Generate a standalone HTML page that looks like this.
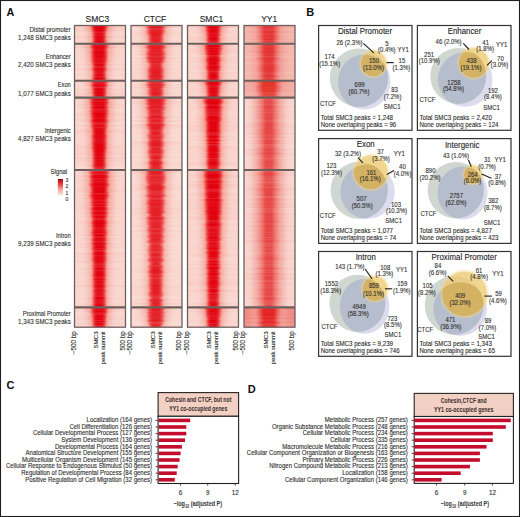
<!DOCTYPE html>
<html><head><meta charset="utf-8"><title>Figure</title>
<style>html,body{margin:0;padding:0;background:#fff;}body{width:520px;height:517px;overflow:hidden;font-family:"Liberation Sans",sans-serif;}svg{display:block;}</style>
</head><body><svg width="520" height="517" viewBox="0 0 520 517" font-family="Liberation Sans, sans-serif"><defs><filter id="bl0" x="-50%" y="-10%" width="200%" height="120%"><feGaussianBlur stdDeviation="0.8 0.2"/></filter><filter id="bl1" x="-50%" y="-10%" width="200%" height="120%"><feGaussianBlur stdDeviation="1.3 0.2"/></filter><filter id="bl2" x="-50%" y="-10%" width="200%" height="120%"><feGaussianBlur stdDeviation="2.2 0.2"/></filter><filter id="bl3" x="-50%" y="-10%" width="200%" height="120%"><feGaussianBlur stdDeviation="3.0 0.2"/></filter><clipPath id="c0_0"><rect x="74.5" y="25.5" width="51.0" height="18.299999999999997"/></clipPath><clipPath id="c0_1"><rect x="74.5" y="43.8" width="51.0" height="37.0"/></clipPath><clipPath id="c0_2"><rect x="74.5" y="80.8" width="51.0" height="16.799999999999997"/></clipPath><clipPath id="c0_3"><rect x="74.5" y="97.6" width="51.0" height="72.4"/></clipPath><clipPath id="c0_4"><rect x="74.5" y="170.0" width="51.0" height="137.39999999999998"/></clipPath><clipPath id="c0_5"><rect x="74.5" y="307.4" width="51.0" height="19.80000000000001"/></clipPath><clipPath id="c1_0"><rect x="131.0" y="25.5" width="51.0" height="18.299999999999997"/></clipPath><clipPath id="c1_1"><rect x="131.0" y="43.8" width="51.0" height="37.0"/></clipPath><clipPath id="c1_2"><rect x="131.0" y="80.8" width="51.0" height="16.799999999999997"/></clipPath><clipPath id="c1_3"><rect x="131.0" y="97.6" width="51.0" height="72.4"/></clipPath><clipPath id="c1_4"><rect x="131.0" y="170.0" width="51.0" height="137.39999999999998"/></clipPath><clipPath id="c1_5"><rect x="131.0" y="307.4" width="51.0" height="19.80000000000001"/></clipPath><clipPath id="c2_0"><rect x="187.5" y="25.5" width="51.0" height="18.299999999999997"/></clipPath><clipPath id="c2_1"><rect x="187.5" y="43.8" width="51.0" height="37.0"/></clipPath><clipPath id="c2_2"><rect x="187.5" y="80.8" width="51.0" height="16.799999999999997"/></clipPath><clipPath id="c2_3"><rect x="187.5" y="97.6" width="51.0" height="72.4"/></clipPath><clipPath id="c2_4"><rect x="187.5" y="170.0" width="51.0" height="137.39999999999998"/></clipPath><clipPath id="c2_5"><rect x="187.5" y="307.4" width="51.0" height="19.80000000000001"/></clipPath><clipPath id="c3_0"><rect x="244.0" y="25.5" width="51.0" height="18.299999999999997"/></clipPath><clipPath id="c3_1"><rect x="244.0" y="43.8" width="51.0" height="37.0"/></clipPath><clipPath id="c3_2"><rect x="244.0" y="80.8" width="51.0" height="16.799999999999997"/></clipPath><clipPath id="c3_3"><rect x="244.0" y="97.6" width="51.0" height="72.4"/></clipPath><clipPath id="c3_4"><rect x="244.0" y="170.0" width="51.0" height="137.39999999999998"/></clipPath><clipPath id="c3_5"><rect x="244.0" y="307.4" width="51.0" height="19.80000000000001"/></clipPath><linearGradient id="sig" x1="0" y1="0" x2="0" y2="1"><stop offset="0" stop-color="#8c0c10"/><stop offset="0.12" stop-color="#c01818"/><stop offset="0.3" stop-color="#ec3a3a"/><stop offset="0.62" stop-color="#f4a49c"/><stop offset="1" stop-color="#fbece8"/></linearGradient><filter id="ysoft" x="-30%" y="-30%" width="160%" height="160%"><feGaussianBlur stdDeviation="0.7"/></filter><clipPath id="cc0"><ellipse cx="359.0" cy="77.8" rx="29.2" ry="29.2"/></clipPath><clipPath id="sc0"><ellipse cx="364.2" cy="82.0" rx="26.3" ry="27.6"/></clipPath><radialGradient id="yg0" cx="373.5" cy="63.6" r="15.6" gradientUnits="userSpaceOnUse"><stop offset="0.744" stop-color="#f0d68e" stop-opacity="0.75"/><stop offset="1" stop-color="#f0d68e" stop-opacity="0"/></radialGradient><clipPath id="cc1"><ellipse cx="458.3" cy="76.0" rx="28.0" ry="28.0"/></clipPath><clipPath id="sc1"><ellipse cx="465.2" cy="79.5" rx="27.3" ry="27.3"/></clipPath><radialGradient id="yg1" cx="473.7" cy="63.0" r="17.7" gradientUnits="userSpaceOnUse"><stop offset="0.774" stop-color="#f0d68e" stop-opacity="0.75"/><stop offset="1" stop-color="#f0d68e" stop-opacity="0"/></radialGradient><clipPath id="cc2"><ellipse cx="359.2" cy="190.3" rx="28.6" ry="28.6"/></clipPath><clipPath id="sc2"><ellipse cx="367.6" cy="191.7" rx="27.2" ry="27.2"/></clipPath><radialGradient id="yg2" cx="370.8" cy="172.4" r="19.8" gradientUnits="userSpaceOnUse"><stop offset="0.798" stop-color="#f0d68e" stop-opacity="0.75"/><stop offset="1" stop-color="#f0d68e" stop-opacity="0"/></radialGradient><clipPath id="cc3"><ellipse cx="455.7" cy="190.2" rx="28.1" ry="28.1"/></clipPath><clipPath id="sc3"><ellipse cx="462.6" cy="193.0" rx="25.0" ry="26.5"/></clipPath><radialGradient id="yg3" cx="473.0" cy="174.8" r="12.0" gradientUnits="userSpaceOnUse"><stop offset="0.667" stop-color="#f0d68e" stop-opacity="0.75"/><stop offset="1" stop-color="#f0d68e" stop-opacity="0"/></radialGradient><clipPath id="cc4"><ellipse cx="357.4" cy="303.3" rx="28.0" ry="28.5"/></clipPath><clipPath id="sc4"><ellipse cx="364.6" cy="306.4" rx="24.8" ry="27.4"/></clipPath><radialGradient id="yg4" cx="375.0" cy="288.6" r="15.2" gradientUnits="userSpaceOnUse"><stop offset="0.737" stop-color="#f0d68e" stop-opacity="0.75"/><stop offset="1" stop-color="#f0d68e" stop-opacity="0"/></radialGradient><clipPath id="cc5"><ellipse cx="454.2" cy="305.3" rx="29.4" ry="29.4"/></clipPath><clipPath id="sc5"><ellipse cx="460.1" cy="309.1" rx="26.8" ry="26.8"/></clipPath><radialGradient id="yg5" cx="464.4" cy="294.0" r="25.3" gradientUnits="userSpaceOnUse"><stop offset="0.842" stop-color="#f0d68e" stop-opacity="0.75"/><stop offset="1" stop-color="#f0d68e" stop-opacity="0"/></radialGradient></defs><rect x="0.5" y="0.5" width="519" height="516" fill="none" stroke="#1e1e1e" stroke-width="1.1"/><text x="6.6" y="15.9" font-size="10.8" text-anchor="start" fill="#111" font-weight="bold" >A</text><g clip-path="url(#c0_0)"><rect x="74.5" y="25.5" width="51.0" height="18.299999999999997" fill="#f9d4cc"/><polygon points="85.5,24.0 86.7,28.0 87.8,32.0 88.7,36.0 89.4,40.0 89.8,44.0 89.9,45.3 108.7,45.3 108.8,44.0 109.2,40.0 109.9,36.0 110.8,32.0 111.9,28.0 113.1,24.0" fill="#f3968a" opacity="0.85" filter="url(#bl3)"/><polygon points="91.2,24.0 91.3,25.0 91.3,26.0 91.6,27.0 91.7,28.0 92.0,29.0 92.3,30.0 92.4,31.0 92.6,32.0 92.7,33.0 93.0,34.0 93.1,35.0 92.8,36.0 92.7,37.0 93.2,38.0 93.3,39.0 93.0,40.0 92.8,41.0 93.1,42.0 93.2,43.0 93.2,44.0 93.4,45.0 93.4,45.3 105.2,45.3 105.2,45.0 105.4,44.0 105.4,43.0 105.5,42.0 105.8,41.0 105.6,40.0 105.3,39.0 105.4,38.0 105.9,37.0 105.8,36.0 105.5,35.0 105.6,34.0 105.9,33.0 106.0,32.0 106.2,31.0 106.3,30.0 106.6,29.0 106.9,28.0 107.0,27.0 107.3,26.0 107.3,25.0 107.4,24.0" fill="#ee3236" filter="url(#bl1)"/><polygon points="93.8,24.0 93.9,25.0 93.9,26.0 94.1,27.0 94.2,28.0 94.4,29.0 94.6,30.0 94.7,31.0 94.8,32.0 94.9,33.0 95.1,34.0 95.2,35.0 95.0,36.0 94.9,37.0 95.2,38.0 95.3,39.0 95.1,40.0 95.0,41.0 95.2,42.0 95.3,43.0 95.3,44.0 95.4,45.0 95.4,45.3 103.2,45.3 103.2,45.0 103.3,44.0 103.3,43.0 103.4,42.0 103.6,41.0 103.5,40.0 103.3,39.0 103.4,38.0 103.7,37.0 103.6,36.0 103.4,35.0 103.5,34.0 103.7,33.0 103.8,32.0 103.9,31.0 104.0,30.0 104.2,29.0 104.4,28.0 104.5,27.0 104.7,26.0 104.7,25.0 104.8,24.0" fill="#e2000f" filter="url(#bl0)"/><rect x="74.5" y="25.50" width="51.0" height="1.0" fill="#e87070" opacity="0.04"/><rect x="74.5" y="26.50" width="51.0" height="1.2" fill="#e87070" opacity="0.04"/><rect x="74.5" y="27.70" width="51.0" height="1.0" fill="#e87070" opacity="0.01"/><rect x="74.5" y="28.70" width="51.0" height="1.0" fill="#e87070" opacity="0.03"/><rect x="74.5" y="29.70" width="51.0" height="0.8" fill="#e87070" opacity="0.04"/><rect x="74.5" y="30.50" width="51.0" height="1.0" fill="#e87070" opacity="0.03"/><rect x="74.5" y="31.50" width="51.0" height="1.6" fill="#ffffff" opacity="0.11"/><rect x="74.5" y="33.10" width="51.0" height="1.6" fill="#ffffff" opacity="0.05"/><rect x="74.5" y="34.70" width="51.0" height="1.0" fill="#ffffff" opacity="0.10"/><rect x="74.5" y="35.70" width="51.0" height="0.8" fill="#e87070" opacity="0.04"/><rect x="74.5" y="36.50" width="51.0" height="1.6" fill="#e87070" opacity="0.06"/><rect x="74.5" y="38.10" width="51.0" height="1.6" fill="#ffffff" opacity="0.04"/><rect x="74.5" y="39.70" width="51.0" height="0.8" fill="#ffffff" opacity="0.07"/><rect x="74.5" y="40.50" width="51.0" height="1.2" fill="#ffffff" opacity="0.02"/><rect x="74.5" y="41.70" width="51.0" height="1.6" fill="#e87070" opacity="0.00"/><rect x="74.5" y="43.30" width="51.0" height="0.8" fill="#e87070" opacity="0.05"/></g><g clip-path="url(#c0_1)"><rect x="74.5" y="43.8" width="51.0" height="37.0" fill="#f9d4cc"/><polygon points="85.3,42.3 86.0,46.3 86.6,50.3 87.2,54.3 87.7,58.3 88.2,62.3 88.6,66.3 89.0,70.3 89.3,74.3 89.5,78.3 89.6,82.3 89.6,82.3 109.0,82.3 109.0,82.3 109.1,78.3 109.3,74.3 109.6,70.3 110.0,66.3 110.4,62.3 110.9,58.3 111.4,54.3 112.0,50.3 112.6,46.3 113.3,42.3" fill="#f3968a" opacity="0.85" filter="url(#bl3)"/><polygon points="89.9,42.3 90.2,43.3 90.8,44.3 91.0,45.3 90.8,46.3 90.9,47.3 91.6,48.3 91.9,49.3 91.6,50.3 91.5,51.3 91.7,52.3 91.6,53.3 91.7,54.3 91.6,55.3 91.6,56.3 91.7,57.3 91.6,58.3 91.7,59.3 91.9,60.3 91.9,61.3 92.1,62.3 92.3,63.3 92.5,64.3 92.8,65.3 92.7,66.3 92.5,67.3 92.4,68.3 92.4,69.3 92.7,70.3 93.1,71.3 93.1,72.3 93.2,73.3 93.3,74.3 93.1,75.3 92.9,76.3 92.6,77.3 92.5,78.3 92.8,79.3 93.2,80.3 93.5,81.3 93.6,82.3 93.5,82.3 105.1,82.3 105.0,82.3 105.1,81.3 105.4,80.3 105.8,79.3 106.1,78.3 106.0,77.3 105.7,76.3 105.5,75.3 105.3,74.3 105.4,73.3 105.5,72.3 105.5,71.3 105.9,70.3 106.2,69.3 106.2,68.3 106.1,67.3 105.9,66.3 105.8,65.3 106.1,64.3 106.3,63.3 106.5,62.3 106.7,61.3 106.7,60.3 106.9,59.3 107.0,58.3 106.9,57.3 107.0,56.3 107.0,55.3 106.9,54.3 107.0,53.3 106.9,52.3 107.1,51.3 107.0,50.3 106.7,49.3 107.0,48.3 107.7,47.3 107.8,46.3 107.6,45.3 107.8,44.3 108.4,43.3 108.7,42.3" fill="#ee3236" filter="url(#bl1)"/><polygon points="92.9,42.3 93.1,43.3 93.5,44.3 93.7,45.3 93.5,46.3 93.6,47.3 94.0,48.3 94.3,49.3 94.1,50.3 94.0,51.3 94.1,52.3 94.1,53.3 94.1,54.3 94.1,55.3 94.1,56.3 94.2,57.3 94.1,58.3 94.1,59.3 94.3,60.3 94.3,61.3 94.4,62.3 94.5,63.3 94.7,64.3 94.9,65.3 94.8,66.3 94.7,67.3 94.6,68.3 94.6,69.3 94.8,70.3 95.1,71.3 95.1,72.3 95.2,73.3 95.2,74.3 95.1,75.3 95.0,76.3 94.8,77.3 94.7,78.3 94.9,79.3 95.2,80.3 95.4,81.3 95.5,82.3 95.3,82.3 103.3,82.3 103.1,82.3 103.2,81.3 103.4,80.3 103.7,79.3 103.9,78.3 103.8,77.3 103.6,76.3 103.5,75.3 103.4,74.3 103.4,73.3 103.5,72.3 103.5,71.3 103.8,70.3 104.0,69.3 104.0,68.3 103.9,67.3 103.8,66.3 103.7,65.3 103.9,64.3 104.1,63.3 104.2,62.3 104.3,61.3 104.3,60.3 104.5,59.3 104.5,58.3 104.4,57.3 104.5,56.3 104.5,55.3 104.5,54.3 104.5,53.3 104.5,52.3 104.6,51.3 104.5,50.3 104.3,49.3 104.6,48.3 105.0,47.3 105.1,46.3 104.9,45.3 105.1,44.3 105.5,43.3 105.7,42.3" fill="#e2000f" filter="url(#bl0)"/><rect x="74.5" y="43.80" width="51.0" height="0.8" fill="#e87070" opacity="0.03"/><rect x="74.5" y="44.60" width="51.0" height="1.0" fill="#ffffff" opacity="0.04"/><rect x="74.5" y="45.60" width="51.0" height="1.0" fill="#ffffff" opacity="0.06"/><rect x="74.5" y="46.60" width="51.0" height="1.2" fill="#e87070" opacity="0.07"/><rect x="74.5" y="47.80" width="51.0" height="0.8" fill="#e87070" opacity="0.03"/><rect x="74.5" y="48.60" width="51.0" height="1.6" fill="#ffffff" opacity="0.06"/><rect x="74.5" y="50.20" width="51.0" height="0.8" fill="#ffffff" opacity="0.07"/><rect x="74.5" y="51.00" width="51.0" height="0.8" fill="#ffffff" opacity="0.03"/><rect x="74.5" y="51.80" width="51.0" height="1.6" fill="#ffffff" opacity="0.02"/><rect x="74.5" y="53.40" width="51.0" height="0.8" fill="#e87070" opacity="0.01"/><rect x="74.5" y="54.20" width="51.0" height="1.0" fill="#ffffff" opacity="0.08"/><rect x="74.5" y="55.20" width="51.0" height="0.8" fill="#ffffff" opacity="0.01"/><rect x="74.5" y="56.00" width="51.0" height="1.6" fill="#ffffff" opacity="0.02"/><rect x="74.5" y="57.60" width="51.0" height="1.2" fill="#ffffff" opacity="0.08"/><rect x="74.5" y="58.80" width="51.0" height="0.8" fill="#ffffff" opacity="0.02"/><rect x="74.5" y="59.60" width="51.0" height="1.6" fill="#ffffff" opacity="0.07"/><rect x="74.5" y="61.20" width="51.0" height="0.8" fill="#e87070" opacity="0.01"/><rect x="74.5" y="62.00" width="51.0" height="1.2" fill="#ffffff" opacity="0.10"/><rect x="74.5" y="63.20" width="51.0" height="1.0" fill="#ffffff" opacity="0.07"/><rect x="74.5" y="64.20" width="51.0" height="1.2" fill="#e87070" opacity="0.01"/><rect x="74.5" y="65.40" width="51.0" height="0.8" fill="#ffffff" opacity="0.11"/><rect x="74.5" y="66.20" width="51.0" height="0.8" fill="#ffffff" opacity="0.10"/><rect x="74.5" y="67.00" width="51.0" height="1.2" fill="#ffffff" opacity="0.13"/><rect x="74.5" y="68.20" width="51.0" height="1.0" fill="#e87070" opacity="0.04"/><rect x="74.5" y="69.20" width="51.0" height="1.2" fill="#e87070" opacity="0.04"/><rect x="74.5" y="70.40" width="51.0" height="1.0" fill="#ffffff" opacity="0.11"/><rect x="74.5" y="71.40" width="51.0" height="1.0" fill="#ffffff" opacity="0.03"/><rect x="74.5" y="72.40" width="51.0" height="1.2" fill="#ffffff" opacity="0.10"/><rect x="74.5" y="73.60" width="51.0" height="1.2" fill="#ffffff" opacity="0.07"/><rect x="74.5" y="74.80" width="51.0" height="1.2" fill="#e87070" opacity="0.03"/><rect x="74.5" y="76.00" width="51.0" height="1.2" fill="#ffffff" opacity="0.13"/><rect x="74.5" y="77.20" width="51.0" height="0.8" fill="#ffffff" opacity="0.03"/><rect x="74.5" y="78.00" width="51.0" height="1.6" fill="#ffffff" opacity="0.03"/><rect x="74.5" y="79.60" width="51.0" height="1.6" fill="#e87070" opacity="0.04"/></g><g clip-path="url(#c0_2)"><rect x="74.5" y="80.8" width="51.0" height="16.799999999999997" fill="#f9d4cc"/><polygon points="85.5,79.3 86.8,83.3 88.0,87.3 88.9,91.3 89.6,95.3 89.9,99.1 108.7,99.1 109.0,95.3 109.7,91.3 110.6,87.3 111.8,83.3 113.1,79.3" fill="#f3968a" opacity="0.85" filter="url(#bl3)"/><polygon points="90.2,79.3 90.7,80.3 90.8,81.3 91.2,82.3 91.7,83.3 91.6,84.3 91.3,85.3 91.5,86.3 91.9,87.3 92.4,88.3 92.7,89.3 92.6,90.3 92.7,91.3 92.6,92.3 92.6,93.3 93.1,94.3 93.2,95.3 92.9,96.3 93.1,97.3 93.7,98.3 93.9,99.1 104.7,99.1 104.9,98.3 105.5,97.3 105.7,96.3 105.4,95.3 105.5,94.3 106.0,93.3 106.0,92.3 105.9,91.3 106.0,90.3 105.9,89.3 106.2,88.3 106.7,87.3 107.1,86.3 107.3,85.3 107.0,84.3 106.9,83.3 107.4,82.3 107.8,81.3 107.9,80.3 108.4,79.3" fill="#ee3236" filter="url(#bl1)"/><polygon points="93.2,79.3 93.5,80.3 93.6,81.3 93.8,82.3 94.2,83.3 94.1,84.3 94.0,85.3 94.1,86.3 94.4,87.3 94.7,88.3 94.9,89.3 94.9,90.3 94.9,91.3 94.8,92.3 94.8,93.3 95.2,94.3 95.2,95.3 95.1,96.3 95.2,97.3 95.6,98.3 95.7,99.1 102.9,99.1 103.0,98.3 103.4,97.3 103.5,96.3 103.4,95.3 103.4,94.3 103.8,93.3 103.8,92.3 103.7,91.3 103.7,90.3 103.7,89.3 103.9,88.3 104.2,87.3 104.5,86.3 104.6,85.3 104.5,84.3 104.4,83.3 104.8,82.3 105.0,81.3 105.1,80.3 105.4,79.3" fill="#e2000f" filter="url(#bl0)"/><rect x="74.5" y="80.80" width="51.0" height="1.6" fill="#ffffff" opacity="0.11"/><rect x="74.5" y="82.40" width="51.0" height="1.6" fill="#ffffff" opacity="0.09"/><rect x="74.5" y="84.00" width="51.0" height="1.0" fill="#ffffff" opacity="0.08"/><rect x="74.5" y="85.00" width="51.0" height="0.8" fill="#e87070" opacity="0.00"/><rect x="74.5" y="85.80" width="51.0" height="0.8" fill="#ffffff" opacity="0.07"/><rect x="74.5" y="86.60" width="51.0" height="1.6" fill="#ffffff" opacity="0.14"/><rect x="74.5" y="88.20" width="51.0" height="1.0" fill="#ffffff" opacity="0.00"/><rect x="74.5" y="89.20" width="51.0" height="1.2" fill="#e87070" opacity="0.04"/><rect x="74.5" y="90.40" width="51.0" height="1.2" fill="#ffffff" opacity="0.04"/><rect x="74.5" y="91.60" width="51.0" height="1.0" fill="#e87070" opacity="0.00"/><rect x="74.5" y="92.60" width="51.0" height="1.2" fill="#e87070" opacity="0.06"/><rect x="74.5" y="93.80" width="51.0" height="1.6" fill="#e87070" opacity="0.06"/><rect x="74.5" y="95.40" width="51.0" height="1.0" fill="#e87070" opacity="0.04"/><rect x="74.5" y="96.40" width="51.0" height="0.8" fill="#ffffff" opacity="0.12"/><rect x="74.5" y="97.20" width="51.0" height="0.8" fill="#ffffff" opacity="0.11"/></g><g clip-path="url(#c0_3)"><rect x="74.5" y="97.6" width="51.0" height="72.4" fill="#f9d4cc"/><polygon points="85.0,96.1 85.4,100.1 85.8,104.1 86.1,108.1 86.5,112.1 86.8,116.1 87.1,120.1 87.4,124.1 87.7,128.1 88.0,132.1 88.2,136.1 88.5,140.1 88.7,144.1 88.9,148.1 89.1,152.1 89.2,156.1 89.4,160.1 89.5,164.1 89.6,168.1 89.6,171.5 109.0,171.5 109.0,168.1 109.1,164.1 109.2,160.1 109.4,156.1 109.5,152.1 109.7,148.1 109.9,144.1 110.1,140.1 110.4,136.1 110.6,132.1 110.9,128.1 111.2,124.1 111.5,120.1 111.8,116.1 112.1,112.1 112.5,108.1 112.8,104.1 113.2,100.1 113.6,96.1" fill="#f3968a" opacity="0.85" filter="url(#bl3)"/><polygon points="90.8,96.1 90.3,97.1 90.1,98.1 90.3,99.1 90.6,100.1 90.5,101.1 90.3,102.1 90.5,103.1 90.9,104.1 91.0,105.1 91.1,106.1 91.1,107.1 90.7,108.1 90.8,109.1 90.8,110.1 90.6,111.1 90.6,112.1 91.0,113.1 91.1,114.1 91.2,115.1 91.2,116.1 91.2,117.1 91.4,118.1 91.5,119.1 91.3,120.1 91.1,121.1 91.1,122.1 91.0,123.1 91.3,124.1 91.8,125.1 91.7,126.1 91.3,127.1 91.6,128.1 92.3,129.1 92.5,130.1 92.4,131.1 92.6,132.1 92.7,133.1 92.6,134.1 92.1,135.1 91.8,136.1 92.0,137.1 92.3,138.1 92.2,139.1 92.3,140.1 92.5,141.1 92.1,142.1 92.1,143.1 92.4,144.1 92.3,145.1 92.5,146.1 92.5,147.1 92.1,148.1 92.4,149.1 92.9,150.1 92.9,151.1 92.8,152.1 93.0,153.1 93.2,154.1 93.0,155.1 93.0,156.1 93.2,157.1 93.1,158.1 93.1,159.1 93.4,160.1 93.2,161.1 93.0,162.1 93.1,163.1 93.2,164.1 92.7,165.1 92.5,166.1 92.8,167.1 93.3,168.1 93.6,169.1 93.4,170.1 93.1,171.1 93.3,171.5 105.3,171.5 105.5,171.1 105.2,170.1 105.0,169.1 105.3,168.1 105.8,167.1 106.1,166.1 105.9,165.1 105.4,164.1 105.5,163.1 105.6,162.1 105.4,161.1 105.2,160.1 105.5,159.1 105.5,158.1 105.4,157.1 105.6,156.1 105.6,155.1 105.4,154.1 105.6,153.1 105.8,152.1 105.7,151.1 105.7,150.1 106.2,149.1 106.5,148.1 106.1,147.1 106.1,146.1 106.3,145.1 106.2,144.1 106.5,143.1 106.5,142.1 106.1,141.1 106.3,140.1 106.4,139.1 106.3,138.1 106.6,137.1 106.8,136.1 106.5,135.1 106.0,134.1 105.9,133.1 106.0,132.1 106.2,131.1 106.1,130.1 106.3,129.1 107.0,128.1 107.3,127.1 106.9,126.1 106.8,125.1 107.3,124.1 107.6,123.1 107.5,122.1 107.5,121.1 107.3,120.1 107.1,119.1 107.2,118.1 107.4,117.1 107.4,116.1 107.4,115.1 107.5,114.1 107.6,113.1 108.0,112.1 108.0,111.1 107.8,110.1 107.8,109.1 107.9,108.1 107.5,107.1 107.5,106.1 107.6,105.1 107.7,104.1 108.1,103.1 108.3,102.1 108.1,101.1 108.0,100.1 108.3,99.1 108.5,98.1 108.3,97.1 107.8,96.1" fill="#ee3236" filter="url(#bl1)"/><polygon points="93.4,96.1 93.1,97.1 92.9,98.1 93.1,99.1 93.3,100.1 93.2,101.1 93.1,102.1 93.2,103.1 93.5,104.1 93.6,105.1 93.7,106.1 93.6,107.1 93.4,108.1 93.4,109.1 93.5,110.1 93.3,111.1 93.3,112.1 93.6,113.1 93.7,114.1 93.7,115.1 93.7,116.1 93.7,117.1 93.8,118.1 93.9,119.1 93.8,120.1 93.7,121.1 93.6,122.1 93.6,123.1 93.8,124.1 94.1,125.1 94.1,126.1 93.8,127.1 94.0,128.1 94.5,129.1 94.6,130.1 94.6,131.1 94.7,132.1 94.8,133.1 94.7,134.1 94.4,135.1 94.1,136.1 94.3,137.1 94.6,138.1 94.5,139.1 94.5,140.1 94.7,141.1 94.4,142.1 94.4,143.1 94.6,144.1 94.6,145.1 94.7,146.1 94.7,147.1 94.4,148.1 94.6,149.1 94.9,150.1 95.0,151.1 94.9,152.1 95.0,153.1 95.2,154.1 95.0,155.1 95.0,156.1 95.1,157.1 95.1,158.1 95.1,159.1 95.3,160.1 95.2,161.1 95.0,162.1 95.1,163.1 95.1,164.1 94.9,165.1 94.7,166.1 94.9,167.1 95.2,168.1 95.4,169.1 95.3,170.1 95.1,171.1 95.2,171.5 103.4,171.5 103.5,171.1 103.3,170.1 103.2,169.1 103.4,168.1 103.7,167.1 103.9,166.1 103.7,165.1 103.5,164.1 103.5,163.1 103.6,162.1 103.4,161.1 103.3,160.1 103.5,159.1 103.5,158.1 103.5,157.1 103.6,156.1 103.6,155.1 103.4,154.1 103.6,153.1 103.7,152.1 103.6,151.1 103.7,150.1 104.0,149.1 104.2,148.1 103.9,147.1 103.9,146.1 104.0,145.1 104.0,144.1 104.2,143.1 104.2,142.1 103.9,141.1 104.1,140.1 104.1,139.1 104.0,138.1 104.3,137.1 104.5,136.1 104.2,135.1 103.9,134.1 103.8,133.1 103.9,132.1 104.0,131.1 104.0,130.1 104.1,129.1 104.6,128.1 104.8,127.1 104.5,126.1 104.5,125.1 104.8,124.1 105.0,123.1 105.0,122.1 104.9,121.1 104.8,120.1 104.7,119.1 104.8,118.1 104.9,117.1 104.9,116.1 104.9,115.1 104.9,114.1 105.0,113.1 105.3,112.1 105.3,111.1 105.1,110.1 105.2,109.1 105.2,108.1 105.0,107.1 104.9,106.1 105.0,105.1 105.1,104.1 105.4,103.1 105.5,102.1 105.4,101.1 105.3,100.1 105.5,99.1 105.7,98.1 105.5,97.1 105.2,96.1" fill="#e2000f" filter="url(#bl0)"/><rect x="74.5" y="97.60" width="51.0" height="1.6" fill="#e87070" opacity="0.06"/><rect x="74.5" y="99.20" width="51.0" height="1.2" fill="#e87070" opacity="0.03"/><rect x="74.5" y="100.40" width="51.0" height="1.6" fill="#ffffff" opacity="0.10"/><rect x="74.5" y="102.00" width="51.0" height="1.2" fill="#e87070" opacity="0.00"/><rect x="74.5" y="103.20" width="51.0" height="1.0" fill="#ffffff" opacity="0.06"/><rect x="74.5" y="104.20" width="51.0" height="1.2" fill="#e87070" opacity="0.07"/><rect x="74.5" y="105.40" width="51.0" height="0.8" fill="#ffffff" opacity="0.11"/><rect x="74.5" y="106.20" width="51.0" height="1.0" fill="#ffffff" opacity="0.01"/><rect x="74.5" y="107.20" width="51.0" height="1.6" fill="#e87070" opacity="0.00"/><rect x="74.5" y="108.80" width="51.0" height="1.6" fill="#ffffff" opacity="0.13"/><rect x="74.5" y="110.40" width="51.0" height="1.0" fill="#e87070" opacity="0.00"/><rect x="74.5" y="111.40" width="51.0" height="1.0" fill="#ffffff" opacity="0.13"/><rect x="74.5" y="112.40" width="51.0" height="1.2" fill="#ffffff" opacity="0.01"/><rect x="74.5" y="113.60" width="51.0" height="1.2" fill="#e87070" opacity="0.04"/><rect x="74.5" y="114.80" width="51.0" height="1.0" fill="#e87070" opacity="0.02"/><rect x="74.5" y="115.80" width="51.0" height="1.0" fill="#ffffff" opacity="0.04"/><rect x="74.5" y="116.80" width="51.0" height="1.2" fill="#ffffff" opacity="0.01"/><rect x="74.5" y="118.00" width="51.0" height="1.0" fill="#ffffff" opacity="0.07"/><rect x="74.5" y="119.00" width="51.0" height="1.6" fill="#e87070" opacity="0.01"/><rect x="74.5" y="120.60" width="51.0" height="1.6" fill="#e87070" opacity="0.05"/><rect x="74.5" y="122.20" width="51.0" height="1.6" fill="#ffffff" opacity="0.14"/><rect x="74.5" y="123.80" width="51.0" height="1.0" fill="#ffffff" opacity="0.14"/><rect x="74.5" y="124.80" width="51.0" height="1.0" fill="#e87070" opacity="0.06"/><rect x="74.5" y="125.80" width="51.0" height="1.0" fill="#ffffff" opacity="0.06"/><rect x="74.5" y="126.80" width="51.0" height="0.8" fill="#ffffff" opacity="0.12"/><rect x="74.5" y="127.60" width="51.0" height="0.8" fill="#ffffff" opacity="0.09"/><rect x="74.5" y="128.40" width="51.0" height="1.6" fill="#ffffff" opacity="0.02"/><rect x="74.5" y="130.00" width="51.0" height="1.6" fill="#e87070" opacity="0.06"/><rect x="74.5" y="131.60" width="51.0" height="1.2" fill="#e87070" opacity="0.04"/><rect x="74.5" y="132.80" width="51.0" height="1.2" fill="#ffffff" opacity="0.01"/><rect x="74.5" y="134.00" width="51.0" height="1.0" fill="#ffffff" opacity="0.04"/><rect x="74.5" y="135.00" width="51.0" height="1.2" fill="#ffffff" opacity="0.05"/><rect x="74.5" y="136.20" width="51.0" height="1.2" fill="#ffffff" opacity="0.03"/><rect x="74.5" y="137.40" width="51.0" height="1.0" fill="#ffffff" opacity="0.05"/><rect x="74.5" y="138.40" width="51.0" height="1.2" fill="#ffffff" opacity="0.05"/><rect x="74.5" y="139.60" width="51.0" height="1.2" fill="#ffffff" opacity="0.07"/><rect x="74.5" y="140.80" width="51.0" height="1.0" fill="#ffffff" opacity="0.07"/><rect x="74.5" y="141.80" width="51.0" height="0.8" fill="#ffffff" opacity="0.04"/><rect x="74.5" y="142.60" width="51.0" height="1.0" fill="#ffffff" opacity="0.06"/><rect x="74.5" y="143.60" width="51.0" height="1.6" fill="#ffffff" opacity="0.00"/><rect x="74.5" y="145.20" width="51.0" height="1.0" fill="#e87070" opacity="0.01"/><rect x="74.5" y="146.20" width="51.0" height="1.0" fill="#e87070" opacity="0.05"/><rect x="74.5" y="147.20" width="51.0" height="1.6" fill="#e87070" opacity="0.05"/><rect x="74.5" y="148.80" width="51.0" height="1.6" fill="#e87070" opacity="0.01"/><rect x="74.5" y="150.40" width="51.0" height="1.0" fill="#e87070" opacity="0.00"/><rect x="74.5" y="151.40" width="51.0" height="1.6" fill="#e87070" opacity="0.05"/><rect x="74.5" y="153.00" width="51.0" height="1.0" fill="#e87070" opacity="0.06"/><rect x="74.5" y="154.00" width="51.0" height="0.8" fill="#e87070" opacity="0.06"/><rect x="74.5" y="154.80" width="51.0" height="1.0" fill="#ffffff" opacity="0.01"/><rect x="74.5" y="155.80" width="51.0" height="1.0" fill="#ffffff" opacity="0.09"/><rect x="74.5" y="156.80" width="51.0" height="1.6" fill="#e87070" opacity="0.06"/><rect x="74.5" y="158.40" width="51.0" height="0.8" fill="#e87070" opacity="0.04"/><rect x="74.5" y="159.20" width="51.0" height="1.0" fill="#ffffff" opacity="0.07"/><rect x="74.5" y="160.20" width="51.0" height="1.6" fill="#e87070" opacity="0.06"/><rect x="74.5" y="161.80" width="51.0" height="0.8" fill="#ffffff" opacity="0.09"/><rect x="74.5" y="162.60" width="51.0" height="1.6" fill="#ffffff" opacity="0.04"/><rect x="74.5" y="164.20" width="51.0" height="1.2" fill="#ffffff" opacity="0.03"/><rect x="74.5" y="165.40" width="51.0" height="1.0" fill="#ffffff" opacity="0.10"/><rect x="74.5" y="166.40" width="51.0" height="1.6" fill="#ffffff" opacity="0.12"/><rect x="74.5" y="168.00" width="51.0" height="1.6" fill="#ffffff" opacity="0.13"/><rect x="74.5" y="169.60" width="51.0" height="0.8" fill="#e87070" opacity="0.04"/></g><g clip-path="url(#c0_4)"><rect x="74.5" y="170.0" width="51.0" height="137.39999999999998" fill="#f9d4cc"/><polygon points="84.7,168.5 84.9,172.5 85.2,176.5 85.4,180.5 85.6,184.5 85.8,188.5 86.0,192.5 86.2,196.5 86.4,200.5 86.6,204.5 86.8,208.5 87.0,212.5 87.2,216.5 87.4,220.5 87.5,224.5 87.7,228.5 87.9,232.5 88.0,236.5 88.2,240.5 88.3,244.5 88.5,248.5 88.6,252.5 88.7,256.5 88.9,260.5 89.0,264.5 89.1,268.5 89.2,272.5 89.3,276.5 89.4,280.5 89.5,284.5 89.6,288.5 89.6,292.5 89.7,296.5 89.7,300.5 89.8,304.5 89.8,308.5 89.8,308.9 108.8,308.9 108.8,308.5 108.8,304.5 108.9,300.5 108.9,296.5 109.0,292.5 109.0,288.5 109.1,284.5 109.2,280.5 109.3,276.5 109.4,272.5 109.5,268.5 109.6,264.5 109.7,260.5 109.9,256.5 110.0,252.5 110.1,248.5 110.3,244.5 110.4,240.5 110.6,236.5 110.7,232.5 110.9,228.5 111.1,224.5 111.2,220.5 111.4,216.5 111.6,212.5 111.8,208.5 112.0,204.5 112.2,200.5 112.4,196.5 112.6,192.5 112.8,188.5 113.0,184.5 113.2,180.5 113.4,176.5 113.7,172.5 113.9,168.5" fill="#f3968a" opacity="0.85" filter="url(#bl3)"/><polygon points="90.4,168.5 90.1,169.5 90.0,170.5 89.8,171.5 89.7,172.5 90.1,173.5 90.5,174.5 90.4,175.5 90.0,176.5 90.0,177.5 90.6,178.5 90.8,179.5 90.4,180.5 90.3,181.5 90.6,182.5 90.5,183.5 90.0,184.5 89.8,185.5 90.4,186.5 91.0,187.5 91.2,188.5 91.0,189.5 91.2,190.5 91.3,191.5 90.7,192.5 90.1,193.5 90.2,194.5 90.5,195.5 90.3,196.5 90.5,197.5 91.4,198.5 91.5,199.5 91.1,200.5 91.3,201.5 91.3,202.5 91.1,203.5 91.1,204.5 91.6,205.5 91.8,206.5 91.6,207.5 91.2,208.5 91.0,209.5 91.5,210.5 91.6,211.5 91.1,212.5 91.1,213.5 91.4,214.5 91.4,215.5 91.6,216.5 91.9,217.5 92.1,218.5 92.1,219.5 92.0,220.5 92.0,221.5 91.7,222.5 91.6,223.5 92.1,224.5 92.3,225.5 92.0,226.5 92.2,227.5 92.5,228.5 92.1,229.5 91.9,230.5 92.0,231.5 91.7,232.5 91.5,233.5 91.7,234.5 92.3,235.5 92.5,236.5 92.1,237.5 92.1,238.5 92.2,239.5 92.0,240.5 92.2,241.5 92.3,242.5 92.0,243.5 92.0,244.5 92.5,245.5 92.7,246.5 92.4,247.5 92.2,248.5 92.2,249.5 92.4,250.5 92.9,251.5 92.8,252.5 92.4,253.5 92.4,254.5 92.7,255.5 92.7,256.5 92.5,257.5 92.3,258.5 92.3,259.5 92.6,260.5 93.0,261.5 93.0,262.5 93.0,263.5 92.9,264.5 92.6,265.5 92.6,266.5 92.9,267.5 93.1,268.5 92.9,269.5 92.9,270.5 93.1,271.5 93.1,272.5 93.2,273.5 93.0,274.5 92.7,275.5 92.8,276.5 93.1,277.5 93.1,278.5 92.9,279.5 93.0,280.5 93.1,281.5 93.4,282.5 93.4,283.5 93.2,284.5 93.3,285.5 93.2,286.5 93.1,287.5 93.4,288.5 93.5,289.5 93.1,290.5 93.0,291.5 93.2,292.5 93.4,293.5 93.4,294.5 93.1,295.5 93.1,296.5 93.2,297.5 93.3,298.5 93.2,299.5 93.1,300.5 92.9,301.5 93.1,302.5 93.3,303.5 93.2,304.5 93.2,305.5 93.3,306.5 93.4,307.5 93.3,308.5 93.0,308.9 105.6,308.9 105.3,308.5 105.2,307.5 105.3,306.5 105.4,305.5 105.4,304.5 105.3,303.5 105.5,302.5 105.7,301.5 105.5,300.5 105.4,299.5 105.3,298.5 105.4,297.5 105.5,296.5 105.5,295.5 105.2,294.5 105.2,293.5 105.4,292.5 105.6,291.5 105.5,290.5 105.1,289.5 105.2,288.5 105.5,287.5 105.4,286.5 105.3,285.5 105.4,284.5 105.2,283.5 105.2,282.5 105.5,281.5 105.6,280.5 105.7,279.5 105.5,278.5 105.5,277.5 105.8,276.5 105.9,275.5 105.6,274.5 105.4,273.5 105.5,272.5 105.5,271.5 105.7,270.5 105.7,269.5 105.5,268.5 105.7,267.5 106.0,266.5 106.0,265.5 105.7,264.5 105.6,263.5 105.6,262.5 105.6,261.5 106.0,260.5 106.3,259.5 106.3,258.5 106.1,257.5 105.9,256.5 105.9,255.5 106.2,254.5 106.2,253.5 105.8,252.5 105.7,251.5 106.2,250.5 106.4,249.5 106.4,248.5 106.2,247.5 105.9,246.5 106.1,245.5 106.6,244.5 106.6,243.5 106.3,242.5 106.4,241.5 106.6,240.5 106.4,239.5 106.5,238.5 106.5,237.5 106.1,236.5 106.3,235.5 106.9,234.5 107.1,233.5 106.9,232.5 106.6,231.5 106.7,230.5 106.5,229.5 106.1,228.5 106.4,227.5 106.6,226.5 106.3,225.5 106.5,224.5 107.0,223.5 106.9,222.5 106.6,221.5 106.6,220.5 106.5,219.5 106.5,218.5 106.7,217.5 107.0,216.5 107.2,215.5 107.2,214.5 107.5,213.5 107.5,212.5 107.0,211.5 107.1,210.5 107.6,209.5 107.4,208.5 107.0,207.5 106.8,206.5 107.0,205.5 107.5,204.5 107.5,203.5 107.3,202.5 107.3,201.5 107.5,200.5 107.1,199.5 107.2,198.5 108.1,197.5 108.3,196.5 108.1,195.5 108.4,194.5 108.5,193.5 107.9,192.5 107.3,191.5 107.4,190.5 107.6,189.5 107.4,188.5 107.6,187.5 108.2,186.5 108.8,185.5 108.6,184.5 108.1,183.5 108.0,182.5 108.3,181.5 108.2,180.5 107.8,179.5 108.0,178.5 108.6,177.5 108.6,176.5 108.2,175.5 108.1,174.5 108.5,173.5 108.9,172.5 108.8,171.5 108.6,170.5 108.5,169.5 108.2,168.5" fill="#ee3236" filter="url(#bl1)"/><polygon points="93.0,168.5 92.8,169.5 92.8,170.5 92.7,171.5 92.6,172.5 92.8,173.5 93.1,174.5 93.1,175.5 92.8,176.5 92.8,177.5 93.2,178.5 93.4,179.5 93.1,180.5 93.0,181.5 93.2,182.5 93.1,183.5 92.8,184.5 92.7,185.5 93.1,186.5 93.5,187.5 93.6,188.5 93.5,189.5 93.6,190.5 93.7,191.5 93.3,192.5 92.9,193.5 92.9,194.5 93.2,195.5 93.1,196.5 93.2,197.5 93.8,198.5 93.9,199.5 93.6,200.5 93.7,201.5 93.8,202.5 93.6,203.5 93.6,204.5 93.9,205.5 94.1,206.5 94.0,207.5 93.7,208.5 93.6,209.5 93.9,210.5 94.0,211.5 93.6,212.5 93.7,213.5 93.9,214.5 93.9,215.5 94.0,216.5 94.2,217.5 94.3,218.5 94.3,219.5 94.3,220.5 94.3,221.5 94.1,222.5 94.0,223.5 94.4,224.5 94.5,225.5 94.3,226.5 94.4,227.5 94.6,228.5 94.3,229.5 94.2,230.5 94.3,231.5 94.1,232.5 94.0,233.5 94.1,234.5 94.5,235.5 94.7,236.5 94.4,237.5 94.4,238.5 94.5,239.5 94.3,240.5 94.5,241.5 94.6,242.5 94.3,243.5 94.3,244.5 94.7,245.5 94.8,246.5 94.6,247.5 94.5,248.5 94.4,249.5 94.6,250.5 94.9,251.5 94.9,252.5 94.6,253.5 94.6,254.5 94.8,255.5 94.8,256.5 94.7,257.5 94.6,258.5 94.6,259.5 94.8,260.5 95.0,261.5 95.0,262.5 95.1,263.5 95.0,264.5 94.8,265.5 94.8,266.5 95.0,267.5 95.1,268.5 95.0,269.5 95.0,270.5 95.1,271.5 95.1,272.5 95.2,273.5 95.1,274.5 94.9,275.5 95.0,276.5 95.1,277.5 95.1,278.5 95.0,279.5 95.1,280.5 95.2,281.5 95.3,282.5 95.3,283.5 95.2,284.5 95.3,285.5 95.2,286.5 95.1,287.5 95.4,288.5 95.4,289.5 95.2,290.5 95.1,291.5 95.2,292.5 95.4,293.5 95.4,294.5 95.2,295.5 95.2,296.5 95.3,297.5 95.3,298.5 95.2,299.5 95.1,300.5 95.0,301.5 95.1,302.5 95.3,303.5 95.2,304.5 95.2,305.5 95.3,306.5 95.3,307.5 95.3,308.5 95.1,308.9 103.5,308.9 103.3,308.5 103.3,307.5 103.3,306.5 103.4,305.5 103.4,304.5 103.3,303.5 103.5,302.5 103.6,301.5 103.5,300.5 103.4,299.5 103.3,298.5 103.3,297.5 103.4,296.5 103.4,295.5 103.2,294.5 103.2,293.5 103.4,292.5 103.5,291.5 103.4,290.5 103.2,289.5 103.2,288.5 103.5,287.5 103.4,286.5 103.3,285.5 103.4,284.5 103.3,283.5 103.3,282.5 103.4,281.5 103.5,280.5 103.6,279.5 103.5,278.5 103.5,277.5 103.6,276.5 103.7,275.5 103.5,274.5 103.4,273.5 103.5,272.5 103.5,271.5 103.6,270.5 103.6,269.5 103.5,268.5 103.6,267.5 103.8,266.5 103.8,265.5 103.6,264.5 103.5,263.5 103.6,262.5 103.6,261.5 103.8,260.5 104.0,259.5 104.0,258.5 103.9,257.5 103.8,256.5 103.8,255.5 104.0,254.5 104.0,253.5 103.7,252.5 103.7,251.5 104.0,250.5 104.2,249.5 104.1,248.5 104.0,247.5 103.8,246.5 103.9,245.5 104.3,244.5 104.3,243.5 104.0,242.5 104.1,241.5 104.3,240.5 104.1,239.5 104.2,238.5 104.2,237.5 103.9,236.5 104.1,235.5 104.5,234.5 104.6,233.5 104.5,232.5 104.3,231.5 104.4,230.5 104.3,229.5 104.0,228.5 104.2,227.5 104.3,226.5 104.1,225.5 104.2,224.5 104.6,223.5 104.5,222.5 104.3,221.5 104.3,220.5 104.3,219.5 104.3,218.5 104.4,217.5 104.6,216.5 104.7,215.5 104.7,214.5 104.9,213.5 105.0,212.5 104.6,211.5 104.7,210.5 105.0,209.5 104.9,208.5 104.6,207.5 104.5,206.5 104.7,205.5 105.0,204.5 105.0,203.5 104.8,202.5 104.9,201.5 105.0,200.5 104.7,199.5 104.8,198.5 105.4,197.5 105.5,196.5 105.4,195.5 105.7,194.5 105.7,193.5 105.3,192.5 104.9,191.5 105.0,190.5 105.1,189.5 105.0,188.5 105.1,187.5 105.5,186.5 105.9,185.5 105.8,184.5 105.5,183.5 105.4,182.5 105.6,181.5 105.5,180.5 105.2,179.5 105.4,178.5 105.8,177.5 105.8,176.5 105.5,175.5 105.5,174.5 105.8,173.5 106.0,172.5 105.9,171.5 105.8,170.5 105.8,169.5 105.6,168.5" fill="#e2000f" filter="url(#bl0)"/><rect x="74.5" y="170.00" width="51.0" height="1.0" fill="#e87070" opacity="0.00"/><rect x="74.5" y="171.00" width="51.0" height="1.6" fill="#ffffff" opacity="0.14"/><rect x="74.5" y="172.60" width="51.0" height="0.8" fill="#e87070" opacity="0.01"/><rect x="74.5" y="173.40" width="51.0" height="1.6" fill="#ffffff" opacity="0.14"/><rect x="74.5" y="175.00" width="51.0" height="0.8" fill="#ffffff" opacity="0.03"/><rect x="74.5" y="175.80" width="51.0" height="0.8" fill="#e87070" opacity="0.07"/><rect x="74.5" y="176.60" width="51.0" height="1.6" fill="#ffffff" opacity="0.01"/><rect x="74.5" y="178.20" width="51.0" height="0.8" fill="#ffffff" opacity="0.11"/><rect x="74.5" y="179.00" width="51.0" height="0.8" fill="#ffffff" opacity="0.09"/><rect x="74.5" y="179.80" width="51.0" height="1.0" fill="#e87070" opacity="0.04"/><rect x="74.5" y="180.80" width="51.0" height="1.6" fill="#ffffff" opacity="0.10"/><rect x="74.5" y="182.40" width="51.0" height="0.8" fill="#e87070" opacity="0.00"/><rect x="74.5" y="183.20" width="51.0" height="1.0" fill="#ffffff" opacity="0.05"/><rect x="74.5" y="184.20" width="51.0" height="0.8" fill="#ffffff" opacity="0.00"/><rect x="74.5" y="185.00" width="51.0" height="1.6" fill="#ffffff" opacity="0.04"/><rect x="74.5" y="186.60" width="51.0" height="1.0" fill="#ffffff" opacity="0.07"/><rect x="74.5" y="187.60" width="51.0" height="1.0" fill="#ffffff" opacity="0.00"/><rect x="74.5" y="188.60" width="51.0" height="1.2" fill="#ffffff" opacity="0.01"/><rect x="74.5" y="189.80" width="51.0" height="1.6" fill="#e87070" opacity="0.06"/><rect x="74.5" y="191.40" width="51.0" height="1.6" fill="#ffffff" opacity="0.01"/><rect x="74.5" y="193.00" width="51.0" height="1.6" fill="#ffffff" opacity="0.13"/><rect x="74.5" y="194.60" width="51.0" height="1.6" fill="#ffffff" opacity="0.00"/><rect x="74.5" y="196.20" width="51.0" height="1.6" fill="#ffffff" opacity="0.05"/><rect x="74.5" y="197.80" width="51.0" height="1.0" fill="#ffffff" opacity="0.00"/><rect x="74.5" y="198.80" width="51.0" height="0.8" fill="#ffffff" opacity="0.03"/><rect x="74.5" y="199.60" width="51.0" height="1.2" fill="#ffffff" opacity="0.11"/><rect x="74.5" y="200.80" width="51.0" height="1.0" fill="#ffffff" opacity="0.07"/><rect x="74.5" y="201.80" width="51.0" height="1.2" fill="#e87070" opacity="0.01"/><rect x="74.5" y="203.00" width="51.0" height="1.6" fill="#ffffff" opacity="0.09"/><rect x="74.5" y="204.60" width="51.0" height="1.6" fill="#e87070" opacity="0.03"/><rect x="74.5" y="206.20" width="51.0" height="0.8" fill="#ffffff" opacity="0.13"/><rect x="74.5" y="207.00" width="51.0" height="1.6" fill="#ffffff" opacity="0.01"/><rect x="74.5" y="208.60" width="51.0" height="1.0" fill="#e87070" opacity="0.03"/><rect x="74.5" y="209.60" width="51.0" height="0.8" fill="#ffffff" opacity="0.03"/><rect x="74.5" y="210.40" width="51.0" height="1.2" fill="#ffffff" opacity="0.10"/><rect x="74.5" y="211.60" width="51.0" height="1.0" fill="#ffffff" opacity="0.05"/><rect x="74.5" y="212.60" width="51.0" height="1.6" fill="#e87070" opacity="0.00"/><rect x="74.5" y="214.20" width="51.0" height="1.6" fill="#ffffff" opacity="0.12"/><rect x="74.5" y="215.80" width="51.0" height="1.6" fill="#ffffff" opacity="0.02"/><rect x="74.5" y="217.40" width="51.0" height="0.8" fill="#ffffff" opacity="0.04"/><rect x="74.5" y="218.20" width="51.0" height="1.6" fill="#ffffff" opacity="0.13"/><rect x="74.5" y="219.80" width="51.0" height="1.0" fill="#ffffff" opacity="0.05"/><rect x="74.5" y="220.80" width="51.0" height="1.6" fill="#e87070" opacity="0.01"/><rect x="74.5" y="222.40" width="51.0" height="1.6" fill="#e87070" opacity="0.01"/><rect x="74.5" y="224.00" width="51.0" height="1.6" fill="#ffffff" opacity="0.03"/><rect x="74.5" y="225.60" width="51.0" height="1.6" fill="#ffffff" opacity="0.00"/><rect x="74.5" y="227.20" width="51.0" height="1.0" fill="#ffffff" opacity="0.11"/><rect x="74.5" y="228.20" width="51.0" height="0.8" fill="#ffffff" opacity="0.05"/><rect x="74.5" y="229.00" width="51.0" height="0.8" fill="#ffffff" opacity="0.11"/><rect x="74.5" y="229.80" width="51.0" height="1.2" fill="#ffffff" opacity="0.03"/><rect x="74.5" y="231.00" width="51.0" height="1.2" fill="#ffffff" opacity="0.05"/><rect x="74.5" y="232.20" width="51.0" height="0.8" fill="#e87070" opacity="0.02"/><rect x="74.5" y="233.00" width="51.0" height="1.2" fill="#ffffff" opacity="0.13"/><rect x="74.5" y="234.20" width="51.0" height="0.8" fill="#e87070" opacity="0.05"/><rect x="74.5" y="235.00" width="51.0" height="0.8" fill="#ffffff" opacity="0.00"/><rect x="74.5" y="235.80" width="51.0" height="0.8" fill="#ffffff" opacity="0.07"/><rect x="74.5" y="236.60" width="51.0" height="1.6" fill="#ffffff" opacity="0.11"/><rect x="74.5" y="238.20" width="51.0" height="1.6" fill="#ffffff" opacity="0.02"/><rect x="74.5" y="239.80" width="51.0" height="1.0" fill="#e87070" opacity="0.00"/><rect x="74.5" y="240.80" width="51.0" height="1.2" fill="#ffffff" opacity="0.12"/><rect x="74.5" y="242.00" width="51.0" height="1.0" fill="#ffffff" opacity="0.05"/><rect x="74.5" y="243.00" width="51.0" height="1.6" fill="#e87070" opacity="0.03"/><rect x="74.5" y="244.60" width="51.0" height="0.8" fill="#ffffff" opacity="0.07"/><rect x="74.5" y="245.40" width="51.0" height="1.0" fill="#ffffff" opacity="0.03"/><rect x="74.5" y="246.40" width="51.0" height="0.8" fill="#e87070" opacity="0.03"/><rect x="74.5" y="247.20" width="51.0" height="1.2" fill="#ffffff" opacity="0.02"/><rect x="74.5" y="248.40" width="51.0" height="0.8" fill="#ffffff" opacity="0.14"/><rect x="74.5" y="249.20" width="51.0" height="0.8" fill="#ffffff" opacity="0.03"/><rect x="74.5" y="250.00" width="51.0" height="1.6" fill="#ffffff" opacity="0.14"/><rect x="74.5" y="251.60" width="51.0" height="1.0" fill="#ffffff" opacity="0.03"/><rect x="74.5" y="252.60" width="51.0" height="1.6" fill="#e87070" opacity="0.04"/><rect x="74.5" y="254.20" width="51.0" height="1.0" fill="#e87070" opacity="0.05"/><rect x="74.5" y="255.20" width="51.0" height="0.8" fill="#ffffff" opacity="0.11"/><rect x="74.5" y="256.00" width="51.0" height="1.2" fill="#ffffff" opacity="0.04"/><rect x="74.5" y="257.20" width="51.0" height="1.2" fill="#ffffff" opacity="0.04"/><rect x="74.5" y="258.40" width="51.0" height="1.0" fill="#ffffff" opacity="0.06"/><rect x="74.5" y="259.40" width="51.0" height="1.0" fill="#ffffff" opacity="0.03"/><rect x="74.5" y="260.40" width="51.0" height="1.0" fill="#ffffff" opacity="0.05"/><rect x="74.5" y="261.40" width="51.0" height="1.2" fill="#e87070" opacity="0.07"/><rect x="74.5" y="262.60" width="51.0" height="1.0" fill="#ffffff" opacity="0.09"/><rect x="74.5" y="263.60" width="51.0" height="1.6" fill="#ffffff" opacity="0.14"/><rect x="74.5" y="265.20" width="51.0" height="0.8" fill="#ffffff" opacity="0.07"/><rect x="74.5" y="266.00" width="51.0" height="1.6" fill="#ffffff" opacity="0.13"/><rect x="74.5" y="267.60" width="51.0" height="1.2" fill="#ffffff" opacity="0.03"/><rect x="74.5" y="268.80" width="51.0" height="1.0" fill="#e87070" opacity="0.04"/><rect x="74.5" y="269.80" width="51.0" height="1.0" fill="#ffffff" opacity="0.13"/><rect x="74.5" y="270.80" width="51.0" height="1.0" fill="#ffffff" opacity="0.06"/><rect x="74.5" y="271.80" width="51.0" height="0.8" fill="#e87070" opacity="0.01"/><rect x="74.5" y="272.60" width="51.0" height="1.2" fill="#ffffff" opacity="0.03"/><rect x="74.5" y="273.80" width="51.0" height="1.2" fill="#ffffff" opacity="0.02"/><rect x="74.5" y="275.00" width="51.0" height="1.2" fill="#e87070" opacity="0.00"/><rect x="74.5" y="276.20" width="51.0" height="1.0" fill="#ffffff" opacity="0.11"/><rect x="74.5" y="277.20" width="51.0" height="1.6" fill="#ffffff" opacity="0.09"/><rect x="74.5" y="278.80" width="51.0" height="1.2" fill="#ffffff" opacity="0.01"/><rect x="74.5" y="280.00" width="51.0" height="1.6" fill="#ffffff" opacity="0.08"/><rect x="74.5" y="281.60" width="51.0" height="1.6" fill="#ffffff" opacity="0.01"/><rect x="74.5" y="283.20" width="51.0" height="1.0" fill="#ffffff" opacity="0.09"/><rect x="74.5" y="284.20" width="51.0" height="1.0" fill="#ffffff" opacity="0.06"/><rect x="74.5" y="285.20" width="51.0" height="1.6" fill="#e87070" opacity="0.07"/><rect x="74.5" y="286.80" width="51.0" height="1.2" fill="#ffffff" opacity="0.06"/><rect x="74.5" y="288.00" width="51.0" height="1.2" fill="#ffffff" opacity="0.10"/><rect x="74.5" y="289.20" width="51.0" height="1.6" fill="#ffffff" opacity="0.06"/><rect x="74.5" y="290.80" width="51.0" height="1.0" fill="#ffffff" opacity="0.05"/><rect x="74.5" y="291.80" width="51.0" height="1.0" fill="#ffffff" opacity="0.13"/><rect x="74.5" y="292.80" width="51.0" height="1.0" fill="#ffffff" opacity="0.06"/><rect x="74.5" y="293.80" width="51.0" height="1.6" fill="#ffffff" opacity="0.08"/><rect x="74.5" y="295.40" width="51.0" height="1.6" fill="#ffffff" opacity="0.11"/><rect x="74.5" y="297.00" width="51.0" height="0.8" fill="#ffffff" opacity="0.01"/><rect x="74.5" y="297.80" width="51.0" height="1.6" fill="#e87070" opacity="0.01"/><rect x="74.5" y="299.40" width="51.0" height="1.2" fill="#ffffff" opacity="0.10"/><rect x="74.5" y="300.60" width="51.0" height="1.0" fill="#ffffff" opacity="0.05"/><rect x="74.5" y="301.60" width="51.0" height="1.0" fill="#ffffff" opacity="0.13"/><rect x="74.5" y="302.60" width="51.0" height="1.6" fill="#ffffff" opacity="0.07"/><rect x="74.5" y="304.20" width="51.0" height="1.2" fill="#ffffff" opacity="0.02"/><rect x="74.5" y="305.40" width="51.0" height="1.6" fill="#e87070" opacity="0.02"/><rect x="74.5" y="307.00" width="51.0" height="1.6" fill="#e87070" opacity="0.01"/></g><g clip-path="url(#c0_5)"><rect x="74.5" y="307.4" width="51.0" height="19.80000000000001" fill="#f9d4cc"/><polygon points="85.7,305.9 86.8,309.9 87.7,313.9 88.6,317.9 89.2,321.9 89.7,325.9 89.8,328.7 108.8,328.7 108.9,325.9 109.4,321.9 110.0,317.9 110.9,313.9 111.8,309.9 112.9,305.9" fill="#f3968a" opacity="0.85" filter="url(#bl3)"/><polygon points="90.6,305.9 90.9,306.9 91.3,307.9 91.4,308.9 91.7,309.9 91.7,310.9 91.4,311.9 91.7,312.9 92.4,313.9 92.6,314.9 92.5,315.9 92.5,316.9 92.8,317.9 93.1,318.9 93.0,319.9 92.6,320.9 92.7,321.9 93.2,322.9 93.1,323.9 93.1,324.9 93.3,325.9 93.3,326.9 93.4,327.9 93.3,328.7 105.3,328.7 105.2,327.9 105.3,326.9 105.3,325.9 105.5,324.9 105.5,323.9 105.4,322.9 105.9,321.9 106.0,320.9 105.6,319.9 105.5,318.9 105.8,317.9 106.1,316.9 106.1,315.9 106.0,314.9 106.2,313.9 106.9,312.9 107.2,311.9 106.9,310.9 106.9,309.9 107.2,308.9 107.3,307.9 107.7,306.9 108.0,305.9" fill="#ee3236" filter="url(#bl1)"/><polygon points="93.5,305.9 93.7,306.9 93.9,307.9 94.0,308.9 94.2,309.9 94.3,310.9 94.0,311.9 94.2,312.9 94.7,313.9 94.9,314.9 94.8,315.9 94.8,316.9 95.0,317.9 95.2,318.9 95.1,319.9 94.9,320.9 94.9,321.9 95.2,322.9 95.2,323.9 95.2,324.9 95.3,325.9 95.3,326.9 95.4,327.9 95.3,328.7 103.3,328.7 103.2,327.9 103.3,326.9 103.3,325.9 103.4,324.9 103.4,323.9 103.4,322.9 103.7,321.9 103.7,320.9 103.5,319.9 103.4,318.9 103.6,317.9 103.8,316.9 103.8,315.9 103.7,314.9 103.9,313.9 104.4,312.9 104.6,311.9 104.3,310.9 104.4,309.9 104.6,308.9 104.7,307.9 104.9,306.9 105.1,305.9" fill="#e2000f" filter="url(#bl0)"/><rect x="74.5" y="307.40" width="51.0" height="1.2" fill="#ffffff" opacity="0.09"/><rect x="74.5" y="308.60" width="51.0" height="1.0" fill="#e87070" opacity="0.03"/><rect x="74.5" y="309.60" width="51.0" height="1.2" fill="#ffffff" opacity="0.06"/><rect x="74.5" y="310.80" width="51.0" height="1.0" fill="#e87070" opacity="0.00"/><rect x="74.5" y="311.80" width="51.0" height="1.6" fill="#ffffff" opacity="0.07"/><rect x="74.5" y="313.40" width="51.0" height="1.6" fill="#ffffff" opacity="0.12"/><rect x="74.5" y="315.00" width="51.0" height="1.6" fill="#ffffff" opacity="0.01"/><rect x="74.5" y="316.60" width="51.0" height="1.2" fill="#ffffff" opacity="0.06"/><rect x="74.5" y="317.80" width="51.0" height="1.6" fill="#e87070" opacity="0.04"/><rect x="74.5" y="319.40" width="51.0" height="0.8" fill="#ffffff" opacity="0.01"/><rect x="74.5" y="320.20" width="51.0" height="0.8" fill="#ffffff" opacity="0.13"/><rect x="74.5" y="321.00" width="51.0" height="0.8" fill="#e87070" opacity="0.00"/><rect x="74.5" y="321.80" width="51.0" height="1.6" fill="#ffffff" opacity="0.09"/><rect x="74.5" y="323.40" width="51.0" height="0.8" fill="#e87070" opacity="0.06"/><rect x="74.5" y="324.20" width="51.0" height="0.8" fill="#ffffff" opacity="0.03"/><rect x="74.5" y="325.00" width="51.0" height="1.2" fill="#ffffff" opacity="0.13"/><rect x="74.5" y="326.20" width="51.0" height="1.0" fill="#ffffff" opacity="0.01"/></g><rect x="74.5" y="25.5" width="51.0" height="301.7" fill="none" stroke="#6e5f5c" stroke-width="1.3"/><line x1="74.5" y1="43.8" x2="125.5" y2="43.8" stroke="#6e5f5c" stroke-width="2.1"/><line x1="74.5" y1="80.8" x2="125.5" y2="80.8" stroke="#6e5f5c" stroke-width="2.1"/><line x1="74.5" y1="97.6" x2="125.5" y2="97.6" stroke="#6e5f5c" stroke-width="2.1"/><line x1="74.5" y1="170.0" x2="125.5" y2="170.0" stroke="#6e5f5c" stroke-width="2.1"/><line x1="74.5" y1="307.4" x2="125.5" y2="307.4" stroke="#6e5f5c" stroke-width="2.1"/><g clip-path="url(#c1_0)"><rect x="131.0" y="25.5" width="51.0" height="18.299999999999997" fill="#f9d8d0"/><polygon points="141.6,24.0 142.6,28.0 143.5,32.0 144.2,36.0 144.8,40.0 145.2,44.0 145.2,45.3 166.4,45.3 166.4,44.0 166.8,40.0 167.4,36.0 168.1,32.0 169.0,28.0 170.0,24.0" fill="#f3a092" opacity="0.85" filter="url(#bl3)"/><polygon points="146.5,24.0 147.3,25.0 147.4,26.0 146.7,27.0 146.5,28.0 147.3,29.0 147.6,30.0 147.1,31.0 147.3,32.0 147.7,33.0 148.0,34.0 148.5,35.0 148.8,36.0 148.9,37.0 148.7,38.0 148.5,39.0 148.9,40.0 149.1,41.0 148.8,42.0 148.6,43.0 148.7,44.0 148.9,45.0 149.0,45.3 162.6,45.3 162.7,45.0 162.9,44.0 163.0,43.0 162.8,42.0 162.5,41.0 162.7,40.0 163.1,39.0 162.9,38.0 162.7,37.0 162.8,36.0 163.1,35.0 163.6,34.0 163.9,33.0 164.3,32.0 164.5,31.0 164.0,30.0 164.3,29.0 165.1,28.0 164.9,27.0 164.2,26.0 164.3,25.0 165.1,24.0" fill="#ef4a50" filter="url(#bl1)"/><polygon points="149.5,24.0 150.1,25.0 150.1,26.0 149.7,27.0 149.5,28.0 150.1,29.0 150.3,30.0 150.0,31.0 150.2,32.0 150.4,33.0 150.6,34.0 151.0,35.0 151.2,36.0 151.3,37.0 151.1,38.0 151.0,39.0 151.3,40.0 151.4,41.0 151.2,42.0 151.0,43.0 151.1,44.0 151.3,45.0 151.3,45.3 160.3,45.3 160.3,45.0 160.5,44.0 160.6,43.0 160.4,42.0 160.2,41.0 160.3,40.0 160.6,39.0 160.5,38.0 160.3,37.0 160.4,36.0 160.6,35.0 161.0,34.0 161.2,33.0 161.4,32.0 161.6,31.0 161.3,30.0 161.5,29.0 162.1,28.0 161.9,27.0 161.5,26.0 161.5,25.0 162.1,24.0" fill="#e41a24" filter="url(#bl0)"/><rect x="131.0" y="25.50" width="51.0" height="1.6" fill="#e87070" opacity="0.04"/><rect x="131.0" y="27.10" width="51.0" height="0.8" fill="#e87070" opacity="0.02"/><rect x="131.0" y="27.90" width="51.0" height="1.6" fill="#ffffff" opacity="0.10"/><rect x="131.0" y="29.50" width="51.0" height="1.2" fill="#ffffff" opacity="0.05"/><rect x="131.0" y="30.70" width="51.0" height="1.0" fill="#ffffff" opacity="0.05"/><rect x="131.0" y="31.70" width="51.0" height="1.6" fill="#e87070" opacity="0.02"/><rect x="131.0" y="33.30" width="51.0" height="0.8" fill="#e87070" opacity="0.02"/><rect x="131.0" y="34.10" width="51.0" height="1.2" fill="#e87070" opacity="0.02"/><rect x="131.0" y="35.30" width="51.0" height="1.2" fill="#e87070" opacity="0.05"/><rect x="131.0" y="36.50" width="51.0" height="0.8" fill="#ffffff" opacity="0.03"/><rect x="131.0" y="37.30" width="51.0" height="1.6" fill="#ffffff" opacity="0.06"/><rect x="131.0" y="38.90" width="51.0" height="0.8" fill="#ffffff" opacity="0.02"/><rect x="131.0" y="39.70" width="51.0" height="0.8" fill="#ffffff" opacity="0.00"/><rect x="131.0" y="40.50" width="51.0" height="1.2" fill="#e87070" opacity="0.02"/><rect x="131.0" y="41.70" width="51.0" height="1.2" fill="#ffffff" opacity="0.07"/><rect x="131.0" y="42.90" width="51.0" height="1.2" fill="#ffffff" opacity="0.08"/></g><g clip-path="url(#c1_1)"><rect x="131.0" y="43.8" width="51.0" height="37.0" fill="#f9d8d0"/><polygon points="141.2,42.3 141.8,46.3 142.3,50.3 142.8,54.3 143.2,58.3 143.6,62.3 144.0,66.3 144.3,70.3 144.5,74.3 144.7,78.3 144.8,82.3 144.8,82.3 166.8,82.3 166.8,82.3 166.9,78.3 167.1,74.3 167.3,70.3 167.6,66.3 168.0,62.3 168.4,58.3 168.8,54.3 169.3,50.3 169.8,46.3 170.4,42.3" fill="#f3a092" opacity="0.85" filter="url(#bl3)"/><polygon points="146.3,42.3 146.1,43.3 147.2,44.3 147.4,45.3 146.2,46.3 146.0,47.3 147.0,48.3 147.9,49.3 147.7,50.3 147.2,51.3 147.0,52.3 146.3,53.3 146.5,54.3 147.3,55.3 146.8,56.3 146.3,57.3 146.9,58.3 147.2,59.3 147.3,60.3 147.5,61.3 147.9,62.3 148.7,63.3 149.2,64.3 149.3,65.3 149.2,66.3 149.1,67.3 148.4,68.3 148.0,69.3 148.3,70.3 148.1,71.3 148.1,72.3 148.6,73.3 148.6,74.3 148.2,75.3 148.0,76.3 148.1,77.3 148.3,78.3 148.3,79.3 148.6,80.3 148.9,81.3 148.2,82.3 147.4,82.3 164.2,82.3 163.4,82.3 162.7,81.3 163.0,80.3 163.3,79.3 163.3,78.3 163.5,77.3 163.6,76.3 163.4,75.3 163.0,74.3 163.0,73.3 163.5,72.3 163.5,71.3 163.3,70.3 163.6,69.3 163.2,68.3 162.5,67.3 162.4,66.3 162.3,65.3 162.4,64.3 162.9,63.3 163.7,62.3 164.1,61.3 164.3,60.3 164.4,59.3 164.7,58.3 165.3,57.3 164.8,56.3 164.3,55.3 165.1,54.3 165.3,53.3 164.6,52.3 164.4,51.3 163.9,50.3 163.7,49.3 164.6,48.3 165.6,47.3 165.4,46.3 164.2,45.3 164.4,44.3 165.5,43.3 165.3,42.3" fill="#ef4a50" filter="url(#bl1)"/><polygon points="149.2,42.3 149.1,43.3 149.9,44.3 150.0,45.3 149.2,46.3 149.1,47.3 149.8,48.3 150.4,49.3 150.3,50.3 149.9,51.3 149.8,52.3 149.3,53.3 149.4,54.3 150.0,55.3 149.7,56.3 149.4,57.3 149.7,58.3 149.9,59.3 150.0,60.3 150.2,61.3 150.5,62.3 151.0,63.3 151.3,64.3 151.4,65.3 151.3,66.3 151.2,67.3 150.8,68.3 150.5,69.3 150.7,70.3 150.6,71.3 150.6,72.3 150.9,73.3 150.9,74.3 150.7,75.3 150.5,76.3 150.6,77.3 150.7,78.3 150.7,79.3 150.9,80.3 151.2,81.3 150.6,82.3 150.1,82.3 161.5,82.3 161.0,82.3 160.4,81.3 160.7,80.3 160.9,79.3 160.9,78.3 161.0,77.3 161.1,76.3 160.9,75.3 160.7,74.3 160.7,73.3 161.0,72.3 161.0,71.3 160.9,70.3 161.1,69.3 160.8,68.3 160.4,67.3 160.3,66.3 160.2,65.3 160.3,64.3 160.6,63.3 161.1,62.3 161.4,61.3 161.6,60.3 161.7,59.3 161.9,58.3 162.2,57.3 161.9,56.3 161.6,55.3 162.2,54.3 162.3,53.3 161.8,52.3 161.7,51.3 161.3,50.3 161.2,49.3 161.8,48.3 162.5,47.3 162.4,46.3 161.6,45.3 161.7,44.3 162.5,43.3 162.4,42.3" fill="#e41a24" filter="url(#bl0)"/><rect x="131.0" y="43.80" width="51.0" height="1.6" fill="#ffffff" opacity="0.10"/><rect x="131.0" y="45.40" width="51.0" height="1.6" fill="#e87070" opacity="0.06"/><rect x="131.0" y="47.00" width="51.0" height="1.6" fill="#e87070" opacity="0.01"/><rect x="131.0" y="48.60" width="51.0" height="1.6" fill="#ffffff" opacity="0.02"/><rect x="131.0" y="50.20" width="51.0" height="1.2" fill="#ffffff" opacity="0.03"/><rect x="131.0" y="51.40" width="51.0" height="0.8" fill="#e87070" opacity="0.02"/><rect x="131.0" y="52.20" width="51.0" height="1.2" fill="#ffffff" opacity="0.10"/><rect x="131.0" y="53.40" width="51.0" height="1.6" fill="#e87070" opacity="0.05"/><rect x="131.0" y="55.00" width="51.0" height="1.2" fill="#ffffff" opacity="0.04"/><rect x="131.0" y="56.20" width="51.0" height="0.8" fill="#ffffff" opacity="0.12"/><rect x="131.0" y="57.00" width="51.0" height="1.0" fill="#ffffff" opacity="0.04"/><rect x="131.0" y="58.00" width="51.0" height="1.0" fill="#e87070" opacity="0.07"/><rect x="131.0" y="59.00" width="51.0" height="1.2" fill="#ffffff" opacity="0.03"/><rect x="131.0" y="60.20" width="51.0" height="1.2" fill="#ffffff" opacity="0.08"/><rect x="131.0" y="61.40" width="51.0" height="1.6" fill="#e87070" opacity="0.03"/><rect x="131.0" y="63.00" width="51.0" height="0.8" fill="#ffffff" opacity="0.12"/><rect x="131.0" y="63.80" width="51.0" height="1.0" fill="#ffffff" opacity="0.08"/><rect x="131.0" y="64.80" width="51.0" height="1.0" fill="#e87070" opacity="0.03"/><rect x="131.0" y="65.80" width="51.0" height="0.8" fill="#ffffff" opacity="0.08"/><rect x="131.0" y="66.60" width="51.0" height="1.0" fill="#ffffff" opacity="0.00"/><rect x="131.0" y="67.60" width="51.0" height="0.8" fill="#ffffff" opacity="0.09"/><rect x="131.0" y="68.40" width="51.0" height="1.2" fill="#e87070" opacity="0.07"/><rect x="131.0" y="69.60" width="51.0" height="0.8" fill="#ffffff" opacity="0.00"/><rect x="131.0" y="70.40" width="51.0" height="0.8" fill="#e87070" opacity="0.05"/><rect x="131.0" y="71.20" width="51.0" height="0.8" fill="#e87070" opacity="0.00"/><rect x="131.0" y="72.00" width="51.0" height="1.2" fill="#e87070" opacity="0.01"/><rect x="131.0" y="73.20" width="51.0" height="0.8" fill="#e87070" opacity="0.06"/><rect x="131.0" y="74.00" width="51.0" height="1.6" fill="#ffffff" opacity="0.01"/><rect x="131.0" y="75.60" width="51.0" height="1.0" fill="#ffffff" opacity="0.02"/><rect x="131.0" y="76.60" width="51.0" height="0.8" fill="#e87070" opacity="0.06"/><rect x="131.0" y="77.40" width="51.0" height="1.2" fill="#ffffff" opacity="0.07"/><rect x="131.0" y="78.60" width="51.0" height="0.8" fill="#e87070" opacity="0.06"/><rect x="131.0" y="79.40" width="51.0" height="1.0" fill="#ffffff" opacity="0.04"/><rect x="131.0" y="80.40" width="51.0" height="1.6" fill="#ffffff" opacity="0.04"/></g><g clip-path="url(#c1_2)"><rect x="131.0" y="80.8" width="51.0" height="16.799999999999997" fill="#f9d8d0"/><polygon points="141.8,79.3 142.9,83.3 143.8,87.3 144.6,91.3 145.1,95.3 145.4,99.1 166.2,99.1 166.5,95.3 167.0,91.3 167.8,87.3 168.7,83.3 169.8,79.3" fill="#f3a092" opacity="0.85" filter="url(#bl3)"/><polygon points="147.7,79.3 147.4,80.3 147.1,81.3 147.5,82.3 147.5,83.3 147.0,84.3 147.1,85.3 147.3,86.3 147.9,87.3 148.9,88.3 148.8,89.3 148.4,90.3 148.3,91.3 148.5,92.3 148.5,93.3 148.8,94.3 149.0,95.3 148.9,96.3 149.0,97.3 149.1,98.3 149.6,99.1 162.0,99.1 162.5,98.3 162.6,97.3 162.7,96.3 162.6,95.3 162.8,94.3 163.1,93.3 163.1,92.3 163.3,91.3 163.2,90.3 162.8,89.3 162.7,88.3 163.7,87.3 164.3,86.3 164.5,85.3 164.6,84.3 164.1,83.3 164.1,82.3 164.5,81.3 164.2,80.3 163.9,79.3" fill="#ef4a50" filter="url(#bl1)"/><polygon points="150.4,79.3 150.2,80.3 150.0,81.3 150.3,82.3 150.3,83.3 150.0,84.3 150.1,85.3 150.2,86.3 150.6,87.3 151.2,88.3 151.2,89.3 150.9,90.3 150.9,91.3 151.0,92.3 151.0,93.3 151.2,94.3 151.4,95.3 151.3,96.3 151.4,97.3 151.4,98.3 151.8,99.1 159.8,99.1 160.2,98.3 160.2,97.3 160.3,96.3 160.2,95.3 160.4,94.3 160.6,93.3 160.6,92.3 160.7,91.3 160.7,90.3 160.4,89.3 160.4,88.3 161.0,87.3 161.4,86.3 161.5,85.3 161.6,84.3 161.3,83.3 161.3,82.3 161.6,81.3 161.4,80.3 161.2,79.3" fill="#e41a24" filter="url(#bl0)"/><rect x="131.0" y="80.80" width="51.0" height="1.0" fill="#ffffff" opacity="0.04"/><rect x="131.0" y="81.80" width="51.0" height="0.8" fill="#ffffff" opacity="0.05"/><rect x="131.0" y="82.60" width="51.0" height="1.6" fill="#ffffff" opacity="0.10"/><rect x="131.0" y="84.20" width="51.0" height="1.6" fill="#e87070" opacity="0.04"/><rect x="131.0" y="85.80" width="51.0" height="1.2" fill="#ffffff" opacity="0.08"/><rect x="131.0" y="87.00" width="51.0" height="1.2" fill="#e87070" opacity="0.06"/><rect x="131.0" y="88.20" width="51.0" height="1.0" fill="#ffffff" opacity="0.07"/><rect x="131.0" y="89.20" width="51.0" height="0.8" fill="#e87070" opacity="0.03"/><rect x="131.0" y="90.00" width="51.0" height="0.8" fill="#ffffff" opacity="0.09"/><rect x="131.0" y="90.80" width="51.0" height="0.8" fill="#ffffff" opacity="0.06"/><rect x="131.0" y="91.60" width="51.0" height="0.8" fill="#e87070" opacity="0.03"/><rect x="131.0" y="92.40" width="51.0" height="0.8" fill="#ffffff" opacity="0.05"/><rect x="131.0" y="93.20" width="51.0" height="1.2" fill="#e87070" opacity="0.03"/><rect x="131.0" y="94.40" width="51.0" height="1.0" fill="#e87070" opacity="0.03"/><rect x="131.0" y="95.40" width="51.0" height="1.0" fill="#ffffff" opacity="0.13"/><rect x="131.0" y="96.40" width="51.0" height="0.8" fill="#ffffff" opacity="0.05"/><rect x="131.0" y="97.20" width="51.0" height="1.0" fill="#ffffff" opacity="0.12"/></g><g clip-path="url(#c1_3)"><rect x="131.0" y="97.6" width="51.0" height="72.4" fill="#f9d8d0"/><polygon points="141.2,96.1 141.6,100.1 141.9,104.1 142.3,108.1 142.6,112.1 142.9,116.1 143.2,120.1 143.5,124.1 143.8,128.1 144.0,132.1 144.3,136.1 144.5,140.1 144.7,144.1 144.9,148.1 145.1,152.1 145.3,156.1 145.4,160.1 145.5,164.1 145.6,168.1 145.6,171.5 166.0,171.5 166.0,168.1 166.1,164.1 166.2,160.1 166.3,156.1 166.5,152.1 166.7,148.1 166.9,144.1 167.1,140.1 167.3,136.1 167.6,132.1 167.8,128.1 168.1,124.1 168.4,120.1 168.7,116.1 169.0,112.1 169.3,108.1 169.7,104.1 170.0,100.1 170.4,96.1" fill="#f3a092" opacity="0.85" filter="url(#bl3)"/><polygon points="145.5,96.1 146.0,97.1 146.8,98.1 146.6,99.1 145.9,100.1 146.5,101.1 147.2,102.1 146.7,103.1 146.3,104.1 147.2,105.1 147.8,106.1 147.3,107.1 146.4,108.1 146.5,109.1 147.6,110.1 148.2,111.1 148.0,112.1 147.7,113.1 147.7,114.1 148.0,115.1 148.2,116.1 147.7,117.1 146.7,118.1 147.1,119.1 147.7,120.1 147.5,121.1 148.0,122.1 147.8,123.1 146.9,124.1 146.8,125.1 147.3,126.1 148.1,127.1 148.4,128.1 148.3,129.1 148.8,130.1 148.9,131.1 148.9,132.1 149.1,133.1 148.5,134.1 147.8,135.1 147.8,136.1 148.1,137.1 148.2,138.1 148.6,139.1 148.9,140.1 148.7,141.1 148.4,142.1 148.0,143.1 147.9,144.1 148.4,145.1 148.4,146.1 148.4,147.1 148.9,148.1 149.1,149.1 148.4,150.1 148.0,151.1 148.1,152.1 148.2,153.1 148.2,154.1 148.4,155.1 148.7,156.1 149.1,157.1 149.2,158.1 149.3,159.1 149.6,160.1 149.3,161.1 148.6,162.1 148.5,163.1 149.0,164.1 149.4,165.1 149.5,166.1 149.2,167.1 149.1,168.1 149.1,169.1 148.7,170.1 148.7,171.1 149.2,171.5 162.4,171.5 162.9,171.1 162.9,170.1 162.5,169.1 162.5,168.1 162.4,167.1 162.1,166.1 162.2,165.1 162.6,164.1 163.1,163.1 163.0,162.1 162.3,161.1 162.0,160.1 162.3,159.1 162.4,158.1 162.5,157.1 162.9,156.1 163.2,155.1 163.4,154.1 163.4,153.1 163.5,152.1 163.6,151.1 163.2,150.1 162.5,149.1 162.7,148.1 163.2,147.1 163.2,146.1 163.2,145.1 163.7,144.1 163.6,143.1 163.2,142.1 162.9,141.1 162.7,140.1 163.0,139.1 163.4,138.1 163.5,137.1 163.8,136.1 163.8,135.1 163.1,134.1 162.5,133.1 162.7,132.1 162.7,131.1 162.8,130.1 163.3,129.1 163.2,128.1 163.5,127.1 164.3,126.1 164.8,125.1 164.7,124.1 163.8,123.1 163.6,122.1 164.1,121.1 163.9,120.1 164.5,119.1 164.9,118.1 163.9,117.1 163.4,116.1 163.6,115.1 163.9,114.1 163.9,113.1 163.6,112.1 163.4,111.1 164.0,110.1 165.1,109.1 165.2,108.1 164.3,107.1 163.8,106.1 164.4,105.1 165.3,104.1 164.9,103.1 164.4,102.1 165.1,101.1 165.7,100.1 165.0,99.1 164.8,98.1 165.6,97.1 166.1,96.1" fill="#ef4a50" filter="url(#bl1)"/><polygon points="148.7,96.1 149.0,97.1 149.6,98.1 149.5,99.1 149.0,100.1 149.4,101.1 149.9,102.1 149.6,103.1 149.3,104.1 149.9,105.1 150.3,106.1 150.0,107.1 149.4,108.1 149.5,109.1 150.3,110.1 150.7,111.1 150.6,112.1 150.3,113.1 150.3,114.1 150.6,115.1 150.7,116.1 150.4,117.1 149.7,118.1 150.0,119.1 150.4,120.1 150.3,121.1 150.6,122.1 150.5,123.1 149.8,124.1 149.8,125.1 150.2,126.1 150.7,127.1 150.9,128.1 150.9,129.1 151.2,130.1 151.3,131.1 151.2,132.1 151.4,133.1 151.0,134.1 150.5,135.1 150.6,136.1 150.8,137.1 150.8,138.1 151.1,139.1 151.3,140.1 151.2,141.1 151.0,142.1 150.7,143.1 150.7,144.1 151.0,145.1 151.0,146.1 151.0,147.1 151.3,148.1 151.4,149.1 151.0,150.1 150.7,151.1 150.8,152.1 150.9,153.1 150.9,154.1 151.0,155.1 151.2,156.1 151.5,157.1 151.6,158.1 151.6,159.1 151.8,160.1 151.6,161.1 151.2,162.1 151.2,163.1 151.4,164.1 151.7,165.1 151.8,166.1 151.6,167.1 151.5,168.1 151.5,169.1 151.3,170.1 151.3,171.1 151.6,171.5 160.0,171.5 160.3,171.1 160.3,170.1 160.1,169.1 160.1,168.1 160.0,167.1 159.8,166.1 159.9,165.1 160.2,164.1 160.4,163.1 160.4,162.1 160.0,161.1 159.8,160.1 160.0,159.1 160.0,158.1 160.1,157.1 160.4,156.1 160.6,155.1 160.7,154.1 160.7,153.1 160.8,152.1 160.9,151.1 160.6,150.1 160.2,149.1 160.3,148.1 160.6,147.1 160.6,146.1 160.6,145.1 160.9,144.1 160.9,143.1 160.6,142.1 160.4,141.1 160.3,140.1 160.5,139.1 160.8,138.1 160.8,137.1 161.0,136.1 161.1,135.1 160.6,134.1 160.2,133.1 160.4,132.1 160.3,131.1 160.4,130.1 160.7,129.1 160.7,128.1 160.9,127.1 161.4,126.1 161.8,125.1 161.8,124.1 161.1,123.1 161.0,122.1 161.3,121.1 161.2,120.1 161.6,119.1 161.9,118.1 161.2,117.1 160.9,116.1 161.0,115.1 161.3,114.1 161.3,113.1 161.0,112.1 160.9,111.1 161.3,110.1 162.1,109.1 162.2,108.1 161.6,107.1 161.3,106.1 161.7,105.1 162.3,104.1 162.0,103.1 161.7,102.1 162.2,101.1 162.6,100.1 162.1,99.1 162.0,98.1 162.6,97.1 162.9,96.1" fill="#e41a24" filter="url(#bl0)"/><rect x="131.0" y="97.60" width="51.0" height="0.8" fill="#ffffff" opacity="0.05"/><rect x="131.0" y="98.40" width="51.0" height="0.8" fill="#e87070" opacity="0.00"/><rect x="131.0" y="99.20" width="51.0" height="1.0" fill="#ffffff" opacity="0.02"/><rect x="131.0" y="100.20" width="51.0" height="1.2" fill="#e87070" opacity="0.01"/><rect x="131.0" y="101.40" width="51.0" height="1.6" fill="#e87070" opacity="0.04"/><rect x="131.0" y="103.00" width="51.0" height="1.6" fill="#e87070" opacity="0.04"/><rect x="131.0" y="104.60" width="51.0" height="1.2" fill="#ffffff" opacity="0.07"/><rect x="131.0" y="105.80" width="51.0" height="1.6" fill="#e87070" opacity="0.01"/><rect x="131.0" y="107.40" width="51.0" height="1.0" fill="#ffffff" opacity="0.05"/><rect x="131.0" y="108.40" width="51.0" height="1.2" fill="#ffffff" opacity="0.09"/><rect x="131.0" y="109.60" width="51.0" height="1.2" fill="#ffffff" opacity="0.05"/><rect x="131.0" y="110.80" width="51.0" height="0.8" fill="#ffffff" opacity="0.01"/><rect x="131.0" y="111.60" width="51.0" height="1.2" fill="#ffffff" opacity="0.08"/><rect x="131.0" y="112.80" width="51.0" height="1.0" fill="#ffffff" opacity="0.04"/><rect x="131.0" y="113.80" width="51.0" height="1.0" fill="#ffffff" opacity="0.14"/><rect x="131.0" y="114.80" width="51.0" height="1.6" fill="#ffffff" opacity="0.03"/><rect x="131.0" y="116.40" width="51.0" height="0.8" fill="#e87070" opacity="0.06"/><rect x="131.0" y="117.20" width="51.0" height="1.0" fill="#e87070" opacity="0.03"/><rect x="131.0" y="118.20" width="51.0" height="1.0" fill="#ffffff" opacity="0.11"/><rect x="131.0" y="119.20" width="51.0" height="1.2" fill="#ffffff" opacity="0.09"/><rect x="131.0" y="120.40" width="51.0" height="1.6" fill="#e87070" opacity="0.07"/><rect x="131.0" y="122.00" width="51.0" height="1.0" fill="#ffffff" opacity="0.11"/><rect x="131.0" y="123.00" width="51.0" height="1.2" fill="#ffffff" opacity="0.11"/><rect x="131.0" y="124.20" width="51.0" height="1.2" fill="#e87070" opacity="0.05"/><rect x="131.0" y="125.40" width="51.0" height="1.2" fill="#e87070" opacity="0.07"/><rect x="131.0" y="126.60" width="51.0" height="1.0" fill="#e87070" opacity="0.03"/><rect x="131.0" y="127.60" width="51.0" height="1.2" fill="#e87070" opacity="0.03"/><rect x="131.0" y="128.80" width="51.0" height="1.2" fill="#ffffff" opacity="0.04"/><rect x="131.0" y="130.00" width="51.0" height="1.6" fill="#ffffff" opacity="0.09"/><rect x="131.0" y="131.60" width="51.0" height="1.2" fill="#ffffff" opacity="0.02"/><rect x="131.0" y="132.80" width="51.0" height="1.6" fill="#e87070" opacity="0.00"/><rect x="131.0" y="134.40" width="51.0" height="1.2" fill="#ffffff" opacity="0.11"/><rect x="131.0" y="135.60" width="51.0" height="1.2" fill="#ffffff" opacity="0.09"/><rect x="131.0" y="136.80" width="51.0" height="0.8" fill="#ffffff" opacity="0.03"/><rect x="131.0" y="137.60" width="51.0" height="1.2" fill="#ffffff" opacity="0.04"/><rect x="131.0" y="138.80" width="51.0" height="1.0" fill="#ffffff" opacity="0.12"/><rect x="131.0" y="139.80" width="51.0" height="1.6" fill="#ffffff" opacity="0.05"/><rect x="131.0" y="141.40" width="51.0" height="1.0" fill="#e87070" opacity="0.06"/><rect x="131.0" y="142.40" width="51.0" height="1.0" fill="#e87070" opacity="0.04"/><rect x="131.0" y="143.40" width="51.0" height="0.8" fill="#e87070" opacity="0.05"/><rect x="131.0" y="144.20" width="51.0" height="1.2" fill="#e87070" opacity="0.01"/><rect x="131.0" y="145.40" width="51.0" height="1.0" fill="#e87070" opacity="0.04"/><rect x="131.0" y="146.40" width="51.0" height="1.6" fill="#ffffff" opacity="0.09"/><rect x="131.0" y="148.00" width="51.0" height="0.8" fill="#ffffff" opacity="0.04"/><rect x="131.0" y="148.80" width="51.0" height="1.0" fill="#e87070" opacity="0.03"/><rect x="131.0" y="149.80" width="51.0" height="0.8" fill="#ffffff" opacity="0.07"/><rect x="131.0" y="150.60" width="51.0" height="1.6" fill="#ffffff" opacity="0.03"/><rect x="131.0" y="152.20" width="51.0" height="0.8" fill="#ffffff" opacity="0.02"/><rect x="131.0" y="153.00" width="51.0" height="1.6" fill="#ffffff" opacity="0.10"/><rect x="131.0" y="154.60" width="51.0" height="1.2" fill="#ffffff" opacity="0.12"/><rect x="131.0" y="155.80" width="51.0" height="1.6" fill="#e87070" opacity="0.03"/><rect x="131.0" y="157.40" width="51.0" height="0.8" fill="#ffffff" opacity="0.03"/><rect x="131.0" y="158.20" width="51.0" height="0.8" fill="#ffffff" opacity="0.00"/><rect x="131.0" y="159.00" width="51.0" height="1.2" fill="#ffffff" opacity="0.11"/><rect x="131.0" y="160.20" width="51.0" height="1.6" fill="#ffffff" opacity="0.07"/><rect x="131.0" y="161.80" width="51.0" height="0.8" fill="#ffffff" opacity="0.03"/><rect x="131.0" y="162.60" width="51.0" height="1.0" fill="#e87070" opacity="0.02"/><rect x="131.0" y="163.60" width="51.0" height="1.2" fill="#e87070" opacity="0.02"/><rect x="131.0" y="164.80" width="51.0" height="1.0" fill="#ffffff" opacity="0.04"/><rect x="131.0" y="165.80" width="51.0" height="1.6" fill="#ffffff" opacity="0.04"/><rect x="131.0" y="167.40" width="51.0" height="1.2" fill="#ffffff" opacity="0.04"/><rect x="131.0" y="168.60" width="51.0" height="1.6" fill="#ffffff" opacity="0.05"/></g><g clip-path="url(#c1_4)"><rect x="131.0" y="170.0" width="51.0" height="137.39999999999998" fill="#f9d8d0"/><polygon points="141.0,168.5 141.2,172.5 141.4,176.5 141.7,180.5 141.9,184.5 142.1,188.5 142.3,192.5 142.5,196.5 142.7,200.5 142.9,204.5 143.1,208.5 143.3,212.5 143.4,216.5 143.6,220.5 143.8,224.5 144.0,228.5 144.1,232.5 144.3,236.5 144.4,240.5 144.6,244.5 144.7,248.5 144.8,252.5 145.0,256.5 145.1,260.5 145.2,264.5 145.3,268.5 145.4,272.5 145.5,276.5 145.6,280.5 145.7,284.5 145.8,288.5 145.8,292.5 145.9,296.5 145.9,300.5 146.0,304.5 146.0,308.5 146.0,308.9 165.6,308.9 165.6,308.5 165.6,304.5 165.7,300.5 165.7,296.5 165.8,292.5 165.8,288.5 165.9,284.5 166.0,280.5 166.1,276.5 166.2,272.5 166.3,268.5 166.4,264.5 166.5,260.5 166.6,256.5 166.8,252.5 166.9,248.5 167.0,244.5 167.2,240.5 167.3,236.5 167.5,232.5 167.6,228.5 167.8,224.5 168.0,220.5 168.2,216.5 168.3,212.5 168.5,208.5 168.7,204.5 168.9,200.5 169.1,196.5 169.3,192.5 169.5,188.5 169.7,184.5 169.9,180.5 170.2,176.5 170.4,172.5 170.6,168.5" fill="#f3a092" opacity="0.85" filter="url(#bl3)"/><polygon points="145.1,168.5 146.3,169.5 146.8,170.5 146.8,171.5 147.2,172.5 147.0,173.5 146.5,174.5 146.3,175.5 146.2,176.5 146.2,177.5 146.0,178.5 146.1,179.5 146.6,180.5 146.6,181.5 146.6,182.5 147.1,183.5 147.9,184.5 147.6,185.5 146.6,186.5 146.3,187.5 146.7,188.5 147.4,189.5 147.2,190.5 146.9,191.5 147.4,192.5 147.5,193.5 146.8,194.5 146.2,195.5 146.6,196.5 147.9,197.5 148.2,198.5 147.2,199.5 147.2,200.5 147.6,201.5 147.0,202.5 146.6,203.5 147.5,204.5 147.8,205.5 147.4,206.5 147.6,207.5 147.6,208.5 148.0,209.5 148.0,210.5 147.1,211.5 147.1,212.5 148.3,213.5 149.1,214.5 148.8,215.5 148.0,216.5 147.3,217.5 147.1,218.5 147.5,219.5 147.6,220.5 147.2,221.5 147.3,222.5 147.7,223.5 147.8,224.5 148.4,225.5 148.7,226.5 148.1,227.5 147.5,228.5 147.2,229.5 147.8,230.5 148.4,231.5 148.1,232.5 148.3,233.5 148.9,234.5 148.4,235.5 147.7,236.5 148.0,237.5 148.8,238.5 149.1,239.5 148.2,240.5 147.4,241.5 147.8,242.5 149.0,243.5 149.3,244.5 149.1,245.5 148.9,246.5 148.7,247.5 148.5,248.5 148.1,249.5 148.0,250.5 148.5,251.5 148.4,252.5 148.6,253.5 149.0,254.5 148.9,255.5 148.9,256.5 148.9,257.5 148.7,258.5 148.4,259.5 148.0,260.5 148.4,261.5 149.6,262.5 150.2,263.5 149.7,264.5 148.7,265.5 148.5,266.5 148.9,267.5 149.3,268.5 149.4,269.5 148.8,270.5 148.3,271.5 148.4,272.5 149.0,273.5 149.1,274.5 148.6,275.5 148.7,276.5 149.4,277.5 149.4,278.5 149.2,279.5 149.2,280.5 149.2,281.5 149.3,282.5 149.2,283.5 149.0,284.5 149.1,285.5 149.4,286.5 149.6,287.5 149.4,288.5 149.6,289.5 149.8,290.5 149.4,291.5 149.0,292.5 149.0,293.5 149.0,294.5 148.8,295.5 149.3,296.5 150.2,297.5 150.1,298.5 149.3,299.5 148.9,300.5 149.1,301.5 149.7,302.5 150.0,303.5 149.6,304.5 149.5,305.5 149.8,306.5 149.7,307.5 149.5,308.5 149.8,308.9 161.8,308.9 162.1,308.5 161.9,307.5 161.8,306.5 162.1,305.5 162.0,304.5 161.6,303.5 161.9,302.5 162.5,301.5 162.7,300.5 162.3,299.5 161.5,298.5 161.4,297.5 162.3,296.5 162.8,295.5 162.6,294.5 162.6,293.5 162.6,292.5 162.2,291.5 161.8,290.5 162.0,289.5 162.2,288.5 162.0,287.5 162.2,286.5 162.5,285.5 162.6,284.5 162.4,283.5 162.3,282.5 162.4,281.5 162.4,280.5 162.4,279.5 162.2,278.5 162.2,277.5 162.9,276.5 163.0,275.5 162.5,274.5 162.6,273.5 163.2,272.5 163.3,271.5 162.8,270.5 162.2,269.5 162.3,268.5 162.7,267.5 163.1,266.5 162.9,265.5 161.9,264.5 161.4,263.5 162.0,262.5 163.2,261.5 163.6,260.5 163.2,259.5 162.9,258.5 162.7,257.5 162.7,256.5 162.7,255.5 162.6,254.5 163.0,253.5 163.2,252.5 163.1,251.5 163.6,250.5 163.5,249.5 163.1,248.5 162.9,247.5 162.7,246.5 162.5,245.5 162.3,244.5 162.6,243.5 163.8,242.5 164.2,241.5 163.4,240.5 162.5,239.5 162.8,238.5 163.6,237.5 163.9,236.5 163.2,235.5 162.7,234.5 163.3,233.5 163.5,232.5 163.2,231.5 163.8,230.5 164.4,229.5 164.1,228.5 163.5,227.5 162.9,226.5 163.2,225.5 163.8,224.5 163.9,223.5 164.3,222.5 164.4,221.5 164.0,220.5 164.1,219.5 164.5,218.5 164.3,217.5 163.6,216.5 162.8,215.5 162.5,214.5 163.3,213.5 164.5,212.5 164.5,211.5 163.6,210.5 163.6,209.5 164.0,208.5 164.0,207.5 164.2,206.5 163.8,205.5 164.1,204.5 165.0,203.5 164.6,202.5 164.0,201.5 164.4,200.5 164.4,199.5 163.4,198.5 163.7,197.5 165.0,196.5 165.4,195.5 164.8,194.5 164.1,193.5 164.2,192.5 164.7,191.5 164.4,190.5 164.2,189.5 164.9,188.5 165.3,187.5 165.0,186.5 164.0,185.5 163.7,184.5 164.5,183.5 165.0,182.5 165.0,181.5 165.0,180.5 165.5,179.5 165.6,178.5 165.4,177.5 165.4,176.5 165.3,175.5 165.1,174.5 164.6,173.5 164.4,172.5 164.8,171.5 164.8,170.5 165.3,169.5 166.5,168.5" fill="#ef4a50" filter="url(#bl1)"/><polygon points="148.3,168.5 149.2,169.5 149.6,170.5 149.6,171.5 149.9,172.5 149.7,173.5 149.4,174.5 149.3,175.5 149.2,176.5 149.2,177.5 149.0,178.5 149.1,179.5 149.5,180.5 149.5,181.5 149.5,182.5 149.8,183.5 150.4,184.5 150.2,185.5 149.5,186.5 149.3,187.5 149.6,188.5 150.1,189.5 150.0,190.5 149.8,191.5 150.1,192.5 150.2,193.5 149.7,194.5 149.3,195.5 149.6,196.5 150.5,197.5 150.7,198.5 150.0,199.5 150.0,200.5 150.3,201.5 149.9,202.5 149.6,203.5 150.2,204.5 150.4,205.5 150.2,206.5 150.3,207.5 150.3,208.5 150.6,209.5 150.6,210.5 150.0,211.5 150.0,212.5 150.8,213.5 151.3,214.5 151.2,215.5 150.6,216.5 150.2,217.5 150.0,218.5 150.3,219.5 150.4,220.5 150.1,221.5 150.2,222.5 150.5,223.5 150.6,224.5 150.9,225.5 151.1,226.5 150.7,227.5 150.3,228.5 150.2,229.5 150.6,230.5 151.0,231.5 150.7,232.5 150.9,233.5 151.3,234.5 151.0,235.5 150.5,236.5 150.7,237.5 151.3,238.5 151.5,239.5 150.9,240.5 150.4,241.5 150.7,242.5 151.4,243.5 151.6,244.5 151.5,245.5 151.4,246.5 151.3,247.5 151.1,248.5 150.8,249.5 150.8,250.5 151.1,251.5 151.1,252.5 151.2,253.5 151.5,254.5 151.4,255.5 151.4,256.5 151.4,257.5 151.3,258.5 151.1,259.5 150.9,260.5 151.1,261.5 151.9,262.5 152.3,263.5 151.9,264.5 151.3,265.5 151.2,266.5 151.4,267.5 151.7,268.5 151.8,269.5 151.4,270.5 151.1,271.5 151.1,272.5 151.5,273.5 151.6,274.5 151.3,275.5 151.4,276.5 151.8,277.5 151.8,278.5 151.7,279.5 151.7,280.5 151.7,281.5 151.8,282.5 151.7,283.5 151.6,284.5 151.6,285.5 151.9,286.5 152.0,287.5 151.8,288.5 152.0,289.5 152.1,290.5 151.8,291.5 151.6,292.5 151.6,293.5 151.6,294.5 151.5,295.5 151.8,296.5 152.4,297.5 152.3,298.5 151.8,299.5 151.6,300.5 151.7,301.5 152.0,302.5 152.2,303.5 152.0,304.5 151.9,305.5 152.1,306.5 152.1,307.5 151.9,308.5 152.2,308.9 159.4,308.9 159.7,308.5 159.5,307.5 159.5,306.5 159.7,305.5 159.6,304.5 159.4,303.5 159.6,302.5 159.9,301.5 160.0,300.5 159.8,299.5 159.3,298.5 159.2,297.5 159.8,296.5 160.1,295.5 160.0,294.5 160.0,293.5 160.0,292.5 159.8,291.5 159.5,290.5 159.6,289.5 159.8,288.5 159.6,287.5 159.7,286.5 160.0,285.5 160.0,284.5 159.9,283.5 159.8,282.5 159.9,281.5 159.9,280.5 159.9,279.5 159.8,278.5 159.8,277.5 160.2,276.5 160.3,275.5 160.0,274.5 160.1,273.5 160.5,272.5 160.5,271.5 160.2,270.5 159.8,269.5 159.9,268.5 160.2,267.5 160.4,266.5 160.3,265.5 159.7,264.5 159.3,263.5 159.7,262.5 160.5,261.5 160.7,260.5 160.5,259.5 160.3,258.5 160.2,257.5 160.2,256.5 160.2,255.5 160.1,254.5 160.4,253.5 160.5,252.5 160.5,251.5 160.8,250.5 160.8,249.5 160.5,248.5 160.3,247.5 160.2,246.5 160.1,245.5 160.0,244.5 160.2,243.5 160.9,242.5 161.2,241.5 160.7,240.5 160.1,239.5 160.3,238.5 160.9,237.5 161.1,236.5 160.6,235.5 160.3,234.5 160.7,233.5 160.9,232.5 160.6,231.5 161.0,230.5 161.4,229.5 161.3,228.5 160.9,227.5 160.5,226.5 160.7,225.5 161.0,224.5 161.1,223.5 161.4,222.5 161.5,221.5 161.2,220.5 161.3,219.5 161.6,218.5 161.4,217.5 161.0,216.5 160.4,215.5 160.3,214.5 160.8,213.5 161.6,212.5 161.6,211.5 161.0,210.5 161.0,209.5 161.3,208.5 161.3,207.5 161.4,206.5 161.2,205.5 161.4,204.5 162.0,203.5 161.7,202.5 161.3,201.5 161.6,200.5 161.6,199.5 160.9,198.5 161.1,197.5 162.0,196.5 162.3,195.5 161.9,194.5 161.4,193.5 161.5,192.5 161.8,191.5 161.6,190.5 161.5,189.5 162.0,188.5 162.3,187.5 162.1,186.5 161.4,185.5 161.2,184.5 161.8,183.5 162.1,182.5 162.1,181.5 162.1,180.5 162.5,179.5 162.6,178.5 162.4,177.5 162.4,176.5 162.3,175.5 162.2,174.5 161.9,173.5 161.7,172.5 162.0,171.5 162.0,170.5 162.4,169.5 163.3,168.5" fill="#e41a24" filter="url(#bl0)"/><rect x="131.0" y="170.00" width="51.0" height="1.0" fill="#ffffff" opacity="0.08"/><rect x="131.0" y="171.00" width="51.0" height="1.2" fill="#e87070" opacity="0.06"/><rect x="131.0" y="172.20" width="51.0" height="1.0" fill="#e87070" opacity="0.02"/><rect x="131.0" y="173.20" width="51.0" height="1.6" fill="#ffffff" opacity="0.05"/><rect x="131.0" y="174.80" width="51.0" height="1.6" fill="#ffffff" opacity="0.11"/><rect x="131.0" y="176.40" width="51.0" height="1.0" fill="#ffffff" opacity="0.04"/><rect x="131.0" y="177.40" width="51.0" height="1.6" fill="#ffffff" opacity="0.07"/><rect x="131.0" y="179.00" width="51.0" height="1.2" fill="#ffffff" opacity="0.08"/><rect x="131.0" y="180.20" width="51.0" height="1.6" fill="#ffffff" opacity="0.06"/><rect x="131.0" y="181.80" width="51.0" height="1.2" fill="#ffffff" opacity="0.11"/><rect x="131.0" y="183.00" width="51.0" height="1.6" fill="#ffffff" opacity="0.08"/><rect x="131.0" y="184.60" width="51.0" height="1.2" fill="#e87070" opacity="0.03"/><rect x="131.0" y="185.80" width="51.0" height="1.0" fill="#ffffff" opacity="0.03"/><rect x="131.0" y="186.80" width="51.0" height="0.8" fill="#e87070" opacity="0.01"/><rect x="131.0" y="187.60" width="51.0" height="1.2" fill="#e87070" opacity="0.03"/><rect x="131.0" y="188.80" width="51.0" height="1.2" fill="#e87070" opacity="0.03"/><rect x="131.0" y="190.00" width="51.0" height="1.0" fill="#ffffff" opacity="0.03"/><rect x="131.0" y="191.00" width="51.0" height="1.2" fill="#ffffff" opacity="0.12"/><rect x="131.0" y="192.20" width="51.0" height="1.6" fill="#ffffff" opacity="0.11"/><rect x="131.0" y="193.80" width="51.0" height="1.2" fill="#ffffff" opacity="0.08"/><rect x="131.0" y="195.00" width="51.0" height="1.2" fill="#ffffff" opacity="0.07"/><rect x="131.0" y="196.20" width="51.0" height="0.8" fill="#e87070" opacity="0.00"/><rect x="131.0" y="197.00" width="51.0" height="1.6" fill="#ffffff" opacity="0.08"/><rect x="131.0" y="198.60" width="51.0" height="1.2" fill="#ffffff" opacity="0.13"/><rect x="131.0" y="199.80" width="51.0" height="1.6" fill="#ffffff" opacity="0.01"/><rect x="131.0" y="201.40" width="51.0" height="1.0" fill="#ffffff" opacity="0.04"/><rect x="131.0" y="202.40" width="51.0" height="1.2" fill="#ffffff" opacity="0.03"/><rect x="131.0" y="203.60" width="51.0" height="1.6" fill="#ffffff" opacity="0.01"/><rect x="131.0" y="205.20" width="51.0" height="0.8" fill="#e87070" opacity="0.04"/><rect x="131.0" y="206.00" width="51.0" height="1.6" fill="#ffffff" opacity="0.07"/><rect x="131.0" y="207.60" width="51.0" height="1.6" fill="#e87070" opacity="0.06"/><rect x="131.0" y="209.20" width="51.0" height="0.8" fill="#e87070" opacity="0.02"/><rect x="131.0" y="210.00" width="51.0" height="1.0" fill="#e87070" opacity="0.04"/><rect x="131.0" y="211.00" width="51.0" height="1.6" fill="#ffffff" opacity="0.03"/><rect x="131.0" y="212.60" width="51.0" height="1.2" fill="#e87070" opacity="0.07"/><rect x="131.0" y="213.80" width="51.0" height="1.0" fill="#ffffff" opacity="0.02"/><rect x="131.0" y="214.80" width="51.0" height="1.2" fill="#e87070" opacity="0.00"/><rect x="131.0" y="216.00" width="51.0" height="0.8" fill="#ffffff" opacity="0.12"/><rect x="131.0" y="216.80" width="51.0" height="1.2" fill="#e87070" opacity="0.06"/><rect x="131.0" y="218.00" width="51.0" height="1.6" fill="#ffffff" opacity="0.01"/><rect x="131.0" y="219.60" width="51.0" height="1.2" fill="#ffffff" opacity="0.11"/><rect x="131.0" y="220.80" width="51.0" height="1.2" fill="#ffffff" opacity="0.08"/><rect x="131.0" y="222.00" width="51.0" height="0.8" fill="#ffffff" opacity="0.07"/><rect x="131.0" y="222.80" width="51.0" height="1.2" fill="#ffffff" opacity="0.05"/><rect x="131.0" y="224.00" width="51.0" height="1.6" fill="#ffffff" opacity="0.05"/><rect x="131.0" y="225.60" width="51.0" height="1.0" fill="#e87070" opacity="0.06"/><rect x="131.0" y="226.60" width="51.0" height="0.8" fill="#ffffff" opacity="0.07"/><rect x="131.0" y="227.40" width="51.0" height="0.8" fill="#ffffff" opacity="0.02"/><rect x="131.0" y="228.20" width="51.0" height="0.8" fill="#ffffff" opacity="0.13"/><rect x="131.0" y="229.00" width="51.0" height="1.0" fill="#ffffff" opacity="0.11"/><rect x="131.0" y="230.00" width="51.0" height="1.6" fill="#e87070" opacity="0.06"/><rect x="131.0" y="231.60" width="51.0" height="0.8" fill="#ffffff" opacity="0.06"/><rect x="131.0" y="232.40" width="51.0" height="1.2" fill="#ffffff" opacity="0.12"/><rect x="131.0" y="233.60" width="51.0" height="0.8" fill="#ffffff" opacity="0.09"/><rect x="131.0" y="234.40" width="51.0" height="1.2" fill="#ffffff" opacity="0.03"/><rect x="131.0" y="235.60" width="51.0" height="1.0" fill="#e87070" opacity="0.05"/><rect x="131.0" y="236.60" width="51.0" height="1.0" fill="#ffffff" opacity="0.06"/><rect x="131.0" y="237.60" width="51.0" height="1.2" fill="#ffffff" opacity="0.06"/><rect x="131.0" y="238.80" width="51.0" height="1.0" fill="#e87070" opacity="0.00"/><rect x="131.0" y="239.80" width="51.0" height="1.2" fill="#ffffff" opacity="0.05"/><rect x="131.0" y="241.00" width="51.0" height="1.2" fill="#ffffff" opacity="0.07"/><rect x="131.0" y="242.20" width="51.0" height="1.6" fill="#ffffff" opacity="0.13"/><rect x="131.0" y="243.80" width="51.0" height="1.0" fill="#ffffff" opacity="0.14"/><rect x="131.0" y="244.80" width="51.0" height="1.0" fill="#ffffff" opacity="0.08"/><rect x="131.0" y="245.80" width="51.0" height="0.8" fill="#ffffff" opacity="0.04"/><rect x="131.0" y="246.60" width="51.0" height="1.2" fill="#ffffff" opacity="0.06"/><rect x="131.0" y="247.80" width="51.0" height="1.0" fill="#ffffff" opacity="0.13"/><rect x="131.0" y="248.80" width="51.0" height="1.6" fill="#ffffff" opacity="0.04"/><rect x="131.0" y="250.40" width="51.0" height="0.8" fill="#ffffff" opacity="0.12"/><rect x="131.0" y="251.20" width="51.0" height="1.0" fill="#ffffff" opacity="0.14"/><rect x="131.0" y="252.20" width="51.0" height="1.6" fill="#ffffff" opacity="0.11"/><rect x="131.0" y="253.80" width="51.0" height="1.0" fill="#e87070" opacity="0.03"/><rect x="131.0" y="254.80" width="51.0" height="1.2" fill="#ffffff" opacity="0.03"/><rect x="131.0" y="256.00" width="51.0" height="0.8" fill="#ffffff" opacity="0.13"/><rect x="131.0" y="256.80" width="51.0" height="1.2" fill="#ffffff" opacity="0.08"/><rect x="131.0" y="258.00" width="51.0" height="1.0" fill="#ffffff" opacity="0.07"/><rect x="131.0" y="259.00" width="51.0" height="1.0" fill="#ffffff" opacity="0.03"/><rect x="131.0" y="260.00" width="51.0" height="0.8" fill="#e87070" opacity="0.06"/><rect x="131.0" y="260.80" width="51.0" height="1.6" fill="#ffffff" opacity="0.11"/><rect x="131.0" y="262.40" width="51.0" height="1.0" fill="#e87070" opacity="0.01"/><rect x="131.0" y="263.40" width="51.0" height="1.0" fill="#ffffff" opacity="0.08"/><rect x="131.0" y="264.40" width="51.0" height="0.8" fill="#e87070" opacity="0.00"/><rect x="131.0" y="265.20" width="51.0" height="1.6" fill="#ffffff" opacity="0.12"/><rect x="131.0" y="266.80" width="51.0" height="1.2" fill="#e87070" opacity="0.02"/><rect x="131.0" y="268.00" width="51.0" height="1.6" fill="#ffffff" opacity="0.01"/><rect x="131.0" y="269.60" width="51.0" height="1.6" fill="#e87070" opacity="0.01"/><rect x="131.0" y="271.20" width="51.0" height="1.2" fill="#e87070" opacity="0.02"/><rect x="131.0" y="272.40" width="51.0" height="1.2" fill="#e87070" opacity="0.00"/><rect x="131.0" y="273.60" width="51.0" height="1.2" fill="#ffffff" opacity="0.08"/><rect x="131.0" y="274.80" width="51.0" height="1.2" fill="#ffffff" opacity="0.07"/><rect x="131.0" y="276.00" width="51.0" height="0.8" fill="#e87070" opacity="0.01"/><rect x="131.0" y="276.80" width="51.0" height="1.0" fill="#ffffff" opacity="0.11"/><rect x="131.0" y="277.80" width="51.0" height="1.6" fill="#ffffff" opacity="0.08"/><rect x="131.0" y="279.40" width="51.0" height="1.2" fill="#e87070" opacity="0.06"/><rect x="131.0" y="280.60" width="51.0" height="1.6" fill="#ffffff" opacity="0.06"/><rect x="131.0" y="282.20" width="51.0" height="1.0" fill="#ffffff" opacity="0.00"/><rect x="131.0" y="283.20" width="51.0" height="1.0" fill="#ffffff" opacity="0.09"/><rect x="131.0" y="284.20" width="51.0" height="0.8" fill="#e87070" opacity="0.02"/><rect x="131.0" y="285.00" width="51.0" height="0.8" fill="#e87070" opacity="0.00"/><rect x="131.0" y="285.80" width="51.0" height="1.0" fill="#e87070" opacity="0.02"/><rect x="131.0" y="286.80" width="51.0" height="1.6" fill="#e87070" opacity="0.04"/><rect x="131.0" y="288.40" width="51.0" height="1.6" fill="#ffffff" opacity="0.01"/><rect x="131.0" y="290.00" width="51.0" height="1.0" fill="#ffffff" opacity="0.01"/><rect x="131.0" y="291.00" width="51.0" height="1.6" fill="#e87070" opacity="0.03"/><rect x="131.0" y="292.60" width="51.0" height="1.2" fill="#ffffff" opacity="0.02"/><rect x="131.0" y="293.80" width="51.0" height="1.6" fill="#e87070" opacity="0.06"/><rect x="131.0" y="295.40" width="51.0" height="1.0" fill="#ffffff" opacity="0.12"/><rect x="131.0" y="296.40" width="51.0" height="1.6" fill="#ffffff" opacity="0.10"/><rect x="131.0" y="298.00" width="51.0" height="0.8" fill="#ffffff" opacity="0.13"/><rect x="131.0" y="298.80" width="51.0" height="1.6" fill="#e87070" opacity="0.04"/><rect x="131.0" y="300.40" width="51.0" height="0.8" fill="#ffffff" opacity="0.06"/><rect x="131.0" y="301.20" width="51.0" height="1.2" fill="#ffffff" opacity="0.05"/><rect x="131.0" y="302.40" width="51.0" height="1.2" fill="#e87070" opacity="0.05"/><rect x="131.0" y="303.60" width="51.0" height="1.2" fill="#e87070" opacity="0.06"/><rect x="131.0" y="304.80" width="51.0" height="0.8" fill="#ffffff" opacity="0.05"/><rect x="131.0" y="305.60" width="51.0" height="1.2" fill="#ffffff" opacity="0.03"/><rect x="131.0" y="306.80" width="51.0" height="0.8" fill="#e87070" opacity="0.03"/></g><g clip-path="url(#c1_5)"><rect x="131.0" y="307.4" width="51.0" height="19.80000000000001" fill="#f9d8d0"/><polygon points="142.2,305.9 143.0,309.9 143.8,313.9 144.4,317.9 144.9,321.9 145.3,325.9 145.4,328.7 166.2,328.7 166.3,325.9 166.7,321.9 167.2,317.9 167.8,313.9 168.6,309.9 169.4,305.9" fill="#f3a092" opacity="0.85" filter="url(#bl3)"/><polygon points="148.2,305.9 148.1,306.9 148.0,307.9 147.8,308.9 148.1,309.9 148.2,310.9 147.7,311.9 147.3,312.9 148.1,313.9 148.6,314.9 147.5,315.9 147.7,316.9 148.5,317.9 148.2,318.9 147.9,319.9 147.9,320.9 148.2,321.9 148.3,322.9 148.7,323.9 149.6,324.9 150.1,325.9 150.1,326.9 150.1,327.9 150.0,328.7 161.6,328.7 161.5,327.9 161.5,326.9 161.5,325.9 162.0,324.9 162.9,323.9 163.3,322.9 163.4,321.9 163.7,320.9 163.7,319.9 163.4,318.9 163.1,317.9 163.9,316.9 164.1,315.9 163.0,314.9 163.5,313.9 164.3,312.9 163.9,311.9 163.4,310.9 163.5,309.9 163.8,308.9 163.6,307.9 163.5,306.9 163.4,305.9" fill="#ef4a50" filter="url(#bl1)"/><polygon points="150.8,305.9 150.8,306.9 150.7,307.9 150.6,308.9 150.8,309.9 150.9,310.9 150.6,311.9 150.3,312.9 150.8,313.9 151.1,314.9 150.4,315.9 150.5,316.9 151.1,317.9 150.9,318.9 150.7,319.9 150.7,320.9 150.9,321.9 151.0,322.9 151.2,323.9 151.8,324.9 152.1,325.9 152.1,326.9 152.1,327.9 152.0,328.7 159.6,328.7 159.5,327.9 159.5,326.9 159.5,325.9 159.8,324.9 160.4,323.9 160.6,322.9 160.7,321.9 160.9,320.9 160.9,319.9 160.7,318.9 160.5,317.9 161.1,316.9 161.2,315.9 160.5,314.9 160.8,313.9 161.3,312.9 161.0,311.9 160.7,310.9 160.8,309.9 161.0,308.9 160.9,307.9 160.8,306.9 160.8,305.9" fill="#e41a24" filter="url(#bl0)"/><rect x="131.0" y="307.40" width="51.0" height="0.8" fill="#e87070" opacity="0.02"/><rect x="131.0" y="308.20" width="51.0" height="1.0" fill="#e87070" opacity="0.01"/><rect x="131.0" y="309.20" width="51.0" height="1.2" fill="#e87070" opacity="0.01"/><rect x="131.0" y="310.40" width="51.0" height="1.0" fill="#e87070" opacity="0.03"/><rect x="131.0" y="311.40" width="51.0" height="1.0" fill="#ffffff" opacity="0.12"/><rect x="131.0" y="312.40" width="51.0" height="1.2" fill="#e87070" opacity="0.02"/><rect x="131.0" y="313.60" width="51.0" height="0.8" fill="#ffffff" opacity="0.10"/><rect x="131.0" y="314.40" width="51.0" height="1.6" fill="#e87070" opacity="0.04"/><rect x="131.0" y="316.00" width="51.0" height="1.0" fill="#ffffff" opacity="0.09"/><rect x="131.0" y="317.00" width="51.0" height="1.2" fill="#e87070" opacity="0.03"/><rect x="131.0" y="318.20" width="51.0" height="1.2" fill="#ffffff" opacity="0.09"/><rect x="131.0" y="319.40" width="51.0" height="1.2" fill="#ffffff" opacity="0.00"/><rect x="131.0" y="320.60" width="51.0" height="1.0" fill="#e87070" opacity="0.01"/><rect x="131.0" y="321.60" width="51.0" height="1.6" fill="#ffffff" opacity="0.14"/><rect x="131.0" y="323.20" width="51.0" height="0.8" fill="#ffffff" opacity="0.13"/><rect x="131.0" y="324.00" width="51.0" height="1.0" fill="#ffffff" opacity="0.05"/><rect x="131.0" y="325.00" width="51.0" height="1.6" fill="#ffffff" opacity="0.04"/><rect x="131.0" y="326.60" width="51.0" height="1.2" fill="#ffffff" opacity="0.01"/></g><rect x="131.0" y="25.5" width="51.0" height="301.7" fill="none" stroke="#6e5f5c" stroke-width="1.3"/><line x1="131.0" y1="43.8" x2="182.0" y2="43.8" stroke="#6e5f5c" stroke-width="2.1"/><line x1="131.0" y1="80.8" x2="182.0" y2="80.8" stroke="#6e5f5c" stroke-width="2.1"/><line x1="131.0" y1="97.6" x2="182.0" y2="97.6" stroke="#6e5f5c" stroke-width="2.1"/><line x1="131.0" y1="170.0" x2="182.0" y2="170.0" stroke="#6e5f5c" stroke-width="2.1"/><line x1="131.0" y1="307.4" x2="182.0" y2="307.4" stroke="#6e5f5c" stroke-width="2.1"/><g clip-path="url(#c2_0)"><rect x="187.5" y="25.5" width="51.0" height="18.299999999999997" fill="#f9d4cc"/><polygon points="199.9,24.0 201.1,28.0 202.1,32.0 202.9,36.0 203.6,40.0 204.0,44.0 204.0,45.3 222.6,45.3 222.6,44.0 223.0,40.0 223.7,36.0 224.5,32.0 225.5,28.0 226.7,24.0" fill="#f3968a" opacity="0.85" filter="url(#bl3)"/><polygon points="205.8,24.0 205.7,25.0 205.3,26.0 205.7,27.0 206.3,28.0 206.3,29.0 206.1,30.0 206.2,31.0 206.7,32.0 206.7,33.0 206.3,34.0 206.5,35.0 207.1,36.0 207.3,37.0 207.2,38.0 207.0,39.0 207.0,40.0 206.9,41.0 207.0,42.0 207.2,43.0 207.2,44.0 207.2,45.0 207.2,45.3 219.4,45.3 219.4,45.0 219.4,44.0 219.4,43.0 219.6,42.0 219.7,41.0 219.6,40.0 219.6,39.0 219.4,38.0 219.3,37.0 219.5,36.0 220.1,35.0 220.3,34.0 219.9,33.0 219.9,32.0 220.4,31.0 220.5,30.0 220.3,29.0 220.3,28.0 220.9,27.0 221.3,26.0 220.9,25.0 220.8,24.0" fill="#ee3236" filter="url(#bl1)"/><polygon points="208.4,24.0 208.3,25.0 208.1,26.0 208.3,27.0 208.7,28.0 208.7,29.0 208.6,30.0 208.6,31.0 209.0,32.0 209.0,33.0 208.7,34.0 208.8,35.0 209.2,36.0 209.3,37.0 209.3,38.0 209.2,39.0 209.1,40.0 209.1,41.0 209.2,42.0 209.3,43.0 209.3,44.0 209.3,45.0 209.3,45.3 217.3,45.3 217.3,45.0 217.3,44.0 217.3,43.0 217.4,42.0 217.5,41.0 217.5,40.0 217.4,39.0 217.3,38.0 217.3,37.0 217.4,36.0 217.8,35.0 217.9,34.0 217.6,33.0 217.6,32.0 218.0,31.0 218.0,30.0 217.9,29.0 217.9,28.0 218.3,27.0 218.5,26.0 218.3,25.0 218.2,24.0" fill="#e2000f" filter="url(#bl0)"/><rect x="187.5" y="25.50" width="51.0" height="1.0" fill="#ffffff" opacity="0.06"/><rect x="187.5" y="26.50" width="51.0" height="0.8" fill="#e87070" opacity="0.03"/><rect x="187.5" y="27.30" width="51.0" height="0.8" fill="#e87070" opacity="0.03"/><rect x="187.5" y="28.10" width="51.0" height="1.0" fill="#ffffff" opacity="0.06"/><rect x="187.5" y="29.10" width="51.0" height="0.8" fill="#ffffff" opacity="0.05"/><rect x="187.5" y="29.90" width="51.0" height="1.6" fill="#ffffff" opacity="0.04"/><rect x="187.5" y="31.50" width="51.0" height="1.2" fill="#e87070" opacity="0.02"/><rect x="187.5" y="32.70" width="51.0" height="1.6" fill="#ffffff" opacity="0.09"/><rect x="187.5" y="34.30" width="51.0" height="1.6" fill="#ffffff" opacity="0.05"/><rect x="187.5" y="35.90" width="51.0" height="1.0" fill="#ffffff" opacity="0.08"/><rect x="187.5" y="36.90" width="51.0" height="1.6" fill="#e87070" opacity="0.04"/><rect x="187.5" y="38.50" width="51.0" height="1.0" fill="#ffffff" opacity="0.01"/><rect x="187.5" y="39.50" width="51.0" height="1.2" fill="#e87070" opacity="0.07"/><rect x="187.5" y="40.70" width="51.0" height="1.0" fill="#ffffff" opacity="0.13"/><rect x="187.5" y="41.70" width="51.0" height="1.6" fill="#ffffff" opacity="0.12"/><rect x="187.5" y="43.30" width="51.0" height="0.8" fill="#e87070" opacity="0.00"/></g><g clip-path="url(#c2_1)"><rect x="187.5" y="43.8" width="51.0" height="37.0" fill="#f9d4cc"/><polygon points="199.5,42.3 200.2,46.3 200.8,50.3 201.4,54.3 201.9,58.3 202.4,62.3 202.8,66.3 203.2,70.3 203.5,74.3 203.7,78.3 203.8,82.3 203.8,82.3 222.8,82.3 222.8,82.3 222.9,78.3 223.1,74.3 223.4,70.3 223.8,66.3 224.2,62.3 224.7,58.3 225.2,54.3 225.8,50.3 226.4,46.3 227.1,42.3" fill="#f3968a" opacity="0.85" filter="url(#bl3)"/><polygon points="204.2,42.3 204.8,43.3 205.1,44.3 205.1,45.3 205.1,46.3 205.0,47.3 204.9,48.3 205.1,49.3 205.5,50.3 205.8,51.3 206.0,52.3 205.8,53.3 206.0,54.3 206.6,55.3 206.7,56.3 206.5,57.3 206.3,58.3 206.2,59.3 206.0,60.3 206.1,61.3 206.7,62.3 206.9,63.3 206.8,64.3 206.6,65.3 206.4,66.3 206.3,67.3 206.5,68.3 206.6,69.3 206.8,70.3 207.2,71.3 207.3,72.3 207.4,73.3 207.5,74.3 207.6,75.3 207.4,76.3 207.3,77.3 207.4,78.3 207.3,79.3 207.0,80.3 207.0,81.3 206.9,82.3 207.0,82.3 219.6,82.3 219.7,82.3 219.6,81.3 219.6,80.3 219.3,79.3 219.2,78.3 219.3,77.3 219.2,76.3 219.0,75.3 219.1,74.3 219.2,73.3 219.3,72.3 219.4,71.3 219.8,70.3 220.0,69.3 220.1,68.3 220.3,67.3 220.2,66.3 220.0,65.3 219.8,64.3 219.7,63.3 219.9,62.3 220.5,61.3 220.6,60.3 220.4,59.3 220.3,58.3 220.1,57.3 219.9,56.3 220.0,55.3 220.6,54.3 220.8,53.3 220.6,52.3 220.8,51.3 221.1,50.3 221.5,49.3 221.7,48.3 221.6,47.3 221.5,46.3 221.5,45.3 221.5,44.3 221.8,43.3 222.4,42.3" fill="#ee3236" filter="url(#bl1)"/><polygon points="207.2,42.3 207.6,43.3 207.7,44.3 207.8,45.3 207.8,46.3 207.7,47.3 207.6,48.3 207.8,49.3 208.0,50.3 208.3,51.3 208.4,52.3 208.3,53.3 208.4,54.3 208.8,55.3 208.9,56.3 208.8,57.3 208.6,58.3 208.5,59.3 208.4,60.3 208.5,61.3 208.9,62.3 209.0,63.3 209.0,64.3 208.8,65.3 208.7,66.3 208.6,67.3 208.8,68.3 208.8,69.3 209.0,70.3 209.3,71.3 209.3,72.3 209.3,73.3 209.5,74.3 209.5,75.3 209.4,76.3 209.3,77.3 209.4,78.3 209.3,79.3 209.1,80.3 209.1,81.3 209.0,82.3 209.1,82.3 217.5,82.3 217.6,82.3 217.5,81.3 217.5,80.3 217.3,79.3 217.2,78.3 217.3,77.3 217.2,76.3 217.1,75.3 217.1,74.3 217.3,73.3 217.3,72.3 217.3,71.3 217.6,70.3 217.8,69.3 217.8,68.3 218.0,67.3 217.9,66.3 217.8,65.3 217.6,64.3 217.6,63.3 217.7,62.3 218.1,61.3 218.2,60.3 218.1,59.3 218.0,58.3 217.8,57.3 217.7,56.3 217.8,55.3 218.2,54.3 218.3,53.3 218.2,52.3 218.3,51.3 218.6,50.3 218.8,49.3 219.0,48.3 218.9,47.3 218.8,46.3 218.8,45.3 218.9,44.3 219.0,43.3 219.4,42.3" fill="#e2000f" filter="url(#bl0)"/><rect x="187.5" y="43.80" width="51.0" height="1.0" fill="#ffffff" opacity="0.07"/><rect x="187.5" y="44.80" width="51.0" height="1.6" fill="#e87070" opacity="0.01"/><rect x="187.5" y="46.40" width="51.0" height="0.8" fill="#e87070" opacity="0.02"/><rect x="187.5" y="47.20" width="51.0" height="0.8" fill="#ffffff" opacity="0.10"/><rect x="187.5" y="48.00" width="51.0" height="0.8" fill="#e87070" opacity="0.02"/><rect x="187.5" y="48.80" width="51.0" height="0.8" fill="#ffffff" opacity="0.13"/><rect x="187.5" y="49.60" width="51.0" height="0.8" fill="#e87070" opacity="0.04"/><rect x="187.5" y="50.40" width="51.0" height="0.8" fill="#ffffff" opacity="0.03"/><rect x="187.5" y="51.20" width="51.0" height="1.2" fill="#e87070" opacity="0.06"/><rect x="187.5" y="52.40" width="51.0" height="1.0" fill="#ffffff" opacity="0.08"/><rect x="187.5" y="53.40" width="51.0" height="0.8" fill="#e87070" opacity="0.01"/><rect x="187.5" y="54.20" width="51.0" height="0.8" fill="#ffffff" opacity="0.00"/><rect x="187.5" y="55.00" width="51.0" height="1.0" fill="#ffffff" opacity="0.13"/><rect x="187.5" y="56.00" width="51.0" height="1.6" fill="#ffffff" opacity="0.09"/><rect x="187.5" y="57.60" width="51.0" height="0.8" fill="#e87070" opacity="0.05"/><rect x="187.5" y="58.40" width="51.0" height="1.2" fill="#ffffff" opacity="0.02"/><rect x="187.5" y="59.60" width="51.0" height="1.2" fill="#ffffff" opacity="0.04"/><rect x="187.5" y="60.80" width="51.0" height="1.2" fill="#e87070" opacity="0.04"/><rect x="187.5" y="62.00" width="51.0" height="0.8" fill="#ffffff" opacity="0.05"/><rect x="187.5" y="62.80" width="51.0" height="1.6" fill="#ffffff" opacity="0.00"/><rect x="187.5" y="64.40" width="51.0" height="1.6" fill="#ffffff" opacity="0.08"/><rect x="187.5" y="66.00" width="51.0" height="1.6" fill="#ffffff" opacity="0.01"/><rect x="187.5" y="67.60" width="51.0" height="1.0" fill="#ffffff" opacity="0.03"/><rect x="187.5" y="68.60" width="51.0" height="1.0" fill="#ffffff" opacity="0.04"/><rect x="187.5" y="69.60" width="51.0" height="1.2" fill="#ffffff" opacity="0.06"/><rect x="187.5" y="70.80" width="51.0" height="1.6" fill="#ffffff" opacity="0.14"/><rect x="187.5" y="72.40" width="51.0" height="1.0" fill="#e87070" opacity="0.05"/><rect x="187.5" y="73.40" width="51.0" height="1.0" fill="#ffffff" opacity="0.06"/><rect x="187.5" y="74.40" width="51.0" height="1.6" fill="#ffffff" opacity="0.00"/><rect x="187.5" y="76.00" width="51.0" height="0.8" fill="#ffffff" opacity="0.02"/><rect x="187.5" y="76.80" width="51.0" height="1.6" fill="#ffffff" opacity="0.03"/><rect x="187.5" y="78.40" width="51.0" height="1.6" fill="#ffffff" opacity="0.08"/><rect x="187.5" y="80.00" width="51.0" height="1.2" fill="#ffffff" opacity="0.07"/></g><g clip-path="url(#c2_2)"><rect x="187.5" y="80.8" width="51.0" height="16.799999999999997" fill="#f9d4cc"/><polygon points="199.8,79.3 201.1,83.3 202.2,87.3 203.1,91.3 203.7,95.3 204.0,99.1 222.6,99.1 222.9,95.3 223.5,91.3 224.4,87.3 225.5,83.3 226.8,79.3" fill="#f3968a" opacity="0.85" filter="url(#bl3)"/><polygon points="205.2,79.3 204.9,80.3 204.9,81.3 205.2,82.3 205.4,83.3 205.8,84.3 206.2,85.3 206.4,86.3 206.6,87.3 206.8,88.3 207.1,89.3 207.2,90.3 207.0,91.3 207.3,92.3 207.6,93.3 207.6,94.3 207.3,95.3 207.2,96.3 207.3,97.3 207.4,98.3 207.4,99.1 219.2,99.1 219.2,98.3 219.3,97.3 219.4,96.3 219.3,95.3 219.0,94.3 219.0,93.3 219.3,92.3 219.6,91.3 219.4,90.3 219.5,89.3 219.8,88.3 220.0,87.3 220.2,86.3 220.4,85.3 220.8,84.3 221.2,83.3 221.4,82.3 221.7,81.3 221.7,80.3 221.4,79.3" fill="#ee3236" filter="url(#bl1)"/><polygon points="207.9,79.3 207.7,80.3 207.8,81.3 208.0,82.3 208.1,83.3 208.3,84.3 208.6,85.3 208.7,86.3 208.9,87.3 209.0,88.3 209.2,89.3 209.3,90.3 209.1,91.3 209.3,92.3 209.6,93.3 209.5,94.3 209.4,95.3 209.3,96.3 209.4,97.3 209.4,98.3 209.4,99.1 217.2,99.1 217.2,98.3 217.2,97.3 217.3,96.3 217.2,95.3 217.1,94.3 217.0,93.3 217.3,92.3 217.5,91.3 217.3,90.3 217.4,89.3 217.6,88.3 217.7,87.3 217.9,86.3 218.0,85.3 218.3,84.3 218.5,83.3 218.6,82.3 218.8,81.3 218.9,80.3 218.7,79.3" fill="#e2000f" filter="url(#bl0)"/><rect x="187.5" y="80.80" width="51.0" height="1.2" fill="#e87070" opacity="0.02"/><rect x="187.5" y="82.00" width="51.0" height="1.6" fill="#e87070" opacity="0.03"/><rect x="187.5" y="83.60" width="51.0" height="1.0" fill="#ffffff" opacity="0.04"/><rect x="187.5" y="84.60" width="51.0" height="1.0" fill="#ffffff" opacity="0.03"/><rect x="187.5" y="85.60" width="51.0" height="1.0" fill="#ffffff" opacity="0.13"/><rect x="187.5" y="86.60" width="51.0" height="1.6" fill="#ffffff" opacity="0.08"/><rect x="187.5" y="88.20" width="51.0" height="1.0" fill="#e87070" opacity="0.03"/><rect x="187.5" y="89.20" width="51.0" height="1.0" fill="#ffffff" opacity="0.02"/><rect x="187.5" y="90.20" width="51.0" height="0.8" fill="#ffffff" opacity="0.08"/><rect x="187.5" y="91.00" width="51.0" height="1.6" fill="#e87070" opacity="0.00"/><rect x="187.5" y="92.60" width="51.0" height="1.0" fill="#ffffff" opacity="0.04"/><rect x="187.5" y="93.60" width="51.0" height="0.8" fill="#ffffff" opacity="0.10"/><rect x="187.5" y="94.40" width="51.0" height="1.2" fill="#ffffff" opacity="0.03"/><rect x="187.5" y="95.60" width="51.0" height="0.8" fill="#ffffff" opacity="0.08"/><rect x="187.5" y="96.40" width="51.0" height="1.2" fill="#e87070" opacity="0.01"/><rect x="187.5" y="97.60" width="51.0" height="1.2" fill="#ffffff" opacity="0.01"/></g><g clip-path="url(#c2_3)"><rect x="187.5" y="97.6" width="51.0" height="72.4" fill="#f9d4cc"/><polygon points="199.1,96.1 199.5,100.1 199.9,104.1 200.2,108.1 200.6,112.1 200.9,116.1 201.3,120.1 201.6,124.1 201.9,128.1 202.1,132.1 202.4,136.1 202.6,140.1 202.9,144.1 203.1,148.1 203.3,152.1 203.4,156.1 203.6,160.1 203.7,164.1 203.8,168.1 203.8,171.5 222.8,171.5 222.8,168.1 222.9,164.1 223.0,160.1 223.2,156.1 223.3,152.1 223.5,148.1 223.7,144.1 224.0,140.1 224.2,136.1 224.5,132.1 224.7,128.1 225.0,124.1 225.3,120.1 225.7,116.1 226.0,112.1 226.4,108.1 226.7,104.1 227.1,100.1 227.5,96.1" fill="#f3968a" opacity="0.85" filter="url(#bl3)"/><polygon points="204.8,96.1 204.4,97.1 204.6,98.1 204.5,99.1 204.0,100.1 203.9,101.1 203.9,102.1 204.4,103.1 205.1,104.1 205.5,105.1 205.4,106.1 204.9,107.1 204.8,108.1 205.2,109.1 205.2,110.1 205.0,111.1 205.1,112.1 205.3,113.1 205.2,114.1 205.3,115.1 205.6,116.1 205.9,117.1 205.9,118.1 205.3,119.1 205.2,120.1 205.6,121.1 206.3,122.1 206.6,123.1 206.5,124.1 206.4,125.1 206.3,126.1 206.4,127.1 206.6,128.1 206.4,129.1 206.3,130.1 206.3,131.1 206.1,132.1 206.0,133.1 206.2,134.1 206.5,135.1 206.5,136.1 206.4,137.1 206.7,138.1 206.9,139.1 206.4,140.1 206.3,141.1 206.9,142.1 207.0,143.1 206.6,144.1 206.7,145.1 207.2,146.1 207.3,147.1 207.1,148.1 206.9,149.1 206.9,150.1 206.6,151.1 206.8,152.1 207.1,153.1 207.1,154.1 207.0,155.1 206.8,156.1 206.8,157.1 207.3,158.1 207.4,159.1 207.0,160.1 206.9,161.1 206.8,162.1 206.8,163.1 206.9,164.1 206.9,165.1 207.1,166.1 207.4,167.1 207.5,168.1 207.3,169.1 207.3,170.1 207.2,171.1 207.1,171.5 219.5,171.5 219.4,171.1 219.3,170.1 219.3,169.1 219.1,168.1 219.2,167.1 219.5,166.1 219.7,165.1 219.7,164.1 219.8,163.1 219.8,162.1 219.7,161.1 219.6,160.1 219.2,159.1 219.3,158.1 219.8,157.1 219.8,156.1 219.6,155.1 219.5,154.1 219.5,153.1 219.8,152.1 220.0,151.1 219.7,150.1 219.7,149.1 219.5,148.1 219.3,147.1 219.4,146.1 219.9,145.1 220.0,144.1 219.6,143.1 219.7,142.1 220.3,141.1 220.2,140.1 219.7,139.1 219.9,138.1 220.2,137.1 220.1,136.1 220.1,135.1 220.4,134.1 220.6,133.1 220.5,132.1 220.3,131.1 220.3,130.1 220.2,129.1 220.0,128.1 220.2,127.1 220.3,126.1 220.2,125.1 220.1,124.1 220.0,123.1 220.3,122.1 221.0,121.1 221.4,120.1 221.3,119.1 220.7,118.1 220.7,117.1 221.0,116.1 221.3,115.1 221.4,114.1 221.3,113.1 221.5,112.1 221.6,111.1 221.4,110.1 221.4,109.1 221.8,108.1 221.7,107.1 221.2,106.1 221.1,105.1 221.5,104.1 222.2,103.1 222.7,102.1 222.7,101.1 222.6,100.1 222.1,99.1 222.0,98.1 222.2,97.1 221.8,96.1" fill="#ee3236" filter="url(#bl1)"/><polygon points="207.4,96.1 207.2,97.1 207.3,98.1 207.2,99.1 206.9,100.1 206.8,101.1 206.9,102.1 207.2,103.1 207.7,104.1 208.0,105.1 207.9,106.1 207.6,107.1 207.5,108.1 207.7,109.1 207.8,110.1 207.6,111.1 207.7,112.1 207.8,113.1 207.8,114.1 207.9,115.1 208.0,116.1 208.3,117.1 208.2,118.1 207.9,119.1 207.8,120.1 208.1,121.1 208.5,122.1 208.7,123.1 208.7,124.1 208.6,125.1 208.6,126.1 208.6,127.1 208.8,128.1 208.6,129.1 208.5,130.1 208.5,131.1 208.4,132.1 208.4,133.1 208.5,134.1 208.7,135.1 208.7,136.1 208.6,137.1 208.9,138.1 209.0,139.1 208.6,140.1 208.6,141.1 209.0,142.1 209.0,143.1 208.8,144.1 208.9,145.1 209.2,146.1 209.3,147.1 209.2,148.1 209.0,149.1 209.0,150.1 208.8,151.1 208.9,152.1 209.2,153.1 209.1,154.1 209.1,155.1 208.9,156.1 209.0,157.1 209.3,158.1 209.3,159.1 209.1,160.1 209.0,161.1 209.0,162.1 209.0,163.1 209.0,164.1 209.0,165.1 209.1,166.1 209.4,167.1 209.5,168.1 209.3,169.1 209.3,170.1 209.2,171.1 209.2,171.5 217.4,171.5 217.4,171.1 217.3,170.1 217.3,169.1 217.1,168.1 217.2,167.1 217.5,166.1 217.6,165.1 217.6,164.1 217.6,163.1 217.6,162.1 217.6,161.1 217.5,160.1 217.3,159.1 217.3,158.1 217.6,157.1 217.7,156.1 217.5,155.1 217.5,154.1 217.4,153.1 217.7,152.1 217.8,151.1 217.6,150.1 217.6,149.1 217.4,148.1 217.3,147.1 217.4,146.1 217.7,145.1 217.8,144.1 217.6,143.1 217.6,142.1 218.0,141.1 218.0,140.1 217.6,139.1 217.7,138.1 218.0,137.1 217.9,136.1 217.9,135.1 218.1,134.1 218.2,133.1 218.2,132.1 218.1,131.1 218.1,130.1 218.0,129.1 217.8,128.1 218.0,127.1 218.0,126.1 218.0,125.1 217.9,124.1 217.9,123.1 218.1,122.1 218.5,121.1 218.8,120.1 218.7,119.1 218.4,118.1 218.3,117.1 218.6,116.1 218.7,115.1 218.8,114.1 218.8,113.1 218.9,112.1 219.0,111.1 218.8,110.1 218.9,109.1 219.1,108.1 219.0,107.1 218.7,106.1 218.6,105.1 218.9,104.1 219.4,103.1 219.7,102.1 219.8,101.1 219.7,100.1 219.4,99.1 219.3,98.1 219.4,97.1 219.2,96.1" fill="#e2000f" filter="url(#bl0)"/><rect x="187.5" y="97.60" width="51.0" height="1.0" fill="#e87070" opacity="0.00"/><rect x="187.5" y="98.60" width="51.0" height="1.2" fill="#ffffff" opacity="0.02"/><rect x="187.5" y="99.80" width="51.0" height="1.0" fill="#ffffff" opacity="0.08"/><rect x="187.5" y="100.80" width="51.0" height="0.8" fill="#ffffff" opacity="0.02"/><rect x="187.5" y="101.60" width="51.0" height="1.6" fill="#e87070" opacity="0.01"/><rect x="187.5" y="103.20" width="51.0" height="1.2" fill="#e87070" opacity="0.01"/><rect x="187.5" y="104.40" width="51.0" height="1.6" fill="#ffffff" opacity="0.09"/><rect x="187.5" y="106.00" width="51.0" height="1.0" fill="#e87070" opacity="0.00"/><rect x="187.5" y="107.00" width="51.0" height="1.6" fill="#e87070" opacity="0.01"/><rect x="187.5" y="108.60" width="51.0" height="1.2" fill="#ffffff" opacity="0.10"/><rect x="187.5" y="109.80" width="51.0" height="1.0" fill="#ffffff" opacity="0.08"/><rect x="187.5" y="110.80" width="51.0" height="1.2" fill="#ffffff" opacity="0.09"/><rect x="187.5" y="112.00" width="51.0" height="1.6" fill="#ffffff" opacity="0.11"/><rect x="187.5" y="113.60" width="51.0" height="1.0" fill="#ffffff" opacity="0.08"/><rect x="187.5" y="114.60" width="51.0" height="1.6" fill="#ffffff" opacity="0.12"/><rect x="187.5" y="116.20" width="51.0" height="1.2" fill="#ffffff" opacity="0.00"/><rect x="187.5" y="117.40" width="51.0" height="1.0" fill="#ffffff" opacity="0.01"/><rect x="187.5" y="118.40" width="51.0" height="1.2" fill="#e87070" opacity="0.01"/><rect x="187.5" y="119.60" width="51.0" height="1.2" fill="#ffffff" opacity="0.06"/><rect x="187.5" y="120.80" width="51.0" height="1.0" fill="#ffffff" opacity="0.05"/><rect x="187.5" y="121.80" width="51.0" height="1.2" fill="#e87070" opacity="0.02"/><rect x="187.5" y="123.00" width="51.0" height="0.8" fill="#ffffff" opacity="0.01"/><rect x="187.5" y="123.80" width="51.0" height="1.6" fill="#e87070" opacity="0.01"/><rect x="187.5" y="125.40" width="51.0" height="1.2" fill="#e87070" opacity="0.07"/><rect x="187.5" y="126.60" width="51.0" height="1.2" fill="#ffffff" opacity="0.02"/><rect x="187.5" y="127.80" width="51.0" height="1.6" fill="#e87070" opacity="0.03"/><rect x="187.5" y="129.40" width="51.0" height="1.2" fill="#ffffff" opacity="0.00"/><rect x="187.5" y="130.60" width="51.0" height="1.2" fill="#e87070" opacity="0.04"/><rect x="187.5" y="131.80" width="51.0" height="1.2" fill="#ffffff" opacity="0.09"/><rect x="187.5" y="133.00" width="51.0" height="1.0" fill="#ffffff" opacity="0.10"/><rect x="187.5" y="134.00" width="51.0" height="1.6" fill="#ffffff" opacity="0.12"/><rect x="187.5" y="135.60" width="51.0" height="1.2" fill="#e87070" opacity="0.01"/><rect x="187.5" y="136.80" width="51.0" height="1.0" fill="#e87070" opacity="0.01"/><rect x="187.5" y="137.80" width="51.0" height="1.2" fill="#ffffff" opacity="0.10"/><rect x="187.5" y="139.00" width="51.0" height="1.6" fill="#ffffff" opacity="0.03"/><rect x="187.5" y="140.60" width="51.0" height="1.2" fill="#ffffff" opacity="0.03"/><rect x="187.5" y="141.80" width="51.0" height="1.2" fill="#ffffff" opacity="0.12"/><rect x="187.5" y="143.00" width="51.0" height="1.0" fill="#ffffff" opacity="0.01"/><rect x="187.5" y="144.00" width="51.0" height="1.6" fill="#ffffff" opacity="0.13"/><rect x="187.5" y="145.60" width="51.0" height="1.6" fill="#e87070" opacity="0.03"/><rect x="187.5" y="147.20" width="51.0" height="1.0" fill="#e87070" opacity="0.07"/><rect x="187.5" y="148.20" width="51.0" height="0.8" fill="#ffffff" opacity="0.02"/><rect x="187.5" y="149.00" width="51.0" height="1.0" fill="#e87070" opacity="0.01"/><rect x="187.5" y="150.00" width="51.0" height="1.6" fill="#ffffff" opacity="0.01"/><rect x="187.5" y="151.60" width="51.0" height="1.6" fill="#ffffff" opacity="0.07"/><rect x="187.5" y="153.20" width="51.0" height="1.2" fill="#e87070" opacity="0.00"/><rect x="187.5" y="154.40" width="51.0" height="1.6" fill="#ffffff" opacity="0.02"/><rect x="187.5" y="156.00" width="51.0" height="0.8" fill="#ffffff" opacity="0.07"/><rect x="187.5" y="156.80" width="51.0" height="1.2" fill="#ffffff" opacity="0.01"/><rect x="187.5" y="158.00" width="51.0" height="1.0" fill="#ffffff" opacity="0.13"/><rect x="187.5" y="159.00" width="51.0" height="1.6" fill="#ffffff" opacity="0.04"/><rect x="187.5" y="160.60" width="51.0" height="1.2" fill="#ffffff" opacity="0.08"/><rect x="187.5" y="161.80" width="51.0" height="0.8" fill="#e87070" opacity="0.04"/><rect x="187.5" y="162.60" width="51.0" height="1.6" fill="#e87070" opacity="0.03"/><rect x="187.5" y="164.20" width="51.0" height="1.0" fill="#e87070" opacity="0.07"/><rect x="187.5" y="165.20" width="51.0" height="0.8" fill="#ffffff" opacity="0.11"/><rect x="187.5" y="166.00" width="51.0" height="1.2" fill="#ffffff" opacity="0.09"/><rect x="187.5" y="167.20" width="51.0" height="1.6" fill="#ffffff" opacity="0.13"/><rect x="187.5" y="168.80" width="51.0" height="1.0" fill="#ffffff" opacity="0.04"/><rect x="187.5" y="169.80" width="51.0" height="0.8" fill="#ffffff" opacity="0.12"/></g><g clip-path="url(#c2_4)"><rect x="187.5" y="170.0" width="51.0" height="137.39999999999998" fill="#f9d4cc"/><polygon points="198.9,168.5 199.1,172.5 199.4,176.5 199.6,180.5 199.8,184.5 200.0,188.5 200.2,192.5 200.4,196.5 200.6,200.5 200.8,204.5 201.0,208.5 201.2,212.5 201.4,216.5 201.6,220.5 201.7,224.5 201.9,228.5 202.1,232.5 202.2,236.5 202.4,240.5 202.5,244.5 202.7,248.5 202.8,252.5 202.9,256.5 203.1,260.5 203.2,264.5 203.3,268.5 203.4,272.5 203.5,276.5 203.6,280.5 203.7,284.5 203.8,288.5 203.8,292.5 203.9,296.5 203.9,300.5 204.0,304.5 204.0,308.5 204.0,308.9 222.6,308.9 222.6,308.5 222.6,304.5 222.7,300.5 222.7,296.5 222.8,292.5 222.8,288.5 222.9,284.5 223.0,280.5 223.1,276.5 223.2,272.5 223.3,268.5 223.4,264.5 223.5,260.5 223.7,256.5 223.8,252.5 223.9,248.5 224.1,244.5 224.2,240.5 224.4,236.5 224.5,232.5 224.7,228.5 224.9,224.5 225.0,220.5 225.2,216.5 225.4,212.5 225.6,208.5 225.8,204.5 226.0,200.5 226.2,196.5 226.4,192.5 226.6,188.5 226.8,184.5 227.0,180.5 227.2,176.5 227.5,172.5 227.7,168.5" fill="#f3968a" opacity="0.85" filter="url(#bl3)"/><polygon points="203.8,168.5 204.3,169.5 204.6,170.5 204.3,171.5 204.3,172.5 204.3,173.5 204.4,174.5 204.3,175.5 204.4,176.5 204.7,177.5 205.1,178.5 204.9,179.5 204.3,180.5 204.5,181.5 204.8,182.5 204.6,183.5 205.0,184.5 205.3,185.5 205.1,186.5 205.0,187.5 205.0,188.5 205.0,189.5 205.1,190.5 205.2,191.5 205.3,192.5 205.2,193.5 205.2,194.5 205.5,195.5 205.6,196.5 205.6,197.5 205.3,198.5 204.9,199.5 204.9,200.5 204.9,201.5 205.2,202.5 205.4,203.5 205.0,204.5 205.2,205.5 205.6,206.5 205.4,207.5 205.6,208.5 205.7,209.5 205.3,210.5 205.2,211.5 205.5,212.5 205.7,213.5 205.8,214.5 206.1,215.5 206.3,216.5 206.2,217.5 206.3,218.5 206.1,219.5 206.2,220.5 206.1,221.5 205.9,222.5 205.8,223.5 205.6,224.5 205.6,225.5 205.6,226.5 205.7,227.5 205.6,228.5 205.8,229.5 206.2,230.5 206.2,231.5 206.1,232.5 206.0,233.5 205.9,234.5 206.1,235.5 206.6,236.5 206.5,237.5 206.0,238.5 205.8,239.5 206.2,240.5 206.7,241.5 206.7,242.5 206.8,243.5 206.5,244.5 206.4,245.5 206.6,246.5 206.3,247.5 206.4,248.5 206.9,249.5 207.0,250.5 206.7,251.5 206.4,252.5 206.7,253.5 207.2,254.5 207.5,255.5 207.2,256.5 206.9,257.5 206.9,258.5 207.0,259.5 207.0,260.5 206.9,261.5 207.1,262.5 207.1,263.5 206.8,264.5 206.7,265.5 206.7,266.5 206.5,267.5 206.8,268.5 207.3,269.5 207.5,270.5 207.4,271.5 207.1,272.5 206.7,273.5 207.0,274.5 207.5,275.5 207.5,276.5 207.0,277.5 207.0,278.5 207.2,279.5 207.4,280.5 207.4,281.5 207.2,282.5 207.1,283.5 207.0,284.5 207.2,285.5 207.6,286.5 207.7,287.5 207.5,288.5 207.1,289.5 207.3,290.5 207.8,291.5 207.8,292.5 207.6,293.5 207.5,294.5 207.4,295.5 207.5,296.5 207.8,297.5 207.8,298.5 207.6,299.5 207.7,300.5 207.9,301.5 207.5,302.5 207.3,303.5 207.8,304.5 207.8,305.5 207.6,306.5 207.7,307.5 207.7,308.5 207.7,308.9 218.9,308.9 218.9,308.5 218.9,307.5 219.0,306.5 218.8,305.5 218.8,304.5 219.3,303.5 219.1,302.5 218.7,301.5 218.9,300.5 219.0,299.5 218.8,298.5 218.8,297.5 219.1,296.5 219.2,295.5 219.1,294.5 219.0,293.5 218.8,292.5 218.8,291.5 219.3,290.5 219.5,289.5 219.1,288.5 218.9,287.5 219.0,286.5 219.4,285.5 219.6,284.5 219.5,283.5 219.4,282.5 219.2,281.5 219.2,280.5 219.4,279.5 219.6,278.5 219.6,277.5 219.1,276.5 219.1,275.5 219.6,274.5 219.9,273.5 219.5,272.5 219.2,271.5 219.1,270.5 219.3,269.5 219.8,268.5 220.1,267.5 219.9,266.5 219.9,265.5 219.8,264.5 219.5,263.5 219.5,262.5 219.7,261.5 219.6,260.5 219.6,259.5 219.7,258.5 219.7,257.5 219.4,256.5 219.1,255.5 219.4,254.5 219.9,253.5 220.2,252.5 219.9,251.5 219.6,250.5 219.7,249.5 220.2,248.5 220.3,247.5 220.0,246.5 220.2,245.5 220.1,244.5 219.8,243.5 219.9,242.5 219.9,241.5 220.4,240.5 220.8,239.5 220.6,238.5 220.1,237.5 220.0,236.5 220.5,235.5 220.7,234.5 220.6,233.5 220.5,232.5 220.4,231.5 220.4,230.5 220.8,229.5 221.0,228.5 220.9,227.5 221.0,226.5 221.0,225.5 221.0,224.5 220.8,223.5 220.7,222.5 220.5,221.5 220.4,220.5 220.5,219.5 220.3,218.5 220.4,217.5 220.3,216.5 220.5,215.5 220.8,214.5 220.9,213.5 221.1,212.5 221.4,211.5 221.3,210.5 220.9,209.5 221.0,208.5 221.2,207.5 221.0,206.5 221.4,205.5 221.6,204.5 221.2,203.5 221.4,202.5 221.7,201.5 221.7,200.5 221.7,199.5 221.3,198.5 221.0,197.5 221.0,196.5 221.1,195.5 221.4,194.5 221.4,193.5 221.3,192.5 221.4,191.5 221.5,190.5 221.6,189.5 221.6,188.5 221.6,187.5 221.5,186.5 221.3,185.5 221.6,184.5 222.0,183.5 221.8,182.5 222.1,181.5 222.3,180.5 221.7,179.5 221.5,178.5 221.9,177.5 222.2,176.5 222.3,175.5 222.2,174.5 222.3,173.5 222.3,172.5 222.3,171.5 222.0,170.5 222.3,169.5 222.8,168.5" fill="#ee3236" filter="url(#bl1)"/><polygon points="206.7,168.5 207.1,169.5 207.2,170.5 207.1,171.5 207.0,172.5 207.1,173.5 207.1,174.5 207.1,175.5 207.1,176.5 207.4,177.5 207.6,178.5 207.4,179.5 207.1,180.5 207.2,181.5 207.4,182.5 207.3,183.5 207.5,184.5 207.7,185.5 207.6,186.5 207.6,187.5 207.5,188.5 207.6,189.5 207.7,190.5 207.7,191.5 207.8,192.5 207.7,193.5 207.7,194.5 207.9,195.5 208.0,196.5 208.0,197.5 207.8,198.5 207.5,199.5 207.6,200.5 207.6,201.5 207.7,202.5 207.9,203.5 207.6,204.5 207.7,205.5 208.0,206.5 207.9,207.5 208.0,208.5 208.1,209.5 207.8,210.5 207.8,211.5 208.0,212.5 208.2,213.5 208.2,214.5 208.4,215.5 208.5,216.5 208.5,217.5 208.5,218.5 208.4,219.5 208.5,220.5 208.4,221.5 208.3,222.5 208.2,223.5 208.1,224.5 208.1,225.5 208.1,226.5 208.1,227.5 208.1,228.5 208.2,229.5 208.5,230.5 208.5,231.5 208.5,232.5 208.4,233.5 208.3,234.5 208.5,235.5 208.8,236.5 208.7,237.5 208.4,238.5 208.3,239.5 208.6,240.5 208.9,241.5 208.9,242.5 208.9,243.5 208.8,244.5 208.7,245.5 208.8,246.5 208.6,247.5 208.7,248.5 209.0,249.5 209.1,250.5 208.9,251.5 208.7,252.5 208.9,253.5 209.2,254.5 209.4,255.5 209.2,256.5 209.0,257.5 209.1,258.5 209.1,259.5 209.1,260.5 209.0,261.5 209.2,262.5 209.2,263.5 209.0,264.5 208.9,265.5 208.9,266.5 208.8,267.5 209.0,268.5 209.3,269.5 209.5,270.5 209.4,271.5 209.2,272.5 209.0,273.5 209.1,274.5 209.5,275.5 209.4,276.5 209.1,277.5 209.1,278.5 209.3,279.5 209.4,280.5 209.4,281.5 209.3,282.5 209.2,283.5 209.2,284.5 209.3,285.5 209.6,286.5 209.6,287.5 209.5,288.5 209.3,289.5 209.4,290.5 209.7,291.5 209.7,292.5 209.6,293.5 209.5,294.5 209.4,295.5 209.5,296.5 209.7,297.5 209.7,298.5 209.6,299.5 209.6,300.5 209.7,301.5 209.5,302.5 209.4,303.5 209.7,304.5 209.7,305.5 209.6,306.5 209.6,307.5 209.7,308.5 209.6,308.9 217.0,308.9 216.9,308.5 217.0,307.5 217.0,306.5 216.9,305.5 216.9,304.5 217.2,303.5 217.1,302.5 216.9,301.5 217.0,300.5 217.0,299.5 216.9,298.5 216.9,297.5 217.1,296.5 217.2,295.5 217.1,294.5 217.0,293.5 216.9,292.5 216.9,291.5 217.2,290.5 217.3,289.5 217.1,288.5 217.0,287.5 217.0,286.5 217.3,285.5 217.4,284.5 217.4,283.5 217.3,282.5 217.2,281.5 217.2,280.5 217.3,279.5 217.5,278.5 217.5,277.5 217.2,276.5 217.1,275.5 217.5,274.5 217.6,273.5 217.4,272.5 217.2,271.5 217.1,270.5 217.3,269.5 217.6,268.5 217.8,267.5 217.7,266.5 217.7,265.5 217.6,264.5 217.4,263.5 217.4,262.5 217.6,261.5 217.5,260.5 217.5,259.5 217.5,258.5 217.6,257.5 217.4,256.5 217.2,255.5 217.4,254.5 217.7,253.5 217.9,252.5 217.7,251.5 217.5,250.5 217.6,249.5 217.9,248.5 218.0,247.5 217.8,246.5 217.9,245.5 217.8,244.5 217.7,243.5 217.7,242.5 217.7,241.5 218.0,240.5 218.3,239.5 218.2,238.5 217.9,237.5 217.8,236.5 218.1,235.5 218.3,234.5 218.2,233.5 218.1,232.5 218.1,231.5 218.1,230.5 218.4,229.5 218.5,228.5 218.5,227.5 218.5,226.5 218.5,225.5 218.5,224.5 218.4,223.5 218.3,222.5 218.2,221.5 218.1,220.5 218.2,219.5 218.1,218.5 218.1,217.5 218.1,216.5 218.2,215.5 218.4,214.5 218.4,213.5 218.6,212.5 218.8,211.5 218.8,210.5 218.5,209.5 218.6,208.5 218.7,207.5 218.6,206.5 218.9,205.5 219.0,204.5 218.7,203.5 218.9,202.5 219.0,201.5 219.0,200.5 219.1,199.5 218.8,198.5 218.6,197.5 218.6,196.5 218.7,195.5 218.9,194.5 218.9,193.5 218.8,192.5 218.9,191.5 218.9,190.5 219.0,189.5 219.1,188.5 219.0,187.5 219.0,186.5 218.9,185.5 219.1,184.5 219.3,183.5 219.2,182.5 219.4,181.5 219.5,180.5 219.2,179.5 219.0,178.5 219.2,177.5 219.5,176.5 219.5,175.5 219.5,174.5 219.5,173.5 219.6,172.5 219.5,171.5 219.4,170.5 219.5,169.5 219.9,168.5" fill="#e2000f" filter="url(#bl0)"/><rect x="187.5" y="170.00" width="51.0" height="1.0" fill="#ffffff" opacity="0.14"/><rect x="187.5" y="171.00" width="51.0" height="0.8" fill="#ffffff" opacity="0.12"/><rect x="187.5" y="171.80" width="51.0" height="0.8" fill="#ffffff" opacity="0.05"/><rect x="187.5" y="172.60" width="51.0" height="1.0" fill="#ffffff" opacity="0.12"/><rect x="187.5" y="173.60" width="51.0" height="0.8" fill="#ffffff" opacity="0.04"/><rect x="187.5" y="174.40" width="51.0" height="1.2" fill="#e87070" opacity="0.04"/><rect x="187.5" y="175.60" width="51.0" height="1.0" fill="#e87070" opacity="0.02"/><rect x="187.5" y="176.60" width="51.0" height="1.6" fill="#e87070" opacity="0.02"/><rect x="187.5" y="178.20" width="51.0" height="1.2" fill="#ffffff" opacity="0.09"/><rect x="187.5" y="179.40" width="51.0" height="1.2" fill="#ffffff" opacity="0.13"/><rect x="187.5" y="180.60" width="51.0" height="1.2" fill="#ffffff" opacity="0.02"/><rect x="187.5" y="181.80" width="51.0" height="0.8" fill="#e87070" opacity="0.06"/><rect x="187.5" y="182.60" width="51.0" height="1.6" fill="#ffffff" opacity="0.06"/><rect x="187.5" y="184.20" width="51.0" height="1.2" fill="#e87070" opacity="0.07"/><rect x="187.5" y="185.40" width="51.0" height="0.8" fill="#e87070" opacity="0.01"/><rect x="187.5" y="186.20" width="51.0" height="1.2" fill="#e87070" opacity="0.02"/><rect x="187.5" y="187.40" width="51.0" height="1.2" fill="#ffffff" opacity="0.01"/><rect x="187.5" y="188.60" width="51.0" height="0.8" fill="#ffffff" opacity="0.08"/><rect x="187.5" y="189.40" width="51.0" height="1.2" fill="#ffffff" opacity="0.14"/><rect x="187.5" y="190.60" width="51.0" height="1.6" fill="#ffffff" opacity="0.10"/><rect x="187.5" y="192.20" width="51.0" height="1.6" fill="#ffffff" opacity="0.04"/><rect x="187.5" y="193.80" width="51.0" height="1.2" fill="#e87070" opacity="0.06"/><rect x="187.5" y="195.00" width="51.0" height="0.8" fill="#e87070" opacity="0.05"/><rect x="187.5" y="195.80" width="51.0" height="1.2" fill="#ffffff" opacity="0.03"/><rect x="187.5" y="197.00" width="51.0" height="1.0" fill="#ffffff" opacity="0.01"/><rect x="187.5" y="198.00" width="51.0" height="1.0" fill="#ffffff" opacity="0.12"/><rect x="187.5" y="199.00" width="51.0" height="0.8" fill="#e87070" opacity="0.01"/><rect x="187.5" y="199.80" width="51.0" height="0.8" fill="#e87070" opacity="0.07"/><rect x="187.5" y="200.60" width="51.0" height="0.8" fill="#e87070" opacity="0.01"/><rect x="187.5" y="201.40" width="51.0" height="1.2" fill="#ffffff" opacity="0.10"/><rect x="187.5" y="202.60" width="51.0" height="1.0" fill="#e87070" opacity="0.02"/><rect x="187.5" y="203.60" width="51.0" height="0.8" fill="#ffffff" opacity="0.09"/><rect x="187.5" y="204.40" width="51.0" height="1.0" fill="#e87070" opacity="0.02"/><rect x="187.5" y="205.40" width="51.0" height="0.8" fill="#ffffff" opacity="0.09"/><rect x="187.5" y="206.20" width="51.0" height="1.2" fill="#ffffff" opacity="0.02"/><rect x="187.5" y="207.40" width="51.0" height="0.8" fill="#e87070" opacity="0.01"/><rect x="187.5" y="208.20" width="51.0" height="1.2" fill="#e87070" opacity="0.05"/><rect x="187.5" y="209.40" width="51.0" height="1.6" fill="#ffffff" opacity="0.04"/><rect x="187.5" y="211.00" width="51.0" height="0.8" fill="#ffffff" opacity="0.00"/><rect x="187.5" y="211.80" width="51.0" height="1.2" fill="#e87070" opacity="0.00"/><rect x="187.5" y="213.00" width="51.0" height="1.2" fill="#ffffff" opacity="0.02"/><rect x="187.5" y="214.20" width="51.0" height="1.0" fill="#e87070" opacity="0.01"/><rect x="187.5" y="215.20" width="51.0" height="0.8" fill="#ffffff" opacity="0.05"/><rect x="187.5" y="216.00" width="51.0" height="1.6" fill="#e87070" opacity="0.02"/><rect x="187.5" y="217.60" width="51.0" height="1.0" fill="#e87070" opacity="0.05"/><rect x="187.5" y="218.60" width="51.0" height="1.2" fill="#e87070" opacity="0.02"/><rect x="187.5" y="219.80" width="51.0" height="1.2" fill="#ffffff" opacity="0.11"/><rect x="187.5" y="221.00" width="51.0" height="0.8" fill="#ffffff" opacity="0.11"/><rect x="187.5" y="221.80" width="51.0" height="1.6" fill="#ffffff" opacity="0.08"/><rect x="187.5" y="223.40" width="51.0" height="1.2" fill="#ffffff" opacity="0.02"/><rect x="187.5" y="224.60" width="51.0" height="1.6" fill="#ffffff" opacity="0.01"/><rect x="187.5" y="226.20" width="51.0" height="1.0" fill="#ffffff" opacity="0.14"/><rect x="187.5" y="227.20" width="51.0" height="1.6" fill="#ffffff" opacity="0.11"/><rect x="187.5" y="228.80" width="51.0" height="0.8" fill="#ffffff" opacity="0.09"/><rect x="187.5" y="229.60" width="51.0" height="0.8" fill="#ffffff" opacity="0.08"/><rect x="187.5" y="230.40" width="51.0" height="1.0" fill="#e87070" opacity="0.02"/><rect x="187.5" y="231.40" width="51.0" height="1.2" fill="#ffffff" opacity="0.10"/><rect x="187.5" y="232.60" width="51.0" height="1.0" fill="#ffffff" opacity="0.07"/><rect x="187.5" y="233.60" width="51.0" height="1.0" fill="#ffffff" opacity="0.06"/><rect x="187.5" y="234.60" width="51.0" height="1.0" fill="#ffffff" opacity="0.09"/><rect x="187.5" y="235.60" width="51.0" height="1.6" fill="#ffffff" opacity="0.06"/><rect x="187.5" y="237.20" width="51.0" height="0.8" fill="#e87070" opacity="0.01"/><rect x="187.5" y="238.00" width="51.0" height="0.8" fill="#e87070" opacity="0.00"/><rect x="187.5" y="238.80" width="51.0" height="1.6" fill="#ffffff" opacity="0.09"/><rect x="187.5" y="240.40" width="51.0" height="0.8" fill="#ffffff" opacity="0.03"/><rect x="187.5" y="241.20" width="51.0" height="1.6" fill="#ffffff" opacity="0.13"/><rect x="187.5" y="242.80" width="51.0" height="1.0" fill="#ffffff" opacity="0.00"/><rect x="187.5" y="243.80" width="51.0" height="1.2" fill="#ffffff" opacity="0.10"/><rect x="187.5" y="245.00" width="51.0" height="1.0" fill="#ffffff" opacity="0.05"/><rect x="187.5" y="246.00" width="51.0" height="1.6" fill="#ffffff" opacity="0.09"/><rect x="187.5" y="247.60" width="51.0" height="1.6" fill="#e87070" opacity="0.02"/><rect x="187.5" y="249.20" width="51.0" height="1.0" fill="#ffffff" opacity="0.07"/><rect x="187.5" y="250.20" width="51.0" height="1.0" fill="#ffffff" opacity="0.12"/><rect x="187.5" y="251.20" width="51.0" height="0.8" fill="#ffffff" opacity="0.05"/><rect x="187.5" y="252.00" width="51.0" height="1.0" fill="#e87070" opacity="0.01"/><rect x="187.5" y="253.00" width="51.0" height="1.6" fill="#ffffff" opacity="0.03"/><rect x="187.5" y="254.60" width="51.0" height="1.0" fill="#e87070" opacity="0.06"/><rect x="187.5" y="255.60" width="51.0" height="1.2" fill="#ffffff" opacity="0.01"/><rect x="187.5" y="256.80" width="51.0" height="1.0" fill="#ffffff" opacity="0.06"/><rect x="187.5" y="257.80" width="51.0" height="1.2" fill="#ffffff" opacity="0.10"/><rect x="187.5" y="259.00" width="51.0" height="1.0" fill="#ffffff" opacity="0.14"/><rect x="187.5" y="260.00" width="51.0" height="1.0" fill="#ffffff" opacity="0.13"/><rect x="187.5" y="261.00" width="51.0" height="1.2" fill="#ffffff" opacity="0.01"/><rect x="187.5" y="262.20" width="51.0" height="1.6" fill="#ffffff" opacity="0.10"/><rect x="187.5" y="263.80" width="51.0" height="1.6" fill="#e87070" opacity="0.02"/><rect x="187.5" y="265.40" width="51.0" height="1.6" fill="#ffffff" opacity="0.12"/><rect x="187.5" y="267.00" width="51.0" height="1.0" fill="#e87070" opacity="0.01"/><rect x="187.5" y="268.00" width="51.0" height="0.8" fill="#e87070" opacity="0.00"/><rect x="187.5" y="268.80" width="51.0" height="1.0" fill="#e87070" opacity="0.04"/><rect x="187.5" y="269.80" width="51.0" height="0.8" fill="#ffffff" opacity="0.10"/><rect x="187.5" y="270.60" width="51.0" height="1.2" fill="#ffffff" opacity="0.01"/><rect x="187.5" y="271.80" width="51.0" height="0.8" fill="#ffffff" opacity="0.13"/><rect x="187.5" y="272.60" width="51.0" height="1.6" fill="#ffffff" opacity="0.00"/><rect x="187.5" y="274.20" width="51.0" height="1.0" fill="#e87070" opacity="0.04"/><rect x="187.5" y="275.20" width="51.0" height="0.8" fill="#ffffff" opacity="0.07"/><rect x="187.5" y="276.00" width="51.0" height="0.8" fill="#ffffff" opacity="0.05"/><rect x="187.5" y="276.80" width="51.0" height="1.0" fill="#ffffff" opacity="0.10"/><rect x="187.5" y="277.80" width="51.0" height="1.0" fill="#ffffff" opacity="0.00"/><rect x="187.5" y="278.80" width="51.0" height="0.8" fill="#ffffff" opacity="0.14"/><rect x="187.5" y="279.60" width="51.0" height="0.8" fill="#e87070" opacity="0.03"/><rect x="187.5" y="280.40" width="51.0" height="1.2" fill="#ffffff" opacity="0.04"/><rect x="187.5" y="281.60" width="51.0" height="0.8" fill="#e87070" opacity="0.05"/><rect x="187.5" y="282.40" width="51.0" height="1.2" fill="#e87070" opacity="0.04"/><rect x="187.5" y="283.60" width="51.0" height="1.6" fill="#e87070" opacity="0.07"/><rect x="187.5" y="285.20" width="51.0" height="1.2" fill="#ffffff" opacity="0.06"/><rect x="187.5" y="286.40" width="51.0" height="1.6" fill="#ffffff" opacity="0.05"/><rect x="187.5" y="288.00" width="51.0" height="1.6" fill="#ffffff" opacity="0.11"/><rect x="187.5" y="289.60" width="51.0" height="1.0" fill="#e87070" opacity="0.06"/><rect x="187.5" y="290.60" width="51.0" height="0.8" fill="#e87070" opacity="0.02"/><rect x="187.5" y="291.40" width="51.0" height="1.2" fill="#e87070" opacity="0.05"/><rect x="187.5" y="292.60" width="51.0" height="1.6" fill="#ffffff" opacity="0.14"/><rect x="187.5" y="294.20" width="51.0" height="0.8" fill="#e87070" opacity="0.01"/><rect x="187.5" y="295.00" width="51.0" height="0.8" fill="#ffffff" opacity="0.13"/><rect x="187.5" y="295.80" width="51.0" height="1.6" fill="#ffffff" opacity="0.10"/><rect x="187.5" y="297.40" width="51.0" height="1.6" fill="#ffffff" opacity="0.08"/><rect x="187.5" y="299.00" width="51.0" height="1.6" fill="#ffffff" opacity="0.14"/><rect x="187.5" y="300.60" width="51.0" height="1.6" fill="#ffffff" opacity="0.10"/><rect x="187.5" y="302.20" width="51.0" height="1.2" fill="#ffffff" opacity="0.08"/><rect x="187.5" y="303.40" width="51.0" height="1.0" fill="#e87070" opacity="0.06"/><rect x="187.5" y="304.40" width="51.0" height="1.6" fill="#ffffff" opacity="0.05"/><rect x="187.5" y="306.00" width="51.0" height="1.6" fill="#ffffff" opacity="0.14"/></g><g clip-path="url(#c2_5)"><rect x="187.5" y="307.4" width="51.0" height="19.80000000000001" fill="#f9d4cc"/><polygon points="200.0,305.9 201.0,309.9 201.9,313.9 202.7,317.9 203.3,321.9 203.8,325.9 203.9,328.7 222.7,328.7 222.8,325.9 223.3,321.9 223.9,317.9 224.7,313.9 225.6,309.9 226.6,305.9" fill="#f3968a" opacity="0.85" filter="url(#bl3)"/><polygon points="204.9,305.9 205.2,306.9 205.5,307.9 205.6,308.9 205.8,309.9 206.1,310.9 206.2,311.9 206.2,312.9 206.1,313.9 206.2,314.9 206.3,315.9 206.5,316.9 206.9,317.9 207.2,318.9 207.1,319.9 206.8,320.9 206.9,321.9 207.1,322.9 207.1,323.9 207.1,324.9 207.5,325.9 207.6,326.9 207.3,327.9 207.3,328.7 219.3,328.7 219.3,327.9 219.0,326.9 219.1,325.9 219.5,324.9 219.5,323.9 219.5,322.9 219.7,321.9 219.8,320.9 219.5,319.9 219.4,318.9 219.7,317.9 220.1,316.9 220.3,315.9 220.4,314.9 220.5,313.9 220.4,312.9 220.4,311.9 220.5,310.9 220.8,309.9 221.0,308.9 221.1,307.9 221.4,306.9 221.7,305.9" fill="#ee3236" filter="url(#bl1)"/><polygon points="207.8,305.9 208.0,306.9 208.2,307.9 208.2,308.9 208.4,309.9 208.6,310.9 208.6,311.9 208.6,312.9 208.5,313.9 208.6,314.9 208.7,315.9 208.8,316.9 209.1,317.9 209.3,318.9 209.2,319.9 209.0,320.9 209.1,321.9 209.2,322.9 209.2,323.9 209.2,324.9 209.5,325.9 209.5,326.9 209.3,327.9 209.3,328.7 217.3,328.7 217.3,327.9 217.1,326.9 217.1,325.9 217.4,324.9 217.4,323.9 217.4,322.9 217.5,321.9 217.6,320.9 217.4,319.9 217.3,318.9 217.5,317.9 217.8,316.9 217.9,315.9 218.0,314.9 218.1,313.9 218.0,312.9 218.0,311.9 218.0,310.9 218.2,309.9 218.4,308.9 218.4,307.9 218.6,306.9 218.8,305.9" fill="#e2000f" filter="url(#bl0)"/><rect x="187.5" y="307.40" width="51.0" height="0.8" fill="#ffffff" opacity="0.05"/><rect x="187.5" y="308.20" width="51.0" height="1.6" fill="#ffffff" opacity="0.02"/><rect x="187.5" y="309.80" width="51.0" height="1.2" fill="#ffffff" opacity="0.05"/><rect x="187.5" y="311.00" width="51.0" height="1.2" fill="#e87070" opacity="0.05"/><rect x="187.5" y="312.20" width="51.0" height="1.2" fill="#ffffff" opacity="0.06"/><rect x="187.5" y="313.40" width="51.0" height="1.2" fill="#ffffff" opacity="0.06"/><rect x="187.5" y="314.60" width="51.0" height="0.8" fill="#ffffff" opacity="0.06"/><rect x="187.5" y="315.40" width="51.0" height="1.0" fill="#ffffff" opacity="0.11"/><rect x="187.5" y="316.40" width="51.0" height="0.8" fill="#ffffff" opacity="0.10"/><rect x="187.5" y="317.20" width="51.0" height="1.6" fill="#ffffff" opacity="0.07"/><rect x="187.5" y="318.80" width="51.0" height="1.2" fill="#ffffff" opacity="0.07"/><rect x="187.5" y="320.00" width="51.0" height="1.2" fill="#ffffff" opacity="0.00"/><rect x="187.5" y="321.20" width="51.0" height="0.8" fill="#ffffff" opacity="0.08"/><rect x="187.5" y="322.00" width="51.0" height="1.0" fill="#e87070" opacity="0.02"/><rect x="187.5" y="323.00" width="51.0" height="1.2" fill="#ffffff" opacity="0.13"/><rect x="187.5" y="324.20" width="51.0" height="1.0" fill="#ffffff" opacity="0.04"/><rect x="187.5" y="325.20" width="51.0" height="0.8" fill="#ffffff" opacity="0.07"/><rect x="187.5" y="326.00" width="51.0" height="0.8" fill="#ffffff" opacity="0.03"/><rect x="187.5" y="326.80" width="51.0" height="1.2" fill="#ffffff" opacity="0.09"/></g><rect x="187.5" y="25.5" width="51.0" height="301.7" fill="none" stroke="#6e5f5c" stroke-width="1.3"/><line x1="187.5" y1="43.8" x2="238.5" y2="43.8" stroke="#6e5f5c" stroke-width="2.1"/><line x1="187.5" y1="80.8" x2="238.5" y2="80.8" stroke="#6e5f5c" stroke-width="2.1"/><line x1="187.5" y1="97.6" x2="238.5" y2="97.6" stroke="#6e5f5c" stroke-width="2.1"/><line x1="187.5" y1="170.0" x2="238.5" y2="170.0" stroke="#6e5f5c" stroke-width="2.1"/><line x1="187.5" y1="307.4" x2="238.5" y2="307.4" stroke="#6e5f5c" stroke-width="2.1"/><g clip-path="url(#c3_0)"><rect x="244.0" y="25.5" width="51.0" height="18.299999999999997" fill="#f4b4aa"/><polygon points="251.8,24.0 252.1,28.0 252.4,32.0 252.6,36.0 252.8,40.0 252.9,44.0 252.9,45.3 284.3,45.3 284.3,44.0 284.4,40.0 284.6,36.0 284.8,32.0 285.1,28.0 285.4,24.0" fill="#f29e96" opacity="0.9" filter="url(#bl3)"/><polygon points="257.9,24.0 258.4,25.0 259.2,26.0 259.4,27.0 258.7,28.0 258.4,29.0 258.9,30.0 259.2,31.0 259.6,32.0 259.5,33.0 259.3,34.0 259.5,35.0 259.2,36.0 258.6,37.0 258.8,38.0 259.4,39.0 260.1,40.0 259.9,41.0 259.6,42.0 259.9,43.0 259.9,44.0 259.8,45.0 259.5,45.3 277.7,45.3 277.4,45.0 277.3,44.0 277.3,43.0 277.6,42.0 277.3,41.0 277.1,40.0 277.8,39.0 278.4,38.0 278.6,37.0 278.0,36.0 277.7,35.0 277.9,34.0 277.7,33.0 277.6,32.0 278.0,31.0 278.3,30.0 278.8,29.0 278.5,28.0 277.8,27.0 278.0,26.0 278.8,25.0 279.3,24.0" fill="#ec5650" filter="url(#bl2)"/><polygon points="262.3,24.0 262.6,25.0 263.1,26.0 263.2,27.0 262.8,28.0 262.6,29.0 262.9,30.0 263.1,31.0 263.3,32.0 263.3,33.0 263.2,34.0 263.3,35.0 263.1,36.0 262.8,37.0 262.9,38.0 263.3,39.0 263.7,40.0 263.6,41.0 263.4,42.0 263.6,43.0 263.6,44.0 263.5,45.0 263.4,45.3 273.8,45.3 273.7,45.0 273.6,44.0 273.6,43.0 273.8,42.0 273.6,41.0 273.5,40.0 273.9,39.0 274.3,38.0 274.4,37.0 274.1,36.0 273.9,35.0 274.0,34.0 273.9,33.0 273.9,32.0 274.1,31.0 274.3,30.0 274.6,29.0 274.4,28.0 274.0,27.0 274.1,26.0 274.6,25.0 274.9,24.0" fill="#e43030" filter="url(#bl1)"/><rect x="244.0" y="25.50" width="51.0" height="0.8" fill="#e87070" opacity="0.01"/><rect x="244.0" y="26.30" width="51.0" height="1.6" fill="#e87070" opacity="0.07"/><rect x="244.0" y="27.90" width="51.0" height="1.6" fill="#ffffff" opacity="0.06"/><rect x="244.0" y="29.50" width="51.0" height="1.0" fill="#ffffff" opacity="0.12"/><rect x="244.0" y="30.50" width="51.0" height="1.6" fill="#e87070" opacity="0.03"/><rect x="244.0" y="32.10" width="51.0" height="0.8" fill="#e87070" opacity="0.05"/><rect x="244.0" y="32.90" width="51.0" height="1.0" fill="#ffffff" opacity="0.06"/><rect x="244.0" y="33.90" width="51.0" height="1.2" fill="#ffffff" opacity="0.08"/><rect x="244.0" y="35.10" width="51.0" height="1.6" fill="#ffffff" opacity="0.02"/><rect x="244.0" y="36.70" width="51.0" height="0.8" fill="#ffffff" opacity="0.08"/><rect x="244.0" y="37.50" width="51.0" height="0.8" fill="#ffffff" opacity="0.07"/><rect x="244.0" y="38.30" width="51.0" height="1.6" fill="#e87070" opacity="0.00"/><rect x="244.0" y="39.90" width="51.0" height="1.0" fill="#ffffff" opacity="0.10"/><rect x="244.0" y="40.90" width="51.0" height="0.8" fill="#e87070" opacity="0.04"/><rect x="244.0" y="41.70" width="51.0" height="1.6" fill="#ffffff" opacity="0.12"/><rect x="244.0" y="43.30" width="51.0" height="1.6" fill="#e87070" opacity="0.06"/></g><g clip-path="url(#c3_1)"><rect x="244.0" y="43.8" width="51.0" height="37.0" fill="#f5bab0"/><polygon points="252.0,42.3 252.2,46.3 252.3,50.3 252.5,54.3 252.6,58.3 252.7,62.3 252.8,66.3 252.9,70.3 253.0,74.3 253.1,78.3 253.1,82.3 253.1,82.3 284.1,82.3 284.1,82.3 284.1,78.3 284.2,74.3 284.3,70.3 284.4,66.3 284.5,62.3 284.6,58.3 284.7,54.3 284.9,50.3 285.0,46.3 285.2,42.3" fill="#f29e96" opacity="0.9" filter="url(#bl3)"/><polygon points="259.7,42.3 259.4,43.3 259.4,44.3 259.4,45.3 259.0,46.3 259.3,47.3 259.7,48.3 259.7,49.3 259.4,50.3 259.0,51.3 259.0,52.3 259.3,53.3 259.7,54.3 260.0,55.3 259.7,56.3 259.0,57.3 258.7,58.3 259.0,59.3 259.7,60.3 260.2,61.3 260.2,62.3 259.8,63.3 259.7,64.3 259.7,65.3 259.6,66.3 259.6,67.3 259.6,68.3 259.6,69.3 259.6,70.3 259.4,71.3 259.7,72.3 260.3,73.3 260.2,74.3 259.9,75.3 259.8,76.3 259.8,77.3 260.1,78.3 260.0,79.3 259.7,80.3 259.8,81.3 259.5,82.3 259.3,82.3 277.9,82.3 277.7,82.3 277.4,81.3 277.5,80.3 277.2,79.3 277.1,78.3 277.4,77.3 277.4,76.3 277.3,75.3 277.0,74.3 276.9,73.3 277.5,72.3 277.8,71.3 277.6,70.3 277.6,69.3 277.6,68.3 277.6,67.3 277.6,66.3 277.5,65.3 277.5,64.3 277.4,63.3 277.0,62.3 277.0,61.3 277.5,60.3 278.2,59.3 278.5,58.3 278.2,57.3 277.5,56.3 277.2,55.3 277.5,54.3 277.9,53.3 278.2,52.3 278.2,51.3 277.8,50.3 277.5,49.3 277.5,48.3 277.9,47.3 278.2,46.3 277.8,45.3 277.8,44.3 277.8,43.3 277.5,42.3" fill="#ec5a54" filter="url(#bl2)"/><polygon points="263.4,42.3 263.2,43.3 263.3,44.3 263.2,45.3 263.0,46.3 263.2,47.3 263.4,48.3 263.4,49.3 263.3,50.3 263.0,51.3 263.1,52.3 263.2,53.3 263.5,54.3 263.7,55.3 263.4,56.3 263.1,57.3 262.9,58.3 263.1,59.3 263.5,60.3 263.8,61.3 263.8,62.3 263.6,63.3 263.5,64.3 263.5,65.3 263.5,66.3 263.5,67.3 263.5,68.3 263.4,69.3 263.5,70.3 263.3,71.3 263.5,72.3 263.9,73.3 263.8,74.3 263.6,75.3 263.6,76.3 263.6,77.3 263.7,78.3 263.7,79.3 263.5,80.3 263.6,81.3 263.4,82.3 263.3,82.3 273.9,82.3 273.8,82.3 273.6,81.3 273.7,80.3 273.5,79.3 273.5,78.3 273.6,77.3 273.6,76.3 273.6,75.3 273.4,74.3 273.3,73.3 273.7,72.3 273.9,71.3 273.7,70.3 273.8,69.3 273.7,68.3 273.7,67.3 273.7,66.3 273.7,65.3 273.7,64.3 273.6,63.3 273.4,62.3 273.4,61.3 273.7,60.3 274.1,59.3 274.3,58.3 274.1,57.3 273.8,56.3 273.5,55.3 273.7,54.3 274.0,53.3 274.1,52.3 274.2,51.3 273.9,50.3 273.8,49.3 273.8,48.3 274.0,47.3 274.2,46.3 274.0,45.3 273.9,44.3 274.0,43.3 273.8,42.3" fill="#e43434" filter="url(#bl1)"/><rect x="244.0" y="43.80" width="51.0" height="1.6" fill="#e87070" opacity="0.03"/><rect x="244.0" y="45.40" width="51.0" height="1.6" fill="#ffffff" opacity="0.03"/><rect x="244.0" y="47.00" width="51.0" height="0.8" fill="#e87070" opacity="0.01"/><rect x="244.0" y="47.80" width="51.0" height="0.8" fill="#ffffff" opacity="0.01"/><rect x="244.0" y="48.60" width="51.0" height="1.6" fill="#e87070" opacity="0.01"/><rect x="244.0" y="50.20" width="51.0" height="1.0" fill="#e87070" opacity="0.03"/><rect x="244.0" y="51.20" width="51.0" height="1.2" fill="#e87070" opacity="0.06"/><rect x="244.0" y="52.40" width="51.0" height="1.0" fill="#e87070" opacity="0.01"/><rect x="244.0" y="53.40" width="51.0" height="1.0" fill="#ffffff" opacity="0.07"/><rect x="244.0" y="54.40" width="51.0" height="0.8" fill="#ffffff" opacity="0.03"/><rect x="244.0" y="55.20" width="51.0" height="0.8" fill="#e87070" opacity="0.03"/><rect x="244.0" y="56.00" width="51.0" height="1.2" fill="#ffffff" opacity="0.10"/><rect x="244.0" y="57.20" width="51.0" height="1.6" fill="#ffffff" opacity="0.02"/><rect x="244.0" y="58.80" width="51.0" height="1.0" fill="#ffffff" opacity="0.01"/><rect x="244.0" y="59.80" width="51.0" height="1.2" fill="#e87070" opacity="0.05"/><rect x="244.0" y="61.00" width="51.0" height="1.2" fill="#e87070" opacity="0.05"/><rect x="244.0" y="62.20" width="51.0" height="1.0" fill="#ffffff" opacity="0.04"/><rect x="244.0" y="63.20" width="51.0" height="1.2" fill="#ffffff" opacity="0.08"/><rect x="244.0" y="64.40" width="51.0" height="1.0" fill="#e87070" opacity="0.07"/><rect x="244.0" y="65.40" width="51.0" height="1.0" fill="#ffffff" opacity="0.05"/><rect x="244.0" y="66.40" width="51.0" height="1.2" fill="#e87070" opacity="0.03"/><rect x="244.0" y="67.60" width="51.0" height="1.2" fill="#e87070" opacity="0.02"/><rect x="244.0" y="68.80" width="51.0" height="0.8" fill="#ffffff" opacity="0.03"/><rect x="244.0" y="69.60" width="51.0" height="1.0" fill="#e87070" opacity="0.03"/><rect x="244.0" y="70.60" width="51.0" height="1.6" fill="#ffffff" opacity="0.02"/><rect x="244.0" y="72.20" width="51.0" height="0.8" fill="#ffffff" opacity="0.09"/><rect x="244.0" y="73.00" width="51.0" height="0.8" fill="#ffffff" opacity="0.04"/><rect x="244.0" y="73.80" width="51.0" height="0.8" fill="#ffffff" opacity="0.11"/><rect x="244.0" y="74.60" width="51.0" height="0.8" fill="#ffffff" opacity="0.03"/><rect x="244.0" y="75.40" width="51.0" height="1.2" fill="#e87070" opacity="0.04"/><rect x="244.0" y="76.60" width="51.0" height="0.8" fill="#ffffff" opacity="0.03"/><rect x="244.0" y="77.40" width="51.0" height="1.2" fill="#ffffff" opacity="0.11"/><rect x="244.0" y="78.60" width="51.0" height="1.2" fill="#e87070" opacity="0.00"/><rect x="244.0" y="79.80" width="51.0" height="0.8" fill="#ffffff" opacity="0.14"/><rect x="244.0" y="80.60" width="51.0" height="1.0" fill="#e87070" opacity="0.07"/></g><g clip-path="url(#c3_2)"><rect x="244.0" y="80.8" width="51.0" height="16.799999999999997" fill="#f3ada3"/><polygon points="250.6,79.3 250.9,83.3 251.2,87.3 251.4,91.3 251.5,95.3 251.6,99.1 285.6,99.1 285.7,95.3 285.8,91.3 286.0,87.3 286.3,83.3 286.6,79.3" fill="#f29e96" opacity="0.9" filter="url(#bl3)"/><polygon points="258.2,79.3 258.3,80.3 258.1,81.3 258.0,82.3 258.1,83.3 258.4,84.3 258.3,85.3 257.6,86.3 257.2,87.3 257.6,88.3 257.8,89.3 258.1,90.3 258.7,91.3 258.9,92.3 258.8,93.3 259.2,94.3 259.1,95.3 258.5,96.3 258.2,97.3 258.2,98.3 258.1,99.1 279.1,99.1 279.0,98.3 279.0,97.3 278.7,96.3 278.1,95.3 278.0,94.3 278.4,93.3 278.3,92.3 278.5,91.3 279.1,90.3 279.4,89.3 279.6,88.3 280.0,87.3 279.6,86.3 278.9,85.3 278.8,84.3 279.1,83.3 279.2,82.3 279.1,81.3 278.9,80.3 279.0,79.3" fill="#ec5048" filter="url(#bl2)"/><polygon points="262.0,79.3 262.1,80.3 261.9,81.3 261.9,82.3 262.0,83.3 262.1,84.3 262.1,85.3 261.6,86.3 261.4,87.3 261.6,88.3 261.8,89.3 261.9,90.3 262.3,91.3 262.5,92.3 262.4,93.3 262.6,94.3 262.6,95.3 262.2,96.3 262.0,97.3 262.0,98.3 262.0,99.1 275.2,99.1 275.2,98.3 275.2,97.3 275.0,96.3 274.6,95.3 274.6,94.3 274.8,93.3 274.7,92.3 274.9,91.3 275.3,90.3 275.4,89.3 275.6,88.3 275.8,87.3 275.6,86.3 275.1,85.3 275.1,84.3 275.2,83.3 275.3,82.3 275.3,81.3 275.1,80.3 275.2,79.3" fill="#e63028" filter="url(#bl1)"/><rect x="244.0" y="80.80" width="51.0" height="0.8" fill="#e87070" opacity="0.03"/><rect x="244.0" y="81.60" width="51.0" height="1.0" fill="#e87070" opacity="0.03"/><rect x="244.0" y="82.60" width="51.0" height="0.8" fill="#e87070" opacity="0.02"/><rect x="244.0" y="83.40" width="51.0" height="1.6" fill="#ffffff" opacity="0.04"/><rect x="244.0" y="85.00" width="51.0" height="0.8" fill="#ffffff" opacity="0.01"/><rect x="244.0" y="85.80" width="51.0" height="0.8" fill="#ffffff" opacity="0.02"/><rect x="244.0" y="86.60" width="51.0" height="0.8" fill="#ffffff" opacity="0.05"/><rect x="244.0" y="87.40" width="51.0" height="1.0" fill="#ffffff" opacity="0.08"/><rect x="244.0" y="88.40" width="51.0" height="1.2" fill="#ffffff" opacity="0.05"/><rect x="244.0" y="89.60" width="51.0" height="1.2" fill="#ffffff" opacity="0.06"/><rect x="244.0" y="90.80" width="51.0" height="1.0" fill="#e87070" opacity="0.06"/><rect x="244.0" y="91.80" width="51.0" height="1.0" fill="#ffffff" opacity="0.12"/><rect x="244.0" y="92.80" width="51.0" height="0.8" fill="#ffffff" opacity="0.13"/><rect x="244.0" y="93.60" width="51.0" height="1.0" fill="#ffffff" opacity="0.10"/><rect x="244.0" y="94.60" width="51.0" height="0.8" fill="#ffffff" opacity="0.11"/><rect x="244.0" y="95.40" width="51.0" height="1.2" fill="#ffffff" opacity="0.14"/><rect x="244.0" y="96.60" width="51.0" height="1.6" fill="#ffffff" opacity="0.09"/></g><g clip-path="url(#c3_3)"><rect x="244.0" y="97.6" width="51.0" height="72.4" fill="#f8d6ce"/><polygon points="253.0,96.1 253.1,100.1 253.1,104.1 253.2,108.1 253.2,112.1 253.3,116.1 253.3,120.1 253.4,124.1 253.4,128.1 253.5,132.1 253.5,136.1 253.5,140.1 253.6,144.1 253.6,148.1 253.6,152.1 253.6,156.1 253.7,160.1 253.7,164.1 253.7,168.1 253.7,171.5 283.5,171.5 283.5,168.1 283.5,164.1 283.5,160.1 283.6,156.1 283.6,152.1 283.6,148.1 283.6,144.1 283.7,140.1 283.7,136.1 283.7,132.1 283.8,128.1 283.8,124.1 283.9,120.1 283.9,116.1 284.0,112.1 284.0,108.1 284.1,104.1 284.1,100.1 284.2,96.1" fill="#f29e96" opacity="0.9" filter="url(#bl3)"/><polygon points="260.1,96.1 259.9,97.1 260.2,98.1 260.3,99.1 260.2,100.1 259.9,101.1 259.6,102.1 259.9,103.1 260.5,104.1 260.5,105.1 259.9,106.1 259.8,107.1 260.3,108.1 260.1,109.1 259.7,110.1 259.8,111.1 260.0,112.1 259.9,113.1 259.8,114.1 260.0,115.1 260.2,116.1 260.0,117.1 260.1,118.1 260.5,119.1 260.8,120.1 260.5,121.1 260.0,122.1 260.1,123.1 260.5,124.1 260.7,125.1 260.8,126.1 260.9,127.1 260.8,128.1 260.3,129.1 259.6,130.1 259.4,131.1 259.7,132.1 260.1,133.1 260.1,134.1 259.8,135.1 259.6,136.1 259.8,137.1 260.2,138.1 260.5,139.1 260.2,140.1 259.8,141.1 260.1,142.1 260.5,143.1 260.4,144.1 260.5,145.1 260.5,146.1 260.0,147.1 259.8,148.1 260.2,149.1 260.4,150.1 260.0,151.1 259.6,152.1 259.6,153.1 259.8,154.1 259.8,155.1 259.9,156.1 260.2,157.1 260.2,158.1 259.9,159.1 259.8,160.1 260.0,161.1 260.2,162.1 260.0,163.1 259.9,164.1 260.1,165.1 260.3,166.1 260.0,167.1 260.0,168.1 260.3,169.1 260.3,170.1 260.6,171.1 260.8,171.5 276.4,171.5 276.6,171.1 276.9,170.1 276.9,169.1 277.2,168.1 277.2,167.1 276.9,166.1 277.1,165.1 277.3,164.1 277.2,163.1 277.0,162.1 277.2,161.1 277.4,160.1 277.3,159.1 277.0,158.1 277.0,157.1 277.3,156.1 277.4,155.1 277.4,154.1 277.6,153.1 277.6,152.1 277.2,151.1 276.8,150.1 277.0,149.1 277.4,148.1 277.2,147.1 276.7,146.1 276.7,145.1 276.8,144.1 276.7,143.1 277.1,142.1 277.4,141.1 277.0,140.1 276.7,139.1 277.0,138.1 277.4,137.1 277.6,136.1 277.4,135.1 277.1,134.1 277.1,133.1 277.5,132.1 277.8,131.1 277.6,130.1 276.9,129.1 276.4,128.1 276.3,127.1 276.4,126.1 276.5,125.1 276.7,124.1 277.1,123.1 277.2,122.1 276.7,121.1 276.4,120.1 276.7,119.1 277.1,118.1 277.2,117.1 277.0,116.1 277.2,115.1 277.4,114.1 277.3,113.1 277.2,112.1 277.4,111.1 277.5,110.1 277.1,109.1 276.9,108.1 277.4,107.1 277.3,106.1 276.7,105.1 276.7,104.1 277.3,103.1 277.6,102.1 277.3,101.1 277.0,100.1 276.9,99.1 277.0,98.1 277.3,97.1 277.1,96.1" fill="#ee6a62" filter="url(#bl2)"/><polygon points="264.1,96.1 264.0,97.1 264.1,98.1 264.2,99.1 264.1,100.1 264.0,101.1 263.8,102.1 264.0,103.1 264.3,104.1 264.3,105.1 263.9,106.1 263.9,107.1 264.1,108.1 264.1,109.1 263.8,110.1 263.9,111.1 264.0,112.1 264.0,113.1 263.9,114.1 264.0,115.1 264.1,116.1 264.0,117.1 264.0,118.1 264.3,119.1 264.4,120.1 264.3,121.1 264.0,122.1 264.0,123.1 264.3,124.1 264.4,125.1 264.4,126.1 264.4,127.1 264.4,128.1 264.2,129.1 263.8,130.1 263.7,131.1 263.8,132.1 264.1,133.1 264.1,134.1 263.9,135.1 263.8,136.1 263.9,137.1 264.1,138.1 264.2,139.1 264.1,140.1 263.9,141.1 264.0,142.1 264.2,143.1 264.2,144.1 264.3,145.1 264.3,146.1 264.0,147.1 263.9,148.1 264.1,149.1 264.2,150.1 264.0,151.1 263.8,152.1 263.8,153.1 263.9,154.1 263.9,155.1 263.9,156.1 264.1,157.1 264.1,158.1 264.0,159.1 263.9,160.1 264.0,161.1 264.1,162.1 264.0,163.1 263.9,164.1 264.1,165.1 264.2,166.1 264.0,167.1 264.0,168.1 264.2,169.1 264.2,170.1 264.3,171.1 264.4,171.5 272.8,171.5 272.9,171.1 273.0,170.1 273.0,169.1 273.2,168.1 273.2,167.1 273.0,166.1 273.1,165.1 273.3,164.1 273.2,163.1 273.1,162.1 273.2,161.1 273.3,160.1 273.2,159.1 273.1,158.1 273.1,157.1 273.3,156.1 273.3,155.1 273.3,154.1 273.4,153.1 273.4,152.1 273.2,151.1 273.0,150.1 273.1,149.1 273.3,148.1 273.2,147.1 272.9,146.1 272.9,145.1 273.0,144.1 273.0,143.1 273.2,142.1 273.3,141.1 273.1,140.1 273.0,139.1 273.1,138.1 273.3,137.1 273.4,136.1 273.3,135.1 273.1,134.1 273.1,133.1 273.4,132.1 273.5,131.1 273.4,130.1 273.0,129.1 272.8,128.1 272.8,127.1 272.8,126.1 272.8,125.1 272.9,124.1 273.2,123.1 273.2,122.1 272.9,121.1 272.8,120.1 272.9,119.1 273.2,118.1 273.2,117.1 273.1,116.1 273.2,115.1 273.3,114.1 273.2,113.1 273.2,112.1 273.3,111.1 273.4,110.1 273.1,109.1 273.1,108.1 273.3,107.1 273.3,106.1 272.9,105.1 272.9,104.1 273.2,103.1 273.4,102.1 273.2,101.1 273.1,100.1 273.0,99.1 273.1,98.1 273.2,97.1 273.1,96.1" fill="#e64444" filter="url(#bl1)"/><rect x="244.0" y="97.60" width="51.0" height="1.0" fill="#e87070" opacity="0.06"/><rect x="244.0" y="98.60" width="51.0" height="0.8" fill="#ffffff" opacity="0.05"/><rect x="244.0" y="99.40" width="51.0" height="1.2" fill="#ffffff" opacity="0.12"/><rect x="244.0" y="100.60" width="51.0" height="0.8" fill="#e87070" opacity="0.02"/><rect x="244.0" y="101.40" width="51.0" height="1.2" fill="#ffffff" opacity="0.09"/><rect x="244.0" y="102.60" width="51.0" height="1.2" fill="#ffffff" opacity="0.00"/><rect x="244.0" y="103.80" width="51.0" height="0.8" fill="#ffffff" opacity="0.13"/><rect x="244.0" y="104.60" width="51.0" height="1.6" fill="#ffffff" opacity="0.06"/><rect x="244.0" y="106.20" width="51.0" height="1.6" fill="#e87070" opacity="0.01"/><rect x="244.0" y="107.80" width="51.0" height="1.0" fill="#ffffff" opacity="0.01"/><rect x="244.0" y="108.80" width="51.0" height="1.6" fill="#ffffff" opacity="0.09"/><rect x="244.0" y="110.40" width="51.0" height="1.2" fill="#ffffff" opacity="0.01"/><rect x="244.0" y="111.60" width="51.0" height="1.0" fill="#ffffff" opacity="0.10"/><rect x="244.0" y="112.60" width="51.0" height="1.6" fill="#ffffff" opacity="0.09"/><rect x="244.0" y="114.20" width="51.0" height="0.8" fill="#e87070" opacity="0.02"/><rect x="244.0" y="115.00" width="51.0" height="0.8" fill="#ffffff" opacity="0.05"/><rect x="244.0" y="115.80" width="51.0" height="1.6" fill="#ffffff" opacity="0.04"/><rect x="244.0" y="117.40" width="51.0" height="1.2" fill="#ffffff" opacity="0.02"/><rect x="244.0" y="118.60" width="51.0" height="1.6" fill="#ffffff" opacity="0.04"/><rect x="244.0" y="120.20" width="51.0" height="1.0" fill="#ffffff" opacity="0.12"/><rect x="244.0" y="121.20" width="51.0" height="1.6" fill="#ffffff" opacity="0.07"/><rect x="244.0" y="122.80" width="51.0" height="1.0" fill="#ffffff" opacity="0.01"/><rect x="244.0" y="123.80" width="51.0" height="1.6" fill="#e87070" opacity="0.04"/><rect x="244.0" y="125.40" width="51.0" height="1.2" fill="#e87070" opacity="0.05"/><rect x="244.0" y="126.60" width="51.0" height="0.8" fill="#e87070" opacity="0.07"/><rect x="244.0" y="127.40" width="51.0" height="1.6" fill="#ffffff" opacity="0.02"/><rect x="244.0" y="129.00" width="51.0" height="1.6" fill="#e87070" opacity="0.01"/><rect x="244.0" y="130.60" width="51.0" height="1.2" fill="#ffffff" opacity="0.06"/><rect x="244.0" y="131.80" width="51.0" height="1.2" fill="#e87070" opacity="0.02"/><rect x="244.0" y="133.00" width="51.0" height="1.6" fill="#e87070" opacity="0.07"/><rect x="244.0" y="134.60" width="51.0" height="0.8" fill="#ffffff" opacity="0.13"/><rect x="244.0" y="135.40" width="51.0" height="1.6" fill="#ffffff" opacity="0.05"/><rect x="244.0" y="137.00" width="51.0" height="0.8" fill="#e87070" opacity="0.06"/><rect x="244.0" y="137.80" width="51.0" height="0.8" fill="#ffffff" opacity="0.08"/><rect x="244.0" y="138.60" width="51.0" height="1.2" fill="#ffffff" opacity="0.11"/><rect x="244.0" y="139.80" width="51.0" height="1.6" fill="#ffffff" opacity="0.00"/><rect x="244.0" y="141.40" width="51.0" height="1.6" fill="#ffffff" opacity="0.02"/><rect x="244.0" y="143.00" width="51.0" height="1.0" fill="#e87070" opacity="0.01"/><rect x="244.0" y="144.00" width="51.0" height="0.8" fill="#ffffff" opacity="0.14"/><rect x="244.0" y="144.80" width="51.0" height="1.2" fill="#ffffff" opacity="0.09"/><rect x="244.0" y="146.00" width="51.0" height="1.2" fill="#ffffff" opacity="0.11"/><rect x="244.0" y="147.20" width="51.0" height="1.6" fill="#ffffff" opacity="0.08"/><rect x="244.0" y="148.80" width="51.0" height="0.8" fill="#e87070" opacity="0.06"/><rect x="244.0" y="149.60" width="51.0" height="1.6" fill="#e87070" opacity="0.03"/><rect x="244.0" y="151.20" width="51.0" height="1.2" fill="#ffffff" opacity="0.10"/><rect x="244.0" y="152.40" width="51.0" height="1.2" fill="#e87070" opacity="0.01"/><rect x="244.0" y="153.60" width="51.0" height="1.6" fill="#e87070" opacity="0.06"/><rect x="244.0" y="155.20" width="51.0" height="1.2" fill="#ffffff" opacity="0.13"/><rect x="244.0" y="156.40" width="51.0" height="0.8" fill="#e87070" opacity="0.01"/><rect x="244.0" y="157.20" width="51.0" height="1.0" fill="#ffffff" opacity="0.10"/><rect x="244.0" y="158.20" width="51.0" height="1.2" fill="#ffffff" opacity="0.14"/><rect x="244.0" y="159.40" width="51.0" height="1.0" fill="#ffffff" opacity="0.04"/><rect x="244.0" y="160.40" width="51.0" height="1.0" fill="#ffffff" opacity="0.09"/><rect x="244.0" y="161.40" width="51.0" height="1.6" fill="#ffffff" opacity="0.02"/><rect x="244.0" y="163.00" width="51.0" height="1.2" fill="#ffffff" opacity="0.06"/><rect x="244.0" y="164.20" width="51.0" height="1.6" fill="#ffffff" opacity="0.04"/><rect x="244.0" y="165.80" width="51.0" height="1.6" fill="#ffffff" opacity="0.07"/><rect x="244.0" y="167.40" width="51.0" height="1.0" fill="#ffffff" opacity="0.11"/><rect x="244.0" y="168.40" width="51.0" height="0.8" fill="#e87070" opacity="0.01"/><rect x="244.0" y="169.20" width="51.0" height="1.6" fill="#e87070" opacity="0.05"/></g><g clip-path="url(#c3_4)"><rect x="244.0" y="170.0" width="51.0" height="137.39999999999998" fill="#f8d4cc"/><polygon points="253.1,168.5 253.1,172.5 253.2,176.5 253.2,180.5 253.2,184.5 253.2,188.5 253.3,192.5 253.3,196.5 253.3,200.5 253.3,204.5 253.3,208.5 253.4,212.5 253.4,216.5 253.4,220.5 253.4,224.5 253.5,228.5 253.5,232.5 253.5,236.5 253.5,240.5 253.5,244.5 253.5,248.5 253.6,252.5 253.6,256.5 253.6,260.5 253.6,264.5 253.6,268.5 253.6,272.5 253.6,276.5 253.7,280.5 253.7,284.5 253.7,288.5 253.7,292.5 253.7,296.5 253.7,300.5 253.7,304.5 253.7,308.5 253.7,308.9 283.5,308.9 283.5,308.5 283.5,304.5 283.5,300.5 283.5,296.5 283.5,292.5 283.5,288.5 283.5,284.5 283.5,280.5 283.6,276.5 283.6,272.5 283.6,268.5 283.6,264.5 283.6,260.5 283.6,256.5 283.6,252.5 283.7,248.5 283.7,244.5 283.7,240.5 283.7,236.5 283.7,232.5 283.7,228.5 283.8,224.5 283.8,220.5 283.8,216.5 283.8,212.5 283.9,208.5 283.9,204.5 283.9,200.5 283.9,196.5 283.9,192.5 284.0,188.5 284.0,184.5 284.0,180.5 284.0,176.5 284.1,172.5 284.1,168.5" fill="#f29e96" opacity="0.9" filter="url(#bl3)"/><polygon points="260.5,168.5 260.6,169.5 260.3,170.5 260.0,171.5 260.0,172.5 259.7,173.5 259.8,174.5 260.4,175.5 260.6,176.5 260.6,177.5 260.2,178.5 260.0,179.5 260.2,180.5 260.2,181.5 260.0,182.5 259.5,183.5 259.3,184.5 259.8,185.5 260.3,186.5 260.1,187.5 259.6,188.5 259.6,189.5 259.6,190.5 259.8,191.5 260.5,192.5 260.6,193.5 260.0,194.5 260.0,195.5 260.5,196.5 260.3,197.5 259.8,198.5 259.6,199.5 259.8,200.5 260.1,201.5 260.3,202.5 260.2,203.5 259.8,204.5 260.0,205.5 260.4,206.5 260.2,207.5 260.0,208.5 259.9,209.5 260.4,210.5 260.5,211.5 260.0,212.5 259.9,213.5 260.7,214.5 260.9,215.5 260.6,216.5 260.5,217.5 260.6,218.5 260.5,219.5 260.0,220.5 259.8,221.5 259.8,222.5 260.0,223.5 260.6,224.5 260.6,225.5 260.2,226.5 260.5,227.5 260.9,228.5 260.9,229.5 260.6,230.5 259.8,231.5 259.7,232.5 260.3,233.5 260.5,234.5 260.1,235.5 259.9,236.5 260.0,237.5 259.9,238.5 259.8,239.5 259.9,240.5 260.1,241.5 260.2,242.5 260.0,243.5 260.0,244.5 260.4,245.5 260.5,246.5 260.1,247.5 260.1,248.5 260.8,249.5 261.0,250.5 260.7,251.5 260.5,252.5 260.2,253.5 260.4,254.5 260.4,255.5 260.1,256.5 260.3,257.5 260.1,258.5 259.8,259.5 260.0,260.5 260.4,261.5 260.7,262.5 260.6,263.5 260.4,264.5 260.5,265.5 260.4,266.5 259.8,267.5 259.7,268.5 260.2,269.5 260.6,270.5 260.3,271.5 260.1,272.5 260.2,273.5 260.0,274.5 260.0,275.5 260.3,276.5 260.7,277.5 260.7,278.5 260.3,279.5 260.5,280.5 260.4,281.5 260.1,282.5 260.6,283.5 261.1,284.5 261.0,285.5 260.5,286.5 260.0,287.5 260.2,288.5 260.1,289.5 260.1,290.5 260.7,291.5 260.7,292.5 260.3,293.5 260.3,294.5 260.5,295.5 260.3,296.5 260.3,297.5 260.2,298.5 259.8,299.5 259.7,300.5 260.2,301.5 260.6,302.5 260.6,303.5 260.9,304.5 260.8,305.5 260.5,306.5 260.5,307.5 260.5,308.5 260.5,308.9 276.7,308.9 276.7,308.5 276.7,307.5 276.7,306.5 276.4,305.5 276.3,304.5 276.6,303.5 276.6,302.5 277.0,301.5 277.5,300.5 277.4,299.5 277.0,298.5 276.9,297.5 276.9,296.5 276.7,295.5 276.9,294.5 276.9,293.5 276.5,292.5 276.5,291.5 277.1,290.5 277.1,289.5 277.0,288.5 277.2,287.5 276.7,286.5 276.2,285.5 276.1,284.5 276.6,283.5 277.1,282.5 276.8,281.5 276.7,280.5 276.9,279.5 276.5,278.5 276.5,277.5 276.9,276.5 277.2,275.5 277.2,274.5 277.0,273.5 277.1,272.5 276.9,271.5 276.6,270.5 277.0,269.5 277.5,268.5 277.4,267.5 276.8,266.5 276.7,265.5 276.8,264.5 276.6,263.5 276.5,262.5 276.8,261.5 277.2,260.5 277.4,259.5 277.1,258.5 276.9,257.5 277.1,256.5 276.8,255.5 276.8,254.5 277.0,253.5 276.7,252.5 276.5,251.5 276.2,250.5 276.4,249.5 277.1,248.5 277.1,247.5 276.7,246.5 276.8,245.5 277.2,244.5 277.2,243.5 277.0,242.5 277.1,241.5 277.3,240.5 277.4,239.5 277.3,238.5 277.2,237.5 277.3,236.5 277.1,235.5 276.7,234.5 276.9,233.5 277.5,232.5 277.4,231.5 276.6,230.5 276.3,229.5 276.3,228.5 276.7,227.5 277.0,226.5 276.6,225.5 276.6,224.5 277.2,223.5 277.4,222.5 277.4,221.5 277.2,220.5 276.7,219.5 276.6,218.5 276.7,217.5 276.6,216.5 276.3,215.5 276.5,214.5 277.3,213.5 277.2,212.5 276.7,211.5 276.8,210.5 277.3,209.5 277.2,208.5 277.0,207.5 276.8,206.5 277.2,205.5 277.4,204.5 277.0,203.5 276.9,202.5 277.1,201.5 277.4,200.5 277.6,199.5 277.4,198.5 276.9,197.5 276.7,196.5 277.2,195.5 277.2,194.5 276.6,193.5 276.7,192.5 277.4,191.5 277.6,190.5 277.6,189.5 277.6,188.5 277.1,187.5 276.9,186.5 277.4,185.5 277.9,184.5 277.7,183.5 277.2,182.5 277.0,181.5 277.0,180.5 277.2,179.5 277.0,178.5 276.6,177.5 276.6,176.5 276.8,175.5 277.4,174.5 277.5,173.5 277.2,172.5 277.2,171.5 276.9,170.5 276.6,169.5 276.7,168.5" fill="#ee6a62" filter="url(#bl2)"/><polygon points="264.3,168.5 264.4,169.5 264.2,170.5 264.0,171.5 264.0,172.5 263.9,173.5 263.9,174.5 264.2,175.5 264.4,176.5 264.4,177.5 264.2,178.5 264.0,179.5 264.1,180.5 264.1,181.5 264.0,182.5 263.8,183.5 263.7,184.5 263.9,185.5 264.2,186.5 264.1,187.5 263.8,188.5 263.8,189.5 263.8,190.5 263.9,191.5 264.3,192.5 264.3,193.5 264.0,194.5 264.0,195.5 264.3,196.5 264.2,197.5 263.9,198.5 263.8,199.5 263.9,200.5 264.1,201.5 264.2,202.5 264.1,203.5 263.9,204.5 264.0,205.5 264.2,206.5 264.1,207.5 264.0,208.5 264.0,209.5 264.2,210.5 264.3,211.5 264.0,212.5 264.0,213.5 264.4,214.5 264.5,215.5 264.3,216.5 264.3,217.5 264.3,218.5 264.3,219.5 264.0,220.5 263.9,221.5 263.9,222.5 264.0,223.5 264.3,224.5 264.3,225.5 264.1,226.5 264.3,227.5 264.5,228.5 264.5,229.5 264.3,230.5 263.9,231.5 263.8,232.5 264.2,233.5 264.3,234.5 264.0,235.5 264.0,236.5 264.0,237.5 263.9,238.5 263.9,239.5 263.9,240.5 264.0,241.5 264.1,242.5 264.0,243.5 264.0,244.5 264.2,245.5 264.3,246.5 264.1,247.5 264.1,248.5 264.4,249.5 264.5,250.5 264.4,251.5 264.3,252.5 264.1,253.5 264.2,254.5 264.2,255.5 264.1,256.5 264.1,257.5 264.1,258.5 263.9,259.5 264.0,260.5 264.2,261.5 264.4,262.5 264.3,263.5 264.2,264.5 264.3,265.5 264.2,266.5 263.9,267.5 263.8,268.5 264.1,269.5 264.3,270.5 264.1,271.5 264.1,272.5 264.1,273.5 264.0,274.5 264.0,275.5 264.1,276.5 264.4,277.5 264.4,278.5 264.2,279.5 264.3,280.5 264.2,281.5 264.0,282.5 264.3,283.5 264.6,284.5 264.5,285.5 264.2,286.5 264.0,287.5 264.1,288.5 264.0,289.5 264.1,290.5 264.4,291.5 264.4,292.5 264.2,293.5 264.2,294.5 264.2,295.5 264.2,296.5 264.1,297.5 264.1,298.5 263.9,299.5 263.8,300.5 264.1,301.5 264.3,302.5 264.3,303.5 264.5,304.5 264.4,305.5 264.3,306.5 264.3,307.5 264.2,308.5 264.3,308.9 272.9,308.9 273.0,308.5 272.9,307.5 272.9,306.5 272.8,305.5 272.7,304.5 272.9,303.5 272.9,302.5 273.1,301.5 273.4,300.5 273.3,299.5 273.1,298.5 273.1,297.5 273.0,296.5 273.0,295.5 273.0,294.5 273.0,293.5 272.8,292.5 272.8,291.5 273.1,290.5 273.2,289.5 273.1,288.5 273.2,287.5 273.0,286.5 272.7,285.5 272.6,284.5 272.9,283.5 273.2,282.5 273.0,281.5 272.9,280.5 273.0,279.5 272.8,278.5 272.8,277.5 273.1,276.5 273.2,275.5 273.2,274.5 273.1,273.5 273.1,272.5 273.1,271.5 272.9,270.5 273.1,269.5 273.4,268.5 273.3,267.5 273.0,266.5 272.9,265.5 273.0,264.5 272.9,263.5 272.8,262.5 273.0,261.5 273.2,260.5 273.3,259.5 273.1,258.5 273.1,257.5 273.1,256.5 273.0,255.5 273.0,254.5 273.1,253.5 272.9,252.5 272.8,251.5 272.7,250.5 272.8,249.5 273.1,248.5 273.1,247.5 272.9,246.5 273.0,245.5 273.2,244.5 273.2,243.5 273.1,242.5 273.2,241.5 273.3,240.5 273.3,239.5 273.3,238.5 273.2,237.5 273.2,236.5 273.2,235.5 272.9,234.5 273.0,233.5 273.4,232.5 273.3,231.5 272.9,230.5 272.7,229.5 272.7,228.5 272.9,227.5 273.1,226.5 272.9,225.5 272.9,224.5 273.2,223.5 273.3,222.5 273.3,221.5 273.2,220.5 272.9,219.5 272.9,218.5 272.9,217.5 272.9,216.5 272.7,215.5 272.8,214.5 273.2,213.5 273.2,212.5 272.9,211.5 273.0,210.5 273.2,209.5 273.2,208.5 273.1,207.5 273.0,206.5 273.2,205.5 273.3,204.5 273.1,203.5 273.0,202.5 273.1,201.5 273.3,200.5 273.4,199.5 273.3,198.5 273.0,197.5 272.9,196.5 273.2,195.5 273.2,194.5 272.9,193.5 272.9,192.5 273.3,191.5 273.4,190.5 273.4,189.5 273.4,188.5 273.1,187.5 273.0,186.5 273.3,185.5 273.5,184.5 273.4,183.5 273.2,182.5 273.1,181.5 273.1,180.5 273.2,179.5 273.0,178.5 272.8,177.5 272.8,176.5 273.0,175.5 273.3,174.5 273.3,173.5 273.2,172.5 273.2,171.5 273.0,170.5 272.8,169.5 272.9,168.5" fill="#e64444" filter="url(#bl1)"/><rect x="244.0" y="170.00" width="51.0" height="1.0" fill="#ffffff" opacity="0.11"/><rect x="244.0" y="171.00" width="51.0" height="1.2" fill="#ffffff" opacity="0.10"/><rect x="244.0" y="172.20" width="51.0" height="0.8" fill="#ffffff" opacity="0.01"/><rect x="244.0" y="173.00" width="51.0" height="1.6" fill="#e87070" opacity="0.00"/><rect x="244.0" y="174.60" width="51.0" height="1.2" fill="#e87070" opacity="0.04"/><rect x="244.0" y="175.80" width="51.0" height="1.0" fill="#ffffff" opacity="0.08"/><rect x="244.0" y="176.80" width="51.0" height="1.2" fill="#ffffff" opacity="0.04"/><rect x="244.0" y="178.00" width="51.0" height="1.0" fill="#ffffff" opacity="0.10"/><rect x="244.0" y="179.00" width="51.0" height="0.8" fill="#ffffff" opacity="0.11"/><rect x="244.0" y="179.80" width="51.0" height="0.8" fill="#ffffff" opacity="0.05"/><rect x="244.0" y="180.60" width="51.0" height="1.2" fill="#ffffff" opacity="0.11"/><rect x="244.0" y="181.80" width="51.0" height="1.6" fill="#ffffff" opacity="0.14"/><rect x="244.0" y="183.40" width="51.0" height="1.2" fill="#ffffff" opacity="0.07"/><rect x="244.0" y="184.60" width="51.0" height="0.8" fill="#ffffff" opacity="0.07"/><rect x="244.0" y="185.40" width="51.0" height="1.6" fill="#ffffff" opacity="0.03"/><rect x="244.0" y="187.00" width="51.0" height="0.8" fill="#ffffff" opacity="0.13"/><rect x="244.0" y="187.80" width="51.0" height="1.2" fill="#e87070" opacity="0.07"/><rect x="244.0" y="189.00" width="51.0" height="1.6" fill="#e87070" opacity="0.05"/><rect x="244.0" y="190.60" width="51.0" height="1.6" fill="#ffffff" opacity="0.02"/><rect x="244.0" y="192.20" width="51.0" height="1.0" fill="#ffffff" opacity="0.02"/><rect x="244.0" y="193.20" width="51.0" height="1.0" fill="#e87070" opacity="0.05"/><rect x="244.0" y="194.20" width="51.0" height="1.6" fill="#ffffff" opacity="0.00"/><rect x="244.0" y="195.80" width="51.0" height="1.6" fill="#ffffff" opacity="0.11"/><rect x="244.0" y="197.40" width="51.0" height="0.8" fill="#ffffff" opacity="0.12"/><rect x="244.0" y="198.20" width="51.0" height="1.6" fill="#e87070" opacity="0.03"/><rect x="244.0" y="199.80" width="51.0" height="1.0" fill="#ffffff" opacity="0.00"/><rect x="244.0" y="200.80" width="51.0" height="1.2" fill="#ffffff" opacity="0.05"/><rect x="244.0" y="202.00" width="51.0" height="0.8" fill="#ffffff" opacity="0.08"/><rect x="244.0" y="202.80" width="51.0" height="1.0" fill="#e87070" opacity="0.03"/><rect x="244.0" y="203.80" width="51.0" height="1.6" fill="#e87070" opacity="0.05"/><rect x="244.0" y="205.40" width="51.0" height="0.8" fill="#ffffff" opacity="0.12"/><rect x="244.0" y="206.20" width="51.0" height="1.6" fill="#e87070" opacity="0.05"/><rect x="244.0" y="207.80" width="51.0" height="1.0" fill="#ffffff" opacity="0.10"/><rect x="244.0" y="208.80" width="51.0" height="1.6" fill="#ffffff" opacity="0.08"/><rect x="244.0" y="210.40" width="51.0" height="1.6" fill="#ffffff" opacity="0.08"/><rect x="244.0" y="212.00" width="51.0" height="1.0" fill="#ffffff" opacity="0.11"/><rect x="244.0" y="213.00" width="51.0" height="0.8" fill="#e87070" opacity="0.03"/><rect x="244.0" y="213.80" width="51.0" height="1.0" fill="#e87070" opacity="0.04"/><rect x="244.0" y="214.80" width="51.0" height="0.8" fill="#ffffff" opacity="0.03"/><rect x="244.0" y="215.60" width="51.0" height="0.8" fill="#ffffff" opacity="0.01"/><rect x="244.0" y="216.40" width="51.0" height="1.6" fill="#ffffff" opacity="0.03"/><rect x="244.0" y="218.00" width="51.0" height="0.8" fill="#e87070" opacity="0.07"/><rect x="244.0" y="218.80" width="51.0" height="1.6" fill="#ffffff" opacity="0.04"/><rect x="244.0" y="220.40" width="51.0" height="1.6" fill="#ffffff" opacity="0.00"/><rect x="244.0" y="222.00" width="51.0" height="0.8" fill="#e87070" opacity="0.01"/><rect x="244.0" y="222.80" width="51.0" height="1.0" fill="#ffffff" opacity="0.09"/><rect x="244.0" y="223.80" width="51.0" height="0.8" fill="#ffffff" opacity="0.07"/><rect x="244.0" y="224.60" width="51.0" height="0.8" fill="#ffffff" opacity="0.01"/><rect x="244.0" y="225.40" width="51.0" height="0.8" fill="#e87070" opacity="0.04"/><rect x="244.0" y="226.20" width="51.0" height="0.8" fill="#e87070" opacity="0.05"/><rect x="244.0" y="227.00" width="51.0" height="1.2" fill="#e87070" opacity="0.03"/><rect x="244.0" y="228.20" width="51.0" height="0.8" fill="#ffffff" opacity="0.08"/><rect x="244.0" y="229.00" width="51.0" height="0.8" fill="#e87070" opacity="0.01"/><rect x="244.0" y="229.80" width="51.0" height="1.6" fill="#e87070" opacity="0.01"/><rect x="244.0" y="231.40" width="51.0" height="1.0" fill="#ffffff" opacity="0.09"/><rect x="244.0" y="232.40" width="51.0" height="0.8" fill="#ffffff" opacity="0.08"/><rect x="244.0" y="233.20" width="51.0" height="0.8" fill="#ffffff" opacity="0.01"/><rect x="244.0" y="234.00" width="51.0" height="0.8" fill="#ffffff" opacity="0.01"/><rect x="244.0" y="234.80" width="51.0" height="1.2" fill="#ffffff" opacity="0.04"/><rect x="244.0" y="236.00" width="51.0" height="1.0" fill="#e87070" opacity="0.03"/><rect x="244.0" y="237.00" width="51.0" height="1.2" fill="#ffffff" opacity="0.11"/><rect x="244.0" y="238.20" width="51.0" height="0.8" fill="#ffffff" opacity="0.01"/><rect x="244.0" y="239.00" width="51.0" height="1.0" fill="#ffffff" opacity="0.07"/><rect x="244.0" y="240.00" width="51.0" height="1.6" fill="#e87070" opacity="0.06"/><rect x="244.0" y="241.60" width="51.0" height="1.0" fill="#e87070" opacity="0.06"/><rect x="244.0" y="242.60" width="51.0" height="0.8" fill="#ffffff" opacity="0.13"/><rect x="244.0" y="243.40" width="51.0" height="0.8" fill="#ffffff" opacity="0.09"/><rect x="244.0" y="244.20" width="51.0" height="1.6" fill="#ffffff" opacity="0.11"/><rect x="244.0" y="245.80" width="51.0" height="1.0" fill="#ffffff" opacity="0.09"/><rect x="244.0" y="246.80" width="51.0" height="1.6" fill="#ffffff" opacity="0.04"/><rect x="244.0" y="248.40" width="51.0" height="1.2" fill="#ffffff" opacity="0.11"/><rect x="244.0" y="249.60" width="51.0" height="0.8" fill="#ffffff" opacity="0.05"/><rect x="244.0" y="250.40" width="51.0" height="1.0" fill="#e87070" opacity="0.03"/><rect x="244.0" y="251.40" width="51.0" height="1.6" fill="#ffffff" opacity="0.11"/><rect x="244.0" y="253.00" width="51.0" height="1.2" fill="#ffffff" opacity="0.11"/><rect x="244.0" y="254.20" width="51.0" height="1.6" fill="#ffffff" opacity="0.08"/><rect x="244.0" y="255.80" width="51.0" height="1.0" fill="#ffffff" opacity="0.08"/><rect x="244.0" y="256.80" width="51.0" height="1.2" fill="#ffffff" opacity="0.00"/><rect x="244.0" y="258.00" width="51.0" height="1.2" fill="#e87070" opacity="0.06"/><rect x="244.0" y="259.20" width="51.0" height="1.0" fill="#ffffff" opacity="0.01"/><rect x="244.0" y="260.20" width="51.0" height="1.6" fill="#ffffff" opacity="0.09"/><rect x="244.0" y="261.80" width="51.0" height="0.8" fill="#ffffff" opacity="0.08"/><rect x="244.0" y="262.60" width="51.0" height="1.0" fill="#ffffff" opacity="0.03"/><rect x="244.0" y="263.60" width="51.0" height="1.0" fill="#ffffff" opacity="0.13"/><rect x="244.0" y="264.60" width="51.0" height="0.8" fill="#ffffff" opacity="0.09"/><rect x="244.0" y="265.40" width="51.0" height="1.2" fill="#ffffff" opacity="0.11"/><rect x="244.0" y="266.60" width="51.0" height="1.2" fill="#ffffff" opacity="0.06"/><rect x="244.0" y="267.80" width="51.0" height="1.0" fill="#e87070" opacity="0.04"/><rect x="244.0" y="268.80" width="51.0" height="1.0" fill="#e87070" opacity="0.05"/><rect x="244.0" y="269.80" width="51.0" height="1.2" fill="#ffffff" opacity="0.11"/><rect x="244.0" y="271.00" width="51.0" height="1.2" fill="#ffffff" opacity="0.04"/><rect x="244.0" y="272.20" width="51.0" height="0.8" fill="#ffffff" opacity="0.10"/><rect x="244.0" y="273.00" width="51.0" height="1.2" fill="#e87070" opacity="0.04"/><rect x="244.0" y="274.20" width="51.0" height="1.0" fill="#e87070" opacity="0.05"/><rect x="244.0" y="275.20" width="51.0" height="0.8" fill="#ffffff" opacity="0.10"/><rect x="244.0" y="276.00" width="51.0" height="0.8" fill="#ffffff" opacity="0.01"/><rect x="244.0" y="276.80" width="51.0" height="0.8" fill="#ffffff" opacity="0.01"/><rect x="244.0" y="277.60" width="51.0" height="1.0" fill="#e87070" opacity="0.04"/><rect x="244.0" y="278.60" width="51.0" height="1.6" fill="#e87070" opacity="0.05"/><rect x="244.0" y="280.20" width="51.0" height="1.2" fill="#ffffff" opacity="0.13"/><rect x="244.0" y="281.40" width="51.0" height="1.0" fill="#ffffff" opacity="0.13"/><rect x="244.0" y="282.40" width="51.0" height="1.2" fill="#e87070" opacity="0.03"/><rect x="244.0" y="283.60" width="51.0" height="1.0" fill="#e87070" opacity="0.03"/><rect x="244.0" y="284.60" width="51.0" height="0.8" fill="#ffffff" opacity="0.12"/><rect x="244.0" y="285.40" width="51.0" height="1.2" fill="#ffffff" opacity="0.05"/><rect x="244.0" y="286.60" width="51.0" height="0.8" fill="#ffffff" opacity="0.05"/><rect x="244.0" y="287.40" width="51.0" height="0.8" fill="#ffffff" opacity="0.12"/><rect x="244.0" y="288.20" width="51.0" height="1.2" fill="#ffffff" opacity="0.04"/><rect x="244.0" y="289.40" width="51.0" height="1.0" fill="#ffffff" opacity="0.01"/><rect x="244.0" y="290.40" width="51.0" height="1.0" fill="#e87070" opacity="0.05"/><rect x="244.0" y="291.40" width="51.0" height="1.2" fill="#ffffff" opacity="0.09"/><rect x="244.0" y="292.60" width="51.0" height="0.8" fill="#ffffff" opacity="0.02"/><rect x="244.0" y="293.40" width="51.0" height="0.8" fill="#e87070" opacity="0.03"/><rect x="244.0" y="294.20" width="51.0" height="0.8" fill="#ffffff" opacity="0.08"/><rect x="244.0" y="295.00" width="51.0" height="0.8" fill="#ffffff" opacity="0.01"/><rect x="244.0" y="295.80" width="51.0" height="1.2" fill="#ffffff" opacity="0.12"/><rect x="244.0" y="297.00" width="51.0" height="1.2" fill="#e87070" opacity="0.03"/><rect x="244.0" y="298.20" width="51.0" height="1.0" fill="#e87070" opacity="0.01"/><rect x="244.0" y="299.20" width="51.0" height="1.2" fill="#ffffff" opacity="0.05"/><rect x="244.0" y="300.40" width="51.0" height="0.8" fill="#ffffff" opacity="0.12"/><rect x="244.0" y="301.20" width="51.0" height="1.2" fill="#ffffff" opacity="0.11"/><rect x="244.0" y="302.40" width="51.0" height="1.0" fill="#ffffff" opacity="0.09"/><rect x="244.0" y="303.40" width="51.0" height="1.6" fill="#ffffff" opacity="0.12"/><rect x="244.0" y="305.00" width="51.0" height="1.6" fill="#ffffff" opacity="0.04"/><rect x="244.0" y="306.60" width="51.0" height="0.8" fill="#ffffff" opacity="0.01"/></g><g clip-path="url(#c3_5)"><rect x="244.0" y="307.4" width="51.0" height="19.80000000000001" fill="#ef8880"/><polygon points="250.8,305.9 251.1,309.9 251.3,313.9 251.6,317.9 251.7,321.9 251.9,325.9 251.9,328.7 285.3,328.7 285.3,325.9 285.5,321.9 285.6,317.9 285.9,313.9 286.1,309.9 286.4,305.9" fill="#f29e96" opacity="0.9" filter="url(#bl3)"/><polygon points="257.3,305.9 258.3,306.9 258.7,307.9 258.6,308.9 258.6,309.9 258.2,310.9 258.1,311.9 258.8,312.9 258.9,313.9 258.7,314.9 258.9,315.9 258.9,316.9 258.8,317.9 259.2,318.9 259.3,319.9 258.9,320.9 258.3,321.9 258.0,322.9 258.5,323.9 259.2,324.9 259.0,325.9 258.4,326.9 258.2,327.9 257.8,328.7 279.4,328.7 279.0,327.9 278.8,326.9 278.2,325.9 278.0,324.9 278.7,323.9 279.2,322.9 278.9,321.9 278.3,320.9 277.9,319.9 278.0,318.9 278.4,317.9 278.3,316.9 278.3,315.9 278.5,314.9 278.3,313.9 278.4,312.9 279.1,311.9 279.0,310.9 278.6,309.9 278.6,308.9 278.5,307.9 278.9,306.9 279.9,305.9" fill="#ea4440" filter="url(#bl2)"/><polygon points="261.5,305.9 262.1,306.9 262.4,307.9 262.3,308.9 262.3,309.9 262.1,310.9 262.0,311.9 262.5,312.9 262.6,313.9 262.4,314.9 262.5,315.9 262.5,316.9 262.5,317.9 262.7,318.9 262.8,319.9 262.6,320.9 262.2,321.9 262.0,322.9 262.3,323.9 262.8,324.9 262.7,325.9 262.3,326.9 262.1,327.9 261.9,328.7 275.3,328.7 275.1,327.9 274.9,326.9 274.5,325.9 274.4,324.9 274.9,323.9 275.2,322.9 275.0,321.9 274.6,320.9 274.4,319.9 274.5,318.9 274.7,317.9 274.7,316.9 274.7,315.9 274.8,314.9 274.6,313.9 274.7,312.9 275.2,311.9 275.1,310.9 274.9,309.9 274.9,308.9 274.8,307.9 275.1,306.9 275.7,305.9" fill="#e42020" filter="url(#bl1)"/><rect x="244.0" y="307.40" width="51.0" height="1.6" fill="#ffffff" opacity="0.02"/><rect x="244.0" y="309.00" width="51.0" height="0.8" fill="#ffffff" opacity="0.03"/><rect x="244.0" y="309.80" width="51.0" height="1.2" fill="#ffffff" opacity="0.03"/><rect x="244.0" y="311.00" width="51.0" height="1.6" fill="#ffffff" opacity="0.04"/><rect x="244.0" y="312.60" width="51.0" height="1.0" fill="#ffffff" opacity="0.01"/><rect x="244.0" y="313.60" width="51.0" height="1.2" fill="#ffffff" opacity="0.01"/><rect x="244.0" y="314.80" width="51.0" height="1.2" fill="#e87070" opacity="0.00"/><rect x="244.0" y="316.00" width="51.0" height="1.6" fill="#ffffff" opacity="0.07"/><rect x="244.0" y="317.60" width="51.0" height="0.8" fill="#e87070" opacity="0.04"/><rect x="244.0" y="318.40" width="51.0" height="0.8" fill="#e87070" opacity="0.05"/><rect x="244.0" y="319.20" width="51.0" height="0.8" fill="#ffffff" opacity="0.08"/><rect x="244.0" y="320.00" width="51.0" height="1.6" fill="#ffffff" opacity="0.09"/><rect x="244.0" y="321.60" width="51.0" height="1.2" fill="#ffffff" opacity="0.02"/><rect x="244.0" y="322.80" width="51.0" height="0.8" fill="#ffffff" opacity="0.12"/><rect x="244.0" y="323.60" width="51.0" height="1.0" fill="#ffffff" opacity="0.10"/><rect x="244.0" y="324.60" width="51.0" height="1.6" fill="#ffffff" opacity="0.13"/><rect x="244.0" y="326.20" width="51.0" height="1.6" fill="#ffffff" opacity="0.03"/></g><rect x="244.0" y="25.5" width="51.0" height="301.7" fill="none" stroke="#6e5f5c" stroke-width="1.3"/><line x1="244.0" y1="43.8" x2="295.0" y2="43.8" stroke="#6e5f5c" stroke-width="2.1"/><line x1="244.0" y1="80.8" x2="295.0" y2="80.8" stroke="#6e5f5c" stroke-width="2.1"/><line x1="244.0" y1="97.6" x2="295.0" y2="97.6" stroke="#6e5f5c" stroke-width="2.1"/><line x1="244.0" y1="170.0" x2="295.0" y2="170.0" stroke="#6e5f5c" stroke-width="2.1"/><line x1="244.0" y1="307.4" x2="295.0" y2="307.4" stroke="#6e5f5c" stroke-width="2.1"/><text x="97.4" y="22.2" font-size="9.01" text-anchor="middle" fill="#222" font-weight="normal" textLength="23.62" lengthAdjust="spacingAndGlyphs" stroke="#222" stroke-width="0.1" >SMC3</text><text x="155.0" y="22.2" font-size="9.01" text-anchor="middle" fill="#222" font-weight="normal" textLength="22.66" lengthAdjust="spacingAndGlyphs" stroke="#222" stroke-width="0.1" >CTCF</text><text x="211.5" y="22.2" font-size="9.01" text-anchor="middle" fill="#222" font-weight="normal" textLength="23.62" lengthAdjust="spacingAndGlyphs" stroke="#222" stroke-width="0.1" >SMC1</text><text x="269.2" y="22.2" font-size="9.01" text-anchor="middle" fill="#222" font-weight="normal" textLength="16.07" lengthAdjust="spacingAndGlyphs" stroke="#222" stroke-width="0.1" >YY1</text><text x="70.8" y="32.0" font-size="6.57" text-anchor="end" fill="#2b2b2b" font-weight="normal" textLength="41.36" lengthAdjust="spacingAndGlyphs" stroke="#2b2b2b" stroke-width="0.1" >Distal promoter</text><text x="70.8" y="40.0" font-size="6.57" text-anchor="end" fill="#2b2b2b" font-weight="normal" textLength="52.73" lengthAdjust="spacingAndGlyphs" stroke="#2b2b2b" stroke-width="0.1" >1,248 SMC3 peaks</text><text x="70.8" y="59.1" font-size="6.57" text-anchor="end" fill="#2b2b2b" font-weight="normal" textLength="25.04" lengthAdjust="spacingAndGlyphs" stroke="#2b2b2b" stroke-width="0.1" >Enhancer</text><text x="70.8" y="67.3" font-size="6.57" text-anchor="end" fill="#2b2b2b" font-weight="normal" textLength="52.73" lengthAdjust="spacingAndGlyphs" stroke="#2b2b2b" stroke-width="0.1" >2,420 SMC3 peaks</text><text x="70.8" y="87.3" font-size="6.57" text-anchor="end" fill="#2b2b2b" font-weight="normal" textLength="12.99" lengthAdjust="spacingAndGlyphs" stroke="#2b2b2b" stroke-width="0.1" >Exon</text><text x="70.8" y="95.6" font-size="6.57" text-anchor="end" fill="#2b2b2b" font-weight="normal" textLength="52.73" lengthAdjust="spacingAndGlyphs" stroke="#2b2b2b" stroke-width="0.1" >1,077 SMC3 peaks</text><text x="70.8" y="132.5" font-size="6.57" text-anchor="end" fill="#2b2b2b" font-weight="normal" textLength="25.91" lengthAdjust="spacingAndGlyphs" stroke="#2b2b2b" stroke-width="0.1" >Intergenic</text><text x="70.8" y="140.6" font-size="6.57" text-anchor="end" fill="#2b2b2b" font-weight="normal" textLength="52.73" lengthAdjust="spacingAndGlyphs" stroke="#2b2b2b" stroke-width="0.1" >4,827 SMC3 peaks</text><text x="70.8" y="237.5" font-size="6.57" text-anchor="end" fill="#2b2b2b" font-weight="normal" textLength="14.83" lengthAdjust="spacingAndGlyphs" stroke="#2b2b2b" stroke-width="0.1" >Intron</text><text x="70.8" y="245.6" font-size="6.57" text-anchor="end" fill="#2b2b2b" font-weight="normal" textLength="52.73" lengthAdjust="spacingAndGlyphs" stroke="#2b2b2b" stroke-width="0.1" >9,239 SMC3 peaks</text><text x="70.8" y="315.8" font-size="6.57" text-anchor="end" fill="#2b2b2b" font-weight="normal" textLength="48.02" lengthAdjust="spacingAndGlyphs" stroke="#2b2b2b" stroke-width="0.1" >Proximal Promoter</text><text x="70.8" y="323.8" font-size="6.57" text-anchor="end" fill="#2b2b2b" font-weight="normal" textLength="52.73" lengthAdjust="spacingAndGlyphs" stroke="#2b2b2b" stroke-width="0.1" >1,343 SMC3 peaks</text><text x="67.2" y="173.6" font-size="6.36" text-anchor="end" fill="#2b2b2b" font-weight="normal" textLength="16.68" lengthAdjust="spacingAndGlyphs" stroke="#2b2b2b" stroke-width="0.1" >Signal</text><rect x="57.9" y="179" width="5.1" height="16.6" fill="url(#sig)"/><text x="67.0" y="181.60000000000002" font-size="5.0" text-anchor="middle" fill="#2b2b2b" font-weight="normal" stroke="#2b2b2b" stroke-width="0.1" >3</text><text x="67.0" y="188.10000000000002" font-size="5.0" text-anchor="middle" fill="#2b2b2b" font-weight="normal" stroke="#2b2b2b" stroke-width="0.1" >2</text><text x="67.0" y="194.9" font-size="5.0" text-anchor="middle" fill="#2b2b2b" font-weight="normal" stroke="#2b2b2b" stroke-width="0.1" >1</text><text x="67.0" y="201.0" font-size="5.0" text-anchor="middle" fill="#2b2b2b" font-weight="normal" stroke="#2b2b2b" stroke-width="0.1" >0</text><text transform="translate(75.7,331.3) rotate(-90)" font-size="6.3" text-anchor="end" fill="#2b2b2b" stroke="#2b2b2b" stroke-width="0.1">−500 bp</text><text transform="translate(98.4,331.3) rotate(-90)" font-size="6.2" text-anchor="end" fill="#2b2b2b" stroke="#2b2b2b" stroke-width="0.1">SMC3</text><text transform="translate(105.4,331.3) rotate(-90)" font-size="5.8" text-anchor="end" fill="#2b2b2b" stroke="#2b2b2b" stroke-width="0.1">peak summit</text><text transform="translate(124.7,331.3) rotate(-90)" font-size="6.3" text-anchor="end" fill="#2b2b2b" stroke="#2b2b2b" stroke-width="0.1">500 bp</text><text transform="translate(132.2,331.3) rotate(-90)" font-size="6.3" text-anchor="end" fill="#2b2b2b" stroke="#2b2b2b" stroke-width="0.1">−500 bp</text><text transform="translate(154.9,331.3) rotate(-90)" font-size="6.2" text-anchor="end" fill="#2b2b2b" stroke="#2b2b2b" stroke-width="0.1">SMC3</text><text transform="translate(161.9,331.3) rotate(-90)" font-size="5.8" text-anchor="end" fill="#2b2b2b" stroke="#2b2b2b" stroke-width="0.1">peak summit</text><text transform="translate(181.2,331.3) rotate(-90)" font-size="6.3" text-anchor="end" fill="#2b2b2b" stroke="#2b2b2b" stroke-width="0.1">500 bp</text><text transform="translate(188.7,331.3) rotate(-90)" font-size="6.3" text-anchor="end" fill="#2b2b2b" stroke="#2b2b2b" stroke-width="0.1">−500 bp</text><text transform="translate(211.4,331.3) rotate(-90)" font-size="6.2" text-anchor="end" fill="#2b2b2b" stroke="#2b2b2b" stroke-width="0.1">SMC3</text><text transform="translate(218.4,331.3) rotate(-90)" font-size="5.8" text-anchor="end" fill="#2b2b2b" stroke="#2b2b2b" stroke-width="0.1">peak summit</text><text transform="translate(237.7,331.3) rotate(-90)" font-size="6.3" text-anchor="end" fill="#2b2b2b" stroke="#2b2b2b" stroke-width="0.1">500 bp</text><text transform="translate(245.2,331.3) rotate(-90)" font-size="6.3" text-anchor="end" fill="#2b2b2b" stroke="#2b2b2b" stroke-width="0.1">−500 bp</text><text transform="translate(267.9,331.3) rotate(-90)" font-size="6.2" text-anchor="end" fill="#2b2b2b" stroke="#2b2b2b" stroke-width="0.1">SMC3</text><text transform="translate(274.9,331.3) rotate(-90)" font-size="5.8" text-anchor="end" fill="#2b2b2b" stroke="#2b2b2b" stroke-width="0.1">peak summit</text><text transform="translate(294.2,331.3) rotate(-90)" font-size="6.3" text-anchor="end" fill="#2b2b2b" stroke="#2b2b2b" stroke-width="0.1">500 bp</text><text x="306.15" y="15.9" font-size="11.0" text-anchor="start" fill="#111" font-weight="bold" >B</text><rect x="318.6" y="25.5" width="93.4" height="104.8" fill="#fff" stroke="#333" stroke-width="1.2"/><text x="365.0" y="33.6" font-size="8.34" text-anchor="middle" fill="#222" font-weight="normal" textLength="54.23" lengthAdjust="spacingAndGlyphs" stroke="#222" stroke-width="0.1" >Distal Promoter</text><ellipse cx="364.2" cy="82.0" rx="26.3" ry="27.6" fill="#dcdcef"/><ellipse cx="359.0" cy="77.8" rx="29.2" ry="29.2" fill="#d0d6d0"/><g clip-path="url(#sc0)"><ellipse cx="359.0" cy="77.8" rx="29.2" ry="29.2" fill="#b6bdcc"/></g><circle cx="373.5" cy="63.6" r="15.6" fill="url(#yg0)"/><g filter="url(#ysoft)"><circle cx="373.5" cy="63.6" r="12.6" fill="#f0d68e"/><g clip-path="url(#cc0)"><circle cx="373.5" cy="63.6" r="12.6" fill="#e8cc88"/></g><g clip-path="url(#cc0)"><g clip-path="url(#sc0)"><circle cx="373.5" cy="63.6" r="12.6" fill="#d4b263"/></g></g></g><line x1="363.4" y1="43.3" x2="373.8" y2="52.8" stroke="#222" stroke-width="1.15"/><line x1="386.5" y1="62.6" x2="393.7" y2="62.6" stroke="#222" stroke-width="1.15"/><text x="349.5" y="44.5" font-size="6.36" text-anchor="middle" fill="#2e2e2e" font-weight="normal" textLength="26.01" lengthAdjust="spacingAndGlyphs" stroke="#2e2e2e" stroke-width="0.1" >26 (2.3%)</text><text x="387.0" y="45.6" font-size="6.36" text-anchor="middle" fill="#2e2e2e" font-weight="normal" textLength="3.34" lengthAdjust="spacingAndGlyphs" stroke="#2e2e2e" stroke-width="0.1" >5</text><text x="386.8" y="52.2" font-size="6.36" text-anchor="middle" fill="#2e2e2e" font-weight="normal" textLength="17.67" lengthAdjust="spacingAndGlyphs" stroke="#2e2e2e" stroke-width="0.1" >(0.4%)</text><text x="403.1" y="52.3" font-size="6.36" text-anchor="middle" fill="#2e2e2e" font-weight="normal" textLength="11.34" lengthAdjust="spacingAndGlyphs" stroke="#2e2e2e" stroke-width="0.1" >YY1</text><text x="329.5" y="59.1" font-size="6.36" text-anchor="middle" fill="#2e2e2e" font-weight="normal" textLength="10.01" lengthAdjust="spacingAndGlyphs" stroke="#2e2e2e" stroke-width="0.1" >174</text><text x="329.7" y="66.3" font-size="6.36" text-anchor="middle" fill="#2e2e2e" font-weight="normal" textLength="21.01" lengthAdjust="spacingAndGlyphs" stroke="#2e2e2e" stroke-width="0.1" >(15.1%)</text><text x="374.0" y="62.9" font-size="6.36" text-anchor="middle" fill="#2e2e2e" font-weight="normal" textLength="10.01" lengthAdjust="spacingAndGlyphs" stroke="#2e2e2e" stroke-width="0.1" >150</text><text x="373.4" y="69.6" font-size="6.36" text-anchor="middle" fill="#2e2e2e" font-weight="normal" textLength="21.01" lengthAdjust="spacingAndGlyphs" stroke="#2e2e2e" stroke-width="0.1" >(13.0%)</text><text x="401.9" y="62.9" font-size="6.36" text-anchor="middle" fill="#2e2e2e" font-weight="normal" textLength="6.67" lengthAdjust="spacingAndGlyphs" stroke="#2e2e2e" stroke-width="0.1" >15</text><text x="401.4" y="69.5" font-size="6.36" text-anchor="middle" fill="#2e2e2e" font-weight="normal" textLength="17.67" lengthAdjust="spacingAndGlyphs" stroke="#2e2e2e" stroke-width="0.1" >(1.3%)</text><text x="359.6" y="86.5" font-size="6.36" text-anchor="middle" fill="#2e2e2e" font-weight="normal" textLength="10.01" lengthAdjust="spacingAndGlyphs" stroke="#2e2e2e" stroke-width="0.1" >699</text><text x="358.9" y="93.6" font-size="6.36" text-anchor="middle" fill="#2e2e2e" font-weight="normal" textLength="21.01" lengthAdjust="spacingAndGlyphs" stroke="#2e2e2e" stroke-width="0.1" >(60.7%)</text><text x="394.6" y="92.4" font-size="6.36" text-anchor="middle" fill="#2e2e2e" font-weight="normal" textLength="6.67" lengthAdjust="spacingAndGlyphs" stroke="#2e2e2e" stroke-width="0.1" >83</text><text x="392.6" y="98.8" font-size="6.36" text-anchor="middle" fill="#2e2e2e" font-weight="normal" textLength="17.67" lengthAdjust="spacingAndGlyphs" stroke="#2e2e2e" stroke-width="0.1" >(7.2%)</text><text x="328.0" y="105.9" font-size="6.36" text-anchor="middle" fill="#2e2e2e" font-weight="normal" textLength="16.0" lengthAdjust="spacingAndGlyphs" stroke="#2e2e2e" stroke-width="0.1" >CTCF</text><text x="392.2" y="109.1" font-size="6.36" text-anchor="middle" fill="#2e2e2e" font-weight="normal" textLength="16.67" lengthAdjust="spacingAndGlyphs" stroke="#2e2e2e" stroke-width="0.1" >SMC1</text><text x="320.70000000000005" y="119.9" font-size="6.52" text-anchor="start" fill="#2a2a2a" font-weight="normal" textLength="72.31" lengthAdjust="spacingAndGlyphs" stroke="#2a2a2a" stroke-width="0.1" >Total SMC3 peaks = 1,248</text><text x="320.70000000000005" y="127.20000000000002" font-size="6.41" text-anchor="start" fill="#2a2a2a" font-weight="normal" textLength="75.51" lengthAdjust="spacingAndGlyphs" stroke="#2a2a2a" stroke-width="0.1" >None overlaping peaks = 96</text><rect x="417.4" y="25.5" width="93.6" height="104.8" fill="#fff" stroke="#333" stroke-width="1.2"/><text x="464.5" y="33.9" font-size="8.34" text-anchor="middle" fill="#222" font-weight="normal" textLength="33.69" lengthAdjust="spacingAndGlyphs" stroke="#222" stroke-width="0.1" >Enhancer</text><ellipse cx="465.2" cy="79.5" rx="27.3" ry="27.3" fill="#dcdcef"/><ellipse cx="458.3" cy="76.0" rx="28.0" ry="28.0" fill="#d0d6d0"/><g clip-path="url(#sc1)"><ellipse cx="458.3" cy="76.0" rx="28.0" ry="28.0" fill="#b6bdcc"/></g><circle cx="473.7" cy="63.0" r="17.7" fill="url(#yg1)"/><g filter="url(#ysoft)"><circle cx="473.7" cy="63.0" r="14.7" fill="#f0d68e"/><g clip-path="url(#cc1)"><circle cx="473.7" cy="63.0" r="14.7" fill="#e8cc88"/></g><g clip-path="url(#cc1)"><g clip-path="url(#sc1)"><circle cx="473.7" cy="63.0" r="14.7" fill="#d4b263"/></g></g></g><line x1="463.3" y1="43.4" x2="469.0" y2="49.5" stroke="#222" stroke-width="1.15"/><line x1="491.7" y1="60.7" x2="487.1" y2="65.3" stroke="#222" stroke-width="1.15"/><text x="448.6" y="44.2" font-size="6.36" text-anchor="middle" fill="#2e2e2e" font-weight="normal" textLength="26.01" lengthAdjust="spacingAndGlyphs" stroke="#2e2e2e" stroke-width="0.1" >46 (2.0%)</text><text x="485.7" y="45.0" font-size="6.36" text-anchor="middle" fill="#2e2e2e" font-weight="normal" textLength="6.67" lengthAdjust="spacingAndGlyphs" stroke="#2e2e2e" stroke-width="0.1" >41</text><text x="485.2" y="51.0" font-size="6.36" text-anchor="middle" fill="#2e2e2e" font-weight="normal" textLength="17.67" lengthAdjust="spacingAndGlyphs" stroke="#2e2e2e" stroke-width="0.1" >(1.8%)</text><text x="501.6" y="47.0" font-size="6.36" text-anchor="middle" fill="#2e2e2e" font-weight="normal" textLength="11.34" lengthAdjust="spacingAndGlyphs" stroke="#2e2e2e" stroke-width="0.1" >YY1</text><text x="429.1" y="56.5" font-size="6.36" text-anchor="middle" fill="#2e2e2e" font-weight="normal" textLength="10.01" lengthAdjust="spacingAndGlyphs" stroke="#2e2e2e" stroke-width="0.1" >251</text><text x="429.3" y="63.4" font-size="6.36" text-anchor="middle" fill="#2e2e2e" font-weight="normal" textLength="21.01" lengthAdjust="spacingAndGlyphs" stroke="#2e2e2e" stroke-width="0.1" >(10.9%)</text><text x="471.5" y="62.6" font-size="6.36" text-anchor="middle" fill="#2e2e2e" font-weight="normal" textLength="10.01" lengthAdjust="spacingAndGlyphs" stroke="#2e2e2e" stroke-width="0.1" >438</text><text x="470.9" y="69.8" font-size="6.36" text-anchor="middle" fill="#2e2e2e" font-weight="normal" textLength="21.01" lengthAdjust="spacingAndGlyphs" stroke="#2e2e2e" stroke-width="0.1" >(19.1%)</text><text x="500.4" y="60.7" font-size="6.36" text-anchor="middle" fill="#2e2e2e" font-weight="normal" textLength="6.67" lengthAdjust="spacingAndGlyphs" stroke="#2e2e2e" stroke-width="0.1" >70</text><text x="499.5" y="67.3" font-size="6.36" text-anchor="middle" fill="#2e2e2e" font-weight="normal" textLength="17.67" lengthAdjust="spacingAndGlyphs" stroke="#2e2e2e" stroke-width="0.1" >(3.0%)</text><text x="454.0" y="84.6" font-size="6.36" text-anchor="middle" fill="#2e2e2e" font-weight="normal" textLength="13.35" lengthAdjust="spacingAndGlyphs" stroke="#2e2e2e" stroke-width="0.1" >1258</text><text x="453.5" y="91.1" font-size="6.36" text-anchor="middle" fill="#2e2e2e" font-weight="normal" textLength="21.01" lengthAdjust="spacingAndGlyphs" stroke="#2e2e2e" stroke-width="0.1" >(54.8%)</text><text x="492.9" y="92.5" font-size="6.36" text-anchor="middle" fill="#2e2e2e" font-weight="normal" textLength="10.01" lengthAdjust="spacingAndGlyphs" stroke="#2e2e2e" stroke-width="0.1" >192</text><text x="492.9" y="99.0" font-size="6.36" text-anchor="middle" fill="#2e2e2e" font-weight="normal" textLength="17.67" lengthAdjust="spacingAndGlyphs" stroke="#2e2e2e" stroke-width="0.1" >(8.4%)</text><text x="427.4" y="102.1" font-size="6.36" text-anchor="middle" fill="#2e2e2e" font-weight="normal" textLength="16.0" lengthAdjust="spacingAndGlyphs" stroke="#2e2e2e" stroke-width="0.1" >CTCF</text><text x="491.5" y="110.2" font-size="6.36" text-anchor="middle" fill="#2e2e2e" font-weight="normal" textLength="16.67" lengthAdjust="spacingAndGlyphs" stroke="#2e2e2e" stroke-width="0.1" >SMC1</text><text x="419.5" y="119.9" font-size="6.52" text-anchor="start" fill="#2a2a2a" font-weight="normal" textLength="72.31" lengthAdjust="spacingAndGlyphs" stroke="#2a2a2a" stroke-width="0.1" >Total SMC3 peaks = 2,420</text><text x="419.5" y="127.20000000000002" font-size="6.41" text-anchor="start" fill="#2a2a2a" font-weight="normal" textLength="78.88" lengthAdjust="spacingAndGlyphs" stroke="#2a2a2a" stroke-width="0.1" >None overlaping peaks = 124</text><rect x="318.6" y="138.6" width="93.4" height="104.8" fill="#fff" stroke="#333" stroke-width="1.2"/><text x="365.7" y="147.2" font-size="8.34" text-anchor="middle" fill="#222" font-weight="normal" textLength="17.94" lengthAdjust="spacingAndGlyphs" stroke="#222" stroke-width="0.1" >Exon</text><ellipse cx="367.6" cy="191.7" rx="27.2" ry="27.2" fill="#dcdcef"/><ellipse cx="359.2" cy="190.3" rx="28.6" ry="28.6" fill="#d0d6d0"/><g clip-path="url(#sc2)"><ellipse cx="359.2" cy="190.3" rx="28.6" ry="28.6" fill="#b6bdcc"/></g><circle cx="370.8" cy="172.4" r="19.8" fill="url(#yg2)"/><g filter="url(#ysoft)"><circle cx="370.8" cy="172.4" r="16.8" fill="#f0d68e"/><g clip-path="url(#cc2)"><circle cx="370.8" cy="172.4" r="16.8" fill="#e8cc88"/></g><g clip-path="url(#cc2)"><g clip-path="url(#sc2)"><circle cx="370.8" cy="172.4" r="16.8" fill="#d4b263"/></g></g></g><line x1="357.9" y1="157.6" x2="362.9" y2="162.8" stroke="#222" stroke-width="1.15"/><line x1="394.0" y1="170.6" x2="386.8" y2="174.6" stroke="#222" stroke-width="1.15"/><text x="347.9" y="155.6" font-size="6.36" text-anchor="middle" fill="#2e2e2e" font-weight="normal" textLength="26.01" lengthAdjust="spacingAndGlyphs" stroke="#2e2e2e" stroke-width="0.1" >32 (3.2%)</text><text x="380.5" y="154.4" font-size="6.36" text-anchor="middle" fill="#2e2e2e" font-weight="normal" textLength="6.67" lengthAdjust="spacingAndGlyphs" stroke="#2e2e2e" stroke-width="0.1" >37</text><text x="399.3" y="155.7" font-size="6.36" text-anchor="middle" fill="#2e2e2e" font-weight="normal" textLength="11.34" lengthAdjust="spacingAndGlyphs" stroke="#2e2e2e" stroke-width="0.1" >YY1</text><text x="381.0" y="161.3" font-size="6.36" text-anchor="middle" fill="#2e2e2e" font-weight="normal" textLength="17.67" lengthAdjust="spacingAndGlyphs" stroke="#2e2e2e" stroke-width="0.1" >(3.7%)</text><text x="331.4" y="168.4" font-size="6.36" text-anchor="middle" fill="#2e2e2e" font-weight="normal" textLength="10.01" lengthAdjust="spacingAndGlyphs" stroke="#2e2e2e" stroke-width="0.1" >123</text><text x="331.4" y="175.2" font-size="6.36" text-anchor="middle" fill="#2e2e2e" font-weight="normal" textLength="21.01" lengthAdjust="spacingAndGlyphs" stroke="#2e2e2e" stroke-width="0.1" >(12.3%)</text><text x="402.4" y="168.6" font-size="6.36" text-anchor="middle" fill="#2e2e2e" font-weight="normal" textLength="6.67" lengthAdjust="spacingAndGlyphs" stroke="#2e2e2e" stroke-width="0.1" >40</text><text x="402.6" y="175.6" font-size="6.36" text-anchor="middle" fill="#2e2e2e" font-weight="normal" textLength="17.67" lengthAdjust="spacingAndGlyphs" stroke="#2e2e2e" stroke-width="0.1" >(4.0%)</text><text x="371.4" y="174.6" font-size="6.36" text-anchor="middle" fill="#2e2e2e" font-weight="normal" textLength="10.01" lengthAdjust="spacingAndGlyphs" stroke="#2e2e2e" stroke-width="0.1" >161</text><text x="370.2" y="181.0" font-size="6.36" text-anchor="middle" fill="#2e2e2e" font-weight="normal" textLength="21.01" lengthAdjust="spacingAndGlyphs" stroke="#2e2e2e" stroke-width="0.1" >(16.1%)</text><text x="361.6" y="201.0" font-size="6.36" text-anchor="middle" fill="#2e2e2e" font-weight="normal" textLength="10.01" lengthAdjust="spacingAndGlyphs" stroke="#2e2e2e" stroke-width="0.1" >507</text><text x="362.2" y="207.6" font-size="6.36" text-anchor="middle" fill="#2e2e2e" font-weight="normal" textLength="21.01" lengthAdjust="spacingAndGlyphs" stroke="#2e2e2e" stroke-width="0.1" >(50.5%)</text><text x="396.0" y="207.3" font-size="6.36" text-anchor="middle" fill="#2e2e2e" font-weight="normal" textLength="10.01" lengthAdjust="spacingAndGlyphs" stroke="#2e2e2e" stroke-width="0.1" >103</text><text x="396.5" y="212.7" font-size="6.36" text-anchor="middle" fill="#2e2e2e" font-weight="normal" textLength="21.01" lengthAdjust="spacingAndGlyphs" stroke="#2e2e2e" stroke-width="0.1" >(10.3%)</text><text x="327.8" y="217.6" font-size="6.36" text-anchor="middle" fill="#2e2e2e" font-weight="normal" textLength="16.0" lengthAdjust="spacingAndGlyphs" stroke="#2e2e2e" stroke-width="0.1" >CTCF</text><text x="393.7" y="223.0" font-size="6.36" text-anchor="middle" fill="#2e2e2e" font-weight="normal" textLength="16.67" lengthAdjust="spacingAndGlyphs" stroke="#2e2e2e" stroke-width="0.1" >SMC1</text><text x="320.70000000000005" y="232.99999999999997" font-size="6.52" text-anchor="start" fill="#2a2a2a" font-weight="normal" textLength="72.31" lengthAdjust="spacingAndGlyphs" stroke="#2a2a2a" stroke-width="0.1" >Total SMC3 peaks = 1,077</text><text x="320.70000000000005" y="240.29999999999998" font-size="6.41" text-anchor="start" fill="#2a2a2a" font-weight="normal" textLength="75.51" lengthAdjust="spacingAndGlyphs" stroke="#2a2a2a" stroke-width="0.1" >None overlaping peaks = 74</text><rect x="417.4" y="138.6" width="93.6" height="104.8" fill="#fff" stroke="#333" stroke-width="1.2"/><text x="462.2" y="148.3" font-size="8.34" text-anchor="middle" fill="#222" font-weight="normal" textLength="34.56" lengthAdjust="spacingAndGlyphs" stroke="#222" stroke-width="0.1" >Intergenic</text><ellipse cx="462.6" cy="193.0" rx="25.0" ry="26.5" fill="#dcdcef"/><ellipse cx="455.7" cy="190.2" rx="28.1" ry="28.1" fill="#d0d6d0"/><g clip-path="url(#sc3)"><ellipse cx="455.7" cy="190.2" rx="28.1" ry="28.1" fill="#b6bdcc"/></g><circle cx="473.0" cy="174.8" r="12.0" fill="url(#yg3)"/><g filter="url(#ysoft)"><circle cx="473.0" cy="174.8" r="9.0" fill="#f0d68e"/><g clip-path="url(#cc3)"><circle cx="473.0" cy="174.8" r="9.0" fill="#e8cc88"/></g><g clip-path="url(#cc3)"><g clip-path="url(#sc3)"><circle cx="473.0" cy="174.8" r="9.0" fill="#d4b263"/></g></g></g><line x1="468.5" y1="160.0" x2="471.3" y2="166.8" stroke="#222" stroke-width="1.15"/><line x1="481.5" y1="174.0" x2="491.5" y2="178.3" stroke="#222" stroke-width="1.15"/><text x="456.0" y="158.4" font-size="6.36" text-anchor="middle" fill="#2e2e2e" font-weight="normal" textLength="26.01" lengthAdjust="spacingAndGlyphs" stroke="#2e2e2e" stroke-width="0.1" >43 (1.0%)</text><text x="487.3" y="161.6" font-size="6.36" text-anchor="middle" fill="#2e2e2e" font-weight="normal" textLength="6.67" lengthAdjust="spacingAndGlyphs" stroke="#2e2e2e" stroke-width="0.1" >31</text><text x="500.1" y="161.6" font-size="6.36" text-anchor="middle" fill="#2e2e2e" font-weight="normal" textLength="11.34" lengthAdjust="spacingAndGlyphs" stroke="#2e2e2e" stroke-width="0.1" >YY1</text><text x="487.0" y="168.6" font-size="6.36" text-anchor="middle" fill="#2e2e2e" font-weight="normal" textLength="17.67" lengthAdjust="spacingAndGlyphs" stroke="#2e2e2e" stroke-width="0.1" >(0.7%)</text><text x="430.5" y="172.7" font-size="6.36" text-anchor="middle" fill="#2e2e2e" font-weight="normal" textLength="10.01" lengthAdjust="spacingAndGlyphs" stroke="#2e2e2e" stroke-width="0.1" >890</text><text x="430.0" y="180.0" font-size="6.36" text-anchor="middle" fill="#2e2e2e" font-weight="normal" textLength="21.01" lengthAdjust="spacingAndGlyphs" stroke="#2e2e2e" stroke-width="0.1" >(20.2%)</text><text x="472.7" y="177.0" font-size="6.36" text-anchor="middle" fill="#2e2e2e" font-weight="normal" textLength="10.01" lengthAdjust="spacingAndGlyphs" stroke="#2e2e2e" stroke-width="0.1" >264</text><text x="472.5" y="183.4" font-size="6.36" text-anchor="middle" fill="#2e2e2e" font-weight="normal" textLength="17.67" lengthAdjust="spacingAndGlyphs" stroke="#2e2e2e" stroke-width="0.1" >(6.0%)</text><text x="498.1" y="179.0" font-size="6.36" text-anchor="middle" fill="#2e2e2e" font-weight="normal" textLength="6.67" lengthAdjust="spacingAndGlyphs" stroke="#2e2e2e" stroke-width="0.1" >37</text><text x="497.0" y="185.4" font-size="6.36" text-anchor="middle" fill="#2e2e2e" font-weight="normal" textLength="17.67" lengthAdjust="spacingAndGlyphs" stroke="#2e2e2e" stroke-width="0.1" >(0.8%)</text><text x="456.3" y="198.0" font-size="6.36" text-anchor="middle" fill="#2e2e2e" font-weight="normal" textLength="13.35" lengthAdjust="spacingAndGlyphs" stroke="#2e2e2e" stroke-width="0.1" >2757</text><text x="456.1" y="205.0" font-size="6.36" text-anchor="middle" fill="#2e2e2e" font-weight="normal" textLength="21.01" lengthAdjust="spacingAndGlyphs" stroke="#2e2e2e" stroke-width="0.1" >(62.6%)</text><text x="493.3" y="203.2" font-size="6.36" text-anchor="middle" fill="#2e2e2e" font-weight="normal" textLength="10.01" lengthAdjust="spacingAndGlyphs" stroke="#2e2e2e" stroke-width="0.1" >382</text><text x="492.9" y="209.6" font-size="6.36" text-anchor="middle" fill="#2e2e2e" font-weight="normal" textLength="17.67" lengthAdjust="spacingAndGlyphs" stroke="#2e2e2e" stroke-width="0.1" >(8.7%)</text><text x="428.5" y="215.5" font-size="6.36" text-anchor="middle" fill="#2e2e2e" font-weight="normal" textLength="16.0" lengthAdjust="spacingAndGlyphs" stroke="#2e2e2e" stroke-width="0.1" >CTCF</text><text x="492.1" y="224.8" font-size="6.36" text-anchor="middle" fill="#2e2e2e" font-weight="normal" textLength="16.67" lengthAdjust="spacingAndGlyphs" stroke="#2e2e2e" stroke-width="0.1" >SMC1</text><text x="419.5" y="232.99999999999997" font-size="6.52" text-anchor="start" fill="#2a2a2a" font-weight="normal" textLength="72.31" lengthAdjust="spacingAndGlyphs" stroke="#2a2a2a" stroke-width="0.1" >Total SMC3 peaks = 4,827</text><text x="419.5" y="240.29999999999998" font-size="6.41" text-anchor="start" fill="#2a2a2a" font-weight="normal" textLength="78.88" lengthAdjust="spacingAndGlyphs" stroke="#2a2a2a" stroke-width="0.1" >None overlaping peaks = 423</text><rect x="318.6" y="251.5" width="93.4" height="104.8" fill="#fff" stroke="#333" stroke-width="1.2"/><text x="365.7" y="260.2" font-size="8.34" text-anchor="middle" fill="#222" font-weight="normal" textLength="20.13" lengthAdjust="spacingAndGlyphs" stroke="#222" stroke-width="0.1" >Intron</text><ellipse cx="364.6" cy="306.4" rx="24.8" ry="27.4" fill="#dcdcef"/><ellipse cx="357.4" cy="303.3" rx="28.0" ry="28.5" fill="#d0d6d0"/><g clip-path="url(#sc4)"><ellipse cx="357.4" cy="303.3" rx="28.0" ry="28.5" fill="#b6bdcc"/></g><circle cx="375.0" cy="288.6" r="15.2" fill="url(#yg4)"/><g filter="url(#ysoft)"><circle cx="375.0" cy="288.6" r="12.2" fill="#f0d68e"/><g clip-path="url(#cc4)"><circle cx="375.0" cy="288.6" r="12.2" fill="#e8cc88"/></g><g clip-path="url(#cc4)"><g clip-path="url(#sc4)"><circle cx="375.0" cy="288.6" r="12.2" fill="#d4b263"/></g></g></g><line x1="365.2" y1="269.0" x2="372.1" y2="278.8" stroke="#222" stroke-width="1.15"/><line x1="385.0" y1="288.8" x2="392.2" y2="288.8" stroke="#222" stroke-width="1.15"/><text x="349.8" y="269.3" font-size="6.36" text-anchor="middle" fill="#2e2e2e" font-weight="normal" textLength="29.35" lengthAdjust="spacingAndGlyphs" stroke="#2e2e2e" stroke-width="0.1" >143 (1.7%)</text><text x="385.3" y="269.5" font-size="6.36" text-anchor="middle" fill="#2e2e2e" font-weight="normal" textLength="10.01" lengthAdjust="spacingAndGlyphs" stroke="#2e2e2e" stroke-width="0.1" >108</text><text x="401.6" y="272.2" font-size="6.36" text-anchor="middle" fill="#2e2e2e" font-weight="normal" textLength="11.34" lengthAdjust="spacingAndGlyphs" stroke="#2e2e2e" stroke-width="0.1" >YY1</text><text x="384.4" y="276.4" font-size="6.36" text-anchor="middle" fill="#2e2e2e" font-weight="normal" textLength="17.67" lengthAdjust="spacingAndGlyphs" stroke="#2e2e2e" stroke-width="0.1" >(1.3%)</text><text x="331.4" y="286.0" font-size="6.36" text-anchor="middle" fill="#2e2e2e" font-weight="normal" textLength="13.35" lengthAdjust="spacingAndGlyphs" stroke="#2e2e2e" stroke-width="0.1" >1552</text><text x="330.7" y="293.4" font-size="6.36" text-anchor="middle" fill="#2e2e2e" font-weight="normal" textLength="21.01" lengthAdjust="spacingAndGlyphs" stroke="#2e2e2e" stroke-width="0.1" >(18.3%)</text><text x="373.9" y="287.9" font-size="6.36" text-anchor="middle" fill="#2e2e2e" font-weight="normal" textLength="10.01" lengthAdjust="spacingAndGlyphs" stroke="#2e2e2e" stroke-width="0.1" >859</text><text x="373.5" y="295.5" font-size="6.36" text-anchor="middle" fill="#2e2e2e" font-weight="normal" textLength="21.01" lengthAdjust="spacingAndGlyphs" stroke="#2e2e2e" stroke-width="0.1" >(10.1%)</text><text x="402.3" y="286.0" font-size="6.36" text-anchor="middle" fill="#2e2e2e" font-weight="normal" textLength="10.01" lengthAdjust="spacingAndGlyphs" stroke="#2e2e2e" stroke-width="0.1" >159</text><text x="401.8" y="293.4" font-size="6.36" text-anchor="middle" fill="#2e2e2e" font-weight="normal" textLength="17.67" lengthAdjust="spacingAndGlyphs" stroke="#2e2e2e" stroke-width="0.1" >(1.9%)</text><text x="359.1" y="309.1" font-size="6.36" text-anchor="middle" fill="#2e2e2e" font-weight="normal" textLength="13.35" lengthAdjust="spacingAndGlyphs" stroke="#2e2e2e" stroke-width="0.1" >4949</text><text x="358.3" y="316.0" font-size="6.36" text-anchor="middle" fill="#2e2e2e" font-weight="normal" textLength="21.01" lengthAdjust="spacingAndGlyphs" stroke="#2e2e2e" stroke-width="0.1" >(58.3%)</text><text x="392.4" y="320.8" font-size="6.36" text-anchor="middle" fill="#2e2e2e" font-weight="normal" textLength="10.01" lengthAdjust="spacingAndGlyphs" stroke="#2e2e2e" stroke-width="0.1" >723</text><text x="392.9" y="327.1" font-size="6.36" text-anchor="middle" fill="#2e2e2e" font-weight="normal" textLength="17.67" lengthAdjust="spacingAndGlyphs" stroke="#2e2e2e" stroke-width="0.1" >(8.5%)</text><text x="329.5" y="329.3" font-size="6.36" text-anchor="middle" fill="#2e2e2e" font-weight="normal" textLength="16.0" lengthAdjust="spacingAndGlyphs" stroke="#2e2e2e" stroke-width="0.1" >CTCF</text><text x="392.9" y="337.2" font-size="6.36" text-anchor="middle" fill="#2e2e2e" font-weight="normal" textLength="16.67" lengthAdjust="spacingAndGlyphs" stroke="#2e2e2e" stroke-width="0.1" >SMC1</text><text x="320.70000000000005" y="345.90000000000003" font-size="6.52" text-anchor="start" fill="#2a2a2a" font-weight="normal" textLength="72.31" lengthAdjust="spacingAndGlyphs" stroke="#2a2a2a" stroke-width="0.1" >Total SMC3 peaks = 9,239</text><text x="320.70000000000005" y="353.2" font-size="6.41" text-anchor="start" fill="#2a2a2a" font-weight="normal" textLength="78.88" lengthAdjust="spacingAndGlyphs" stroke="#2a2a2a" stroke-width="0.1" >None overlaping peaks = 746</text><rect x="417.4" y="251.5" width="93.6" height="104.8" fill="#fff" stroke="#333" stroke-width="1.2"/><text x="464.2" y="260.2" font-size="8.34" text-anchor="middle" fill="#222" font-weight="normal" textLength="65.16" lengthAdjust="spacingAndGlyphs" stroke="#222" stroke-width="0.1" >Proximal Promoter</text><ellipse cx="460.1" cy="309.1" rx="26.8" ry="26.8" fill="#dcdcef"/><ellipse cx="454.2" cy="305.3" rx="29.4" ry="29.4" fill="#d0d6d0"/><g clip-path="url(#sc5)"><ellipse cx="454.2" cy="305.3" rx="29.4" ry="29.4" fill="#b6bdcc"/></g><circle cx="464.4" cy="294.0" r="25.3" fill="url(#yg5)"/><g filter="url(#ysoft)"><circle cx="464.4" cy="294.0" r="22.3" fill="#f0d68e"/><g clip-path="url(#cc5)"><circle cx="464.4" cy="294.0" r="22.3" fill="#e8cc88"/></g><g clip-path="url(#cc5)"><g clip-path="url(#sc5)"><circle cx="464.4" cy="294.0" r="22.3" fill="#d4b263"/></g></g></g><line x1="447.8" y1="276.1" x2="453.3" y2="281.3" stroke="#222" stroke-width="1.15"/><line x1="484.4" y1="296.1" x2="491.8" y2="296.1" stroke="#222" stroke-width="1.15"/><text x="437.9" y="267.6" font-size="6.36" text-anchor="middle" fill="#2e2e2e" font-weight="normal" textLength="6.67" lengthAdjust="spacingAndGlyphs" stroke="#2e2e2e" stroke-width="0.1" >84</text><text x="437.7" y="275.1" font-size="6.36" text-anchor="middle" fill="#2e2e2e" font-weight="normal" textLength="17.67" lengthAdjust="spacingAndGlyphs" stroke="#2e2e2e" stroke-width="0.1" >(6.6%)</text><text x="479.1" y="272.9" font-size="6.36" text-anchor="middle" fill="#2e2e2e" font-weight="normal" textLength="6.67" lengthAdjust="spacingAndGlyphs" stroke="#2e2e2e" stroke-width="0.1" >61</text><text x="498.0" y="276.0" font-size="6.36" text-anchor="middle" fill="#2e2e2e" font-weight="normal" textLength="11.34" lengthAdjust="spacingAndGlyphs" stroke="#2e2e2e" stroke-width="0.1" >YY1</text><text x="479.1" y="279.4" font-size="6.36" text-anchor="middle" fill="#2e2e2e" font-weight="normal" textLength="17.67" lengthAdjust="spacingAndGlyphs" stroke="#2e2e2e" stroke-width="0.1" >(4.8%)</text><text x="427.6" y="287.8" font-size="6.36" text-anchor="middle" fill="#2e2e2e" font-weight="normal" textLength="10.01" lengthAdjust="spacingAndGlyphs" stroke="#2e2e2e" stroke-width="0.1" >105</text><text x="426.9" y="295.0" font-size="6.36" text-anchor="middle" fill="#2e2e2e" font-weight="normal" textLength="17.67" lengthAdjust="spacingAndGlyphs" stroke="#2e2e2e" stroke-width="0.1" >(8.2%)</text><text x="460.2" y="297.5" font-size="6.36" text-anchor="middle" fill="#2e2e2e" font-weight="normal" textLength="10.01" lengthAdjust="spacingAndGlyphs" stroke="#2e2e2e" stroke-width="0.1" >409</text><text x="460.0" y="304.6" font-size="6.36" text-anchor="middle" fill="#2e2e2e" font-weight="normal" textLength="21.01" lengthAdjust="spacingAndGlyphs" stroke="#2e2e2e" stroke-width="0.1" >(32.0%)</text><text x="498.5" y="296.0" font-size="6.36" text-anchor="middle" fill="#2e2e2e" font-weight="normal" textLength="6.67" lengthAdjust="spacingAndGlyphs" stroke="#2e2e2e" stroke-width="0.1" >59</text><text x="497.9" y="303.2" font-size="6.36" text-anchor="middle" fill="#2e2e2e" font-weight="normal" textLength="17.67" lengthAdjust="spacingAndGlyphs" stroke="#2e2e2e" stroke-width="0.1" >(4.6%)</text><text x="450.4" y="322.2" font-size="6.36" text-anchor="middle" fill="#2e2e2e" font-weight="normal" textLength="10.01" lengthAdjust="spacingAndGlyphs" stroke="#2e2e2e" stroke-width="0.1" >471</text><text x="450.8" y="329.2" font-size="6.36" text-anchor="middle" fill="#2e2e2e" font-weight="normal" textLength="21.01" lengthAdjust="spacingAndGlyphs" stroke="#2e2e2e" stroke-width="0.1" >(36.9%)</text><text x="488.1" y="323.0" font-size="6.36" text-anchor="middle" fill="#2e2e2e" font-weight="normal" textLength="6.67" lengthAdjust="spacingAndGlyphs" stroke="#2e2e2e" stroke-width="0.1" >89</text><text x="487.5" y="330.0" font-size="6.36" text-anchor="middle" fill="#2e2e2e" font-weight="normal" textLength="17.67" lengthAdjust="spacingAndGlyphs" stroke="#2e2e2e" stroke-width="0.1" >(7.0%)</text><text x="425.2" y="332.0" font-size="6.36" text-anchor="middle" fill="#2e2e2e" font-weight="normal" textLength="16.0" lengthAdjust="spacingAndGlyphs" stroke="#2e2e2e" stroke-width="0.1" >CTCF</text><text x="486.5" y="338.5" font-size="6.36" text-anchor="middle" fill="#2e2e2e" font-weight="normal" textLength="16.67" lengthAdjust="spacingAndGlyphs" stroke="#2e2e2e" stroke-width="0.1" >SMC1</text><text x="419.5" y="345.90000000000003" font-size="6.52" text-anchor="start" fill="#2a2a2a" font-weight="normal" textLength="72.31" lengthAdjust="spacingAndGlyphs" stroke="#2a2a2a" stroke-width="0.1" >Total SMC3 peaks = 1,343</text><text x="419.5" y="353.2" font-size="6.41" text-anchor="start" fill="#2a2a2a" font-weight="normal" textLength="75.51" lengthAdjust="spacingAndGlyphs" stroke="#2a2a2a" stroke-width="0.1" >None overlaping peaks = 65</text><text x="6.4" y="388.9" font-size="11.0" text-anchor="start" fill="#111" font-weight="bold" >C</text><rect x="158.1" y="392.6" width="80.5" height="23.69999999999999" fill="#f2d0c4" stroke="#2a2222" stroke-width="1.1"/><text x="198.3" y="401.8" font-size="7.7" text-anchor="middle" fill="#3a2a2a" font-weight="bold" textLength="66.2" lengthAdjust="spacingAndGlyphs" >Cohesin and CTCF, but not</text><text x="198.3" y="411.4" font-size="7.7" text-anchor="middle" fill="#3a2a2a" font-weight="bold" textLength="58.0" lengthAdjust="spacingAndGlyphs" >YY1 co-occupied genes</text><rect x="158.1" y="416.3" width="80.5" height="67.19999999999999" fill="#fff" stroke="#222" stroke-width="1.1"/><rect x="158.6" y="418.60" width="31.60" height="3.6" fill="#c40d2c"/><line x1="155.5" y1="420.40" x2="158.1" y2="420.40" stroke="#222" stroke-width="0.8"/><text x="152.0" y="422.1" font-size="6.36" text-anchor="end" fill="#2a2a2a" font-weight="normal" textLength="65.38" lengthAdjust="spacingAndGlyphs" stroke="#2a2a2a" stroke-width="0.1" >Localization (164 genes)</text><rect x="158.6" y="425.20" width="27.70" height="3.6" fill="#c40d2c"/><line x1="155.5" y1="427.00" x2="158.1" y2="427.00" stroke="#222" stroke-width="0.8"/><text x="152.0" y="428.70000000000005" font-size="6.36" text-anchor="end" fill="#2a2a2a" font-weight="normal" textLength="82.61" lengthAdjust="spacingAndGlyphs" stroke="#2a2a2a" stroke-width="0.1" >Cell Differentiation (126 genes)</text><rect x="158.6" y="431.80" width="27.70" height="3.6" fill="#c40d2c"/><line x1="155.5" y1="433.60" x2="158.1" y2="433.60" stroke="#222" stroke-width="0.8"/><text x="152.0" y="435.3" font-size="6.36" text-anchor="end" fill="#2a2a2a" font-weight="normal" textLength="119.06" lengthAdjust="spacingAndGlyphs" stroke="#2a2a2a" stroke-width="0.1" >Cellular Developmental Process (127 genes)</text><rect x="158.6" y="438.40" width="26.40" height="3.6" fill="#c40d2c"/><line x1="155.5" y1="440.20" x2="158.1" y2="440.20" stroke="#222" stroke-width="0.8"/><text x="152.0" y="441.90000000000003" font-size="6.36" text-anchor="end" fill="#2a2a2a" font-weight="normal" textLength="90.71" lengthAdjust="spacingAndGlyphs" stroke="#2a2a2a" stroke-width="0.1" >System Development (136 genes)</text><rect x="158.6" y="445.00" width="23.30" height="3.6" fill="#c40d2c"/><line x1="155.5" y1="446.80" x2="158.1" y2="446.80" stroke="#222" stroke-width="0.8"/><text x="152.0" y="448.5" font-size="6.36" text-anchor="end" fill="#2a2a2a" font-weight="normal" textLength="97.05" lengthAdjust="spacingAndGlyphs" stroke="#2a2a2a" stroke-width="0.1" >Developmental Process (164 genes)</text><rect x="158.6" y="451.60" width="22.00" height="3.6" fill="#c40d2c"/><line x1="155.5" y1="453.40" x2="158.1" y2="453.40" stroke="#222" stroke-width="0.8"/><text x="152.0" y="455.1" font-size="6.36" text-anchor="end" fill="#2a2a2a" font-weight="normal" textLength="126.4" lengthAdjust="spacingAndGlyphs" stroke="#2a2a2a" stroke-width="0.1" >Anatomical Structure Development (155 genes)</text><rect x="158.6" y="458.20" width="21.00" height="3.6" fill="#c40d2c"/><line x1="155.5" y1="460.00" x2="158.1" y2="460.00" stroke="#222" stroke-width="0.8"/><text x="152.0" y="461.70000000000005" font-size="6.36" text-anchor="end" fill="#2a2a2a" font-weight="normal" textLength="130.06" lengthAdjust="spacingAndGlyphs" stroke="#2a2a2a" stroke-width="0.1" >Multicellular Organism Development (145 genes)</text><rect x="158.6" y="464.80" width="19.10" height="3.6" fill="#c40d2c"/><line x1="155.5" y1="466.60" x2="158.1" y2="466.60" stroke="#222" stroke-width="0.8"/><text x="152.0" y="468.3" font-size="6.36" text-anchor="end" fill="#2a2a2a" font-weight="normal" textLength="146.09" lengthAdjust="spacingAndGlyphs" stroke="#2a2a2a" stroke-width="0.1" >Cellular Response to Endogenous Stimulus (50 genes)</text><rect x="158.6" y="471.40" width="18.10" height="3.6" fill="#c40d2c"/><line x1="155.5" y1="473.20" x2="158.1" y2="473.20" stroke="#222" stroke-width="0.8"/><text x="152.0" y="474.90000000000003" font-size="6.36" text-anchor="end" fill="#2a2a2a" font-weight="normal" textLength="130.74" lengthAdjust="spacingAndGlyphs" stroke="#2a2a2a" stroke-width="0.1" >Regulation of Developmental Process (84 genes)</text><rect x="158.6" y="478.00" width="16.20" height="3.6" fill="#c40d2c"/><line x1="155.5" y1="479.80" x2="158.1" y2="479.80" stroke="#222" stroke-width="0.8"/><text x="152.0" y="481.5" font-size="6.36" text-anchor="end" fill="#2a2a2a" font-weight="normal" textLength="126.74" lengthAdjust="spacingAndGlyphs" stroke="#2a2a2a" stroke-width="0.1" >Positive Regulation of Cell Migration (32 genes)</text><line x1="180.5" y1="483.5" x2="180.5" y2="485.7" stroke="#222" stroke-width="0.8"/><text x="180.5" y="495.0" font-size="6.68" text-anchor="middle" fill="#2a2a2a" font-weight="normal" textLength="3.5" lengthAdjust="spacingAndGlyphs" stroke="#2a2a2a" stroke-width="0.1" >6</text><line x1="207.7" y1="483.5" x2="207.7" y2="485.7" stroke="#222" stroke-width="0.8"/><text x="207.7" y="495.0" font-size="6.68" text-anchor="middle" fill="#2a2a2a" font-weight="normal" textLength="3.5" lengthAdjust="spacingAndGlyphs" stroke="#2a2a2a" stroke-width="0.1" >9</text><line x1="235.2" y1="483.5" x2="235.2" y2="485.7" stroke="#222" stroke-width="0.8"/><text x="235.2" y="495.0" font-size="6.68" text-anchor="middle" fill="#2a2a2a" font-weight="normal" textLength="7.01" lengthAdjust="spacingAndGlyphs" stroke="#2a2a2a" stroke-width="0.1" >12</text><text x="197.8" y="506.2" font-size="6.9" font-weight="bold" text-anchor="middle" fill="#333" textLength="48.6" lengthAdjust="spacingAndGlyphs">−log<tspan font-size="4.8" dy="1.8">10</tspan><tspan dy="-1.8"> (adjusted P)</tspan></text><text x="247.65" y="392.6" font-size="11.0" text-anchor="start" fill="#111" font-weight="bold" >D</text><rect x="414.2" y="393.4" width="99.19999999999999" height="23.100000000000023" fill="#f2d0c4" stroke="#2a2222" stroke-width="1.1"/><text x="463.7" y="402.59999999999997" font-size="7.7" text-anchor="middle" fill="#3a2a2a" font-weight="bold" textLength="45.7" lengthAdjust="spacingAndGlyphs" >Cohesin,CTCF and</text><text x="463.7" y="412.19999999999993" font-size="7.7" text-anchor="middle" fill="#3a2a2a" font-weight="bold" textLength="59.6" lengthAdjust="spacingAndGlyphs" >YY1 co-occupied genes</text><rect x="414.2" y="416.5" width="99.19999999999999" height="66.89999999999998" fill="#fff" stroke="#222" stroke-width="1.1"/><rect x="414.3" y="418.60" width="96.50" height="3.6" fill="#c40d2c"/><line x1="411.59999999999997" y1="420.40" x2="414.2" y2="420.40" stroke="#222" stroke-width="0.8"/><text x="407.8" y="422.1" font-size="6.38" text-anchor="end" fill="#2a2a2a" font-weight="normal" textLength="82.99" lengthAdjust="spacingAndGlyphs" stroke="#2a2a2a" stroke-width="0.1" >Metabolic Process (257 genes)</text><rect x="414.3" y="425.20" width="91.50" height="3.6" fill="#c40d2c"/><line x1="411.59999999999997" y1="427.00" x2="414.2" y2="427.00" stroke="#222" stroke-width="0.8"/><text x="407.8" y="428.70000000000005" font-size="6.38" text-anchor="end" fill="#2a2a2a" font-weight="normal" textLength="135.86" lengthAdjust="spacingAndGlyphs" stroke="#2a2a2a" stroke-width="0.1" >Organic Substance Metabolic Process (248 genes)</text><rect x="414.3" y="431.80" width="78.50" height="3.6" fill="#c40d2c"/><line x1="411.59999999999997" y1="433.60" x2="414.2" y2="433.60" stroke="#222" stroke-width="0.8"/><text x="407.8" y="435.3" font-size="6.38" text-anchor="end" fill="#2a2a2a" font-weight="normal" textLength="105.07" lengthAdjust="spacingAndGlyphs" stroke="#2a2a2a" stroke-width="0.1" >Cellular Metabolic Process (234 genes)</text><rect x="414.3" y="438.40" width="78.50" height="3.6" fill="#c40d2c"/><line x1="411.59999999999997" y1="440.20" x2="414.2" y2="440.20" stroke="#222" stroke-width="0.8"/><text x="407.8" y="441.90000000000003" font-size="6.38" text-anchor="end" fill="#2a2a2a" font-weight="normal" textLength="77.63" lengthAdjust="spacingAndGlyphs" stroke="#2a2a2a" stroke-width="0.1" >Cellular Process (335 genes)</text><rect x="414.3" y="445.00" width="72.30" height="3.6" fill="#c40d2c"/><line x1="411.59999999999997" y1="446.80" x2="414.2" y2="446.80" stroke="#222" stroke-width="0.8"/><text x="407.8" y="448.5" font-size="6.38" text-anchor="end" fill="#2a2a2a" font-weight="normal" textLength="125.48" lengthAdjust="spacingAndGlyphs" stroke="#2a2a2a" stroke-width="0.1" >Macromolecule Metabolic Process (216 genes)</text><rect x="414.3" y="451.60" width="65.60" height="3.6" fill="#c40d2c"/><line x1="411.59999999999997" y1="453.40" x2="414.2" y2="453.40" stroke="#222" stroke-width="0.8"/><text x="407.8" y="455.1" font-size="6.38" text-anchor="end" fill="#2a2a2a" font-weight="normal" textLength="160.96" lengthAdjust="spacingAndGlyphs" stroke="#2a2a2a" stroke-width="0.1" >Cellular Component Organization or Biogenesis (163 genes)</text><rect x="414.3" y="458.20" width="65.60" height="3.6" fill="#c40d2c"/><line x1="411.59999999999997" y1="460.00" x2="414.2" y2="460.00" stroke="#222" stroke-width="0.8"/><text x="407.8" y="461.70000000000005" font-size="6.38" text-anchor="end" fill="#2a2a2a" font-weight="normal" textLength="105.39" lengthAdjust="spacingAndGlyphs" stroke="#2a2a2a" stroke-width="0.1" >Primary Metabolic Process (226 genes)</text><rect x="414.3" y="464.80" width="55.70" height="3.6" fill="#c40d2c"/><line x1="411.59999999999997" y1="466.60" x2="414.2" y2="466.60" stroke="#222" stroke-width="0.8"/><text x="407.8" y="468.3" font-size="6.38" text-anchor="end" fill="#2a2a2a" font-weight="normal" textLength="138.54" lengthAdjust="spacingAndGlyphs" stroke="#2a2a2a" stroke-width="0.1" >Nitrogen Compound Metabolic Process (213 genes)</text><rect x="414.3" y="471.40" width="46.40" height="3.6" fill="#c40d2c"/><line x1="411.59999999999997" y1="473.20" x2="414.2" y2="473.20" stroke="#222" stroke-width="0.8"/><text x="407.8" y="474.90000000000003" font-size="6.38" text-anchor="end" fill="#2a2a2a" font-weight="normal" textLength="65.6" lengthAdjust="spacingAndGlyphs" stroke="#2a2a2a" stroke-width="0.1" >Localization (158 genes)</text><rect x="414.3" y="478.00" width="27.30" height="3.6" fill="#c40d2c"/><line x1="411.59999999999997" y1="479.80" x2="414.2" y2="479.80" stroke="#222" stroke-width="0.8"/><text x="407.8" y="481.5" font-size="6.38" text-anchor="end" fill="#2a2a2a" font-weight="normal" textLength="122.81" lengthAdjust="spacingAndGlyphs" stroke="#2a2a2a" stroke-width="0.1" >Cellular Component Organization (146 genes)</text><line x1="436.5" y1="483.4" x2="436.5" y2="485.59999999999997" stroke="#222" stroke-width="0.8"/><text x="436.5" y="495.0" font-size="6.68" text-anchor="middle" fill="#2a2a2a" font-weight="normal" textLength="3.5" lengthAdjust="spacingAndGlyphs" stroke="#2a2a2a" stroke-width="0.1" >6</text><line x1="464.7" y1="483.4" x2="464.7" y2="485.59999999999997" stroke="#222" stroke-width="0.8"/><text x="464.7" y="495.0" font-size="6.68" text-anchor="middle" fill="#2a2a2a" font-weight="normal" textLength="3.5" lengthAdjust="spacingAndGlyphs" stroke="#2a2a2a" stroke-width="0.1" >9</text><line x1="492.4" y1="483.4" x2="492.4" y2="485.59999999999997" stroke="#222" stroke-width="0.8"/><text x="492.4" y="495.0" font-size="6.68" text-anchor="middle" fill="#2a2a2a" font-weight="normal" textLength="7.01" lengthAdjust="spacingAndGlyphs" stroke="#2a2a2a" stroke-width="0.1" >12</text><text x="464.8" y="506.2" font-size="6.9" font-weight="bold" text-anchor="middle" fill="#333" textLength="48.6" lengthAdjust="spacingAndGlyphs">−log<tspan font-size="4.8" dy="1.8">10</tspan><tspan dy="-1.8"> (adjusted P)</tspan></text></svg></body></html>
